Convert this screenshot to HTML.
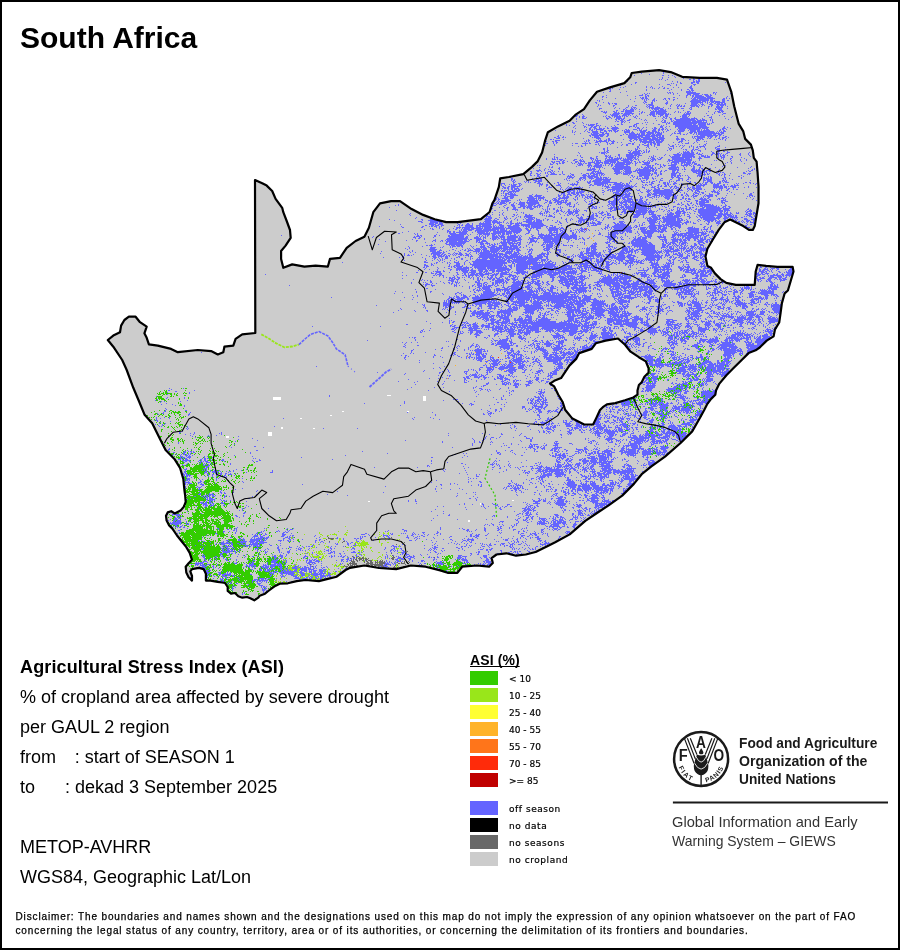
<!DOCTYPE html>
<html><head><meta charset="utf-8"><title>South Africa - Agricultural Stress Index</title>
<style>
html,body{margin:0;padding:0;background:#fff;}
body{width:900px;height:950px;position:relative;overflow:hidden;font-family:"Liberation Sans",Arial,sans-serif;color:#000;}
.frame{position:absolute;left:0;top:0;width:900px;height:950px;box-sizing:border-box;border:2px solid #000;}
.map{position:absolute;left:0;top:0;}
.t{position:absolute;white-space:nowrap;line-height:1;}
h1{position:absolute;left:20px;top:23px;margin:0;font-size:30px;font-weight:bold;line-height:1;white-space:nowrap;}
.info{position:absolute;left:20px;font-size:18px;line-height:1;white-space:nowrap;}
.leg-title{position:absolute;left:470px;top:653px;font-size:14px;font-weight:bold;text-decoration:underline;text-underline-offset:0.8px;text-decoration-thickness:1px;text-decoration-skip-ink:none;letter-spacing:0.1px;line-height:1;white-space:nowrap;}
.sw{position:absolute;left:470px;width:28px;height:14px;}
.lb{position:absolute;left:509px;-webkit-text-stroke:0.2px #000;font-family:"DejaVu Sans","Liberation Sans",sans-serif;font-size:9px;line-height:1;white-space:nowrap;}
.lw{letter-spacing:0.55px;}
.fao{position:absolute;left:739px;font-size:15px;font-weight:bold;line-height:1;white-space:nowrap;color:#1a1a1a;transform:scaleX(0.915);transform-origin:0 0;}
.giews{position:absolute;left:672.2px;font-size:15px;line-height:1;white-space:nowrap;color:#333;transform:scaleX(0.976);transform-origin:0 0;}
.disc{position:absolute;left:15.5px;font-size:10px;letter-spacing:0.87px;-webkit-text-stroke:0.25px #000;line-height:1;white-space:nowrap;color:#000;}
</style></head>
<body>
<svg class="map" width="900" height="950" viewBox="0 0 900 950">
<polygon points="255,180 262.2,183.3 266.7,185.6 272.2,191 275.6,198.9 282.2,207.8 283.3,212.2 286.7,221 290,230 290.7,237.8 285.6,245.6 281.1,251 281.1,258.9 283.3,267.8 292.2,264.4 304.4,266.7 315.6,265.6 327.8,266.7 330,258.9 340,257.8 346.7,247.8 355.6,241 364.4,236.7 368.9,227.8 373.3,212.2 380,203.3 391.1,201.1 400,201.1 411.6,209.1 423.1,214.9 434.7,219.2 446.2,222.1 457.8,222.1 469.3,220.7 480.9,219.2 489.6,212 492.4,203.3 494.4,200.1 498.8,187.1 500.2,178.4 508.9,177 523.3,174.1 532,166.9 537.8,161.1 542.1,152.4 545,140.9 547.9,132.2 558,126.4 569.6,120.7 575.3,114.9 584,109.1 589.8,100.4 597,91.8 610,87.4 624.4,83.1 630.2,77.3 631.7,73 641.8,71.6 659.1,70.1 670.7,72.1 682.2,76.8 699.6,77.9 716.9,77.9 727,79.6 731.3,91.8 734.2,106.2 738.6,123.6 743.3,131.4 745.2,138.9 750.9,144.6 752.8,150.3 753.8,157.9 756.6,161.7 757.6,173 758.5,186.3 758.5,203.3 756.6,214.7 754.7,226.1 752.8,229.9 749,229.9 743.3,226.1 735.8,222.3 730.1,219.5 724.4,222.3 718.7,229.9 713,239.3 707.4,248.8 705.5,256.4 707.4,265.9 711.1,267.8 714.9,273.4 720.6,279.1 726.3,282.9 735.8,284.8 754.7,284.8 755.7,271.5 757.6,264.9 766.1,265.9 777.4,266.8 792.6,266.8 793.5,271.5 790.7,281 787.9,290.5 784.7,293.3 781.9,303.1 780.6,312.8 779.2,322.5 775,329.4 773.6,336.4 766.7,340.6 759.7,347.5 755.6,350.3 748.6,353.1 741.7,360 733.3,368.3 726.4,375.3 719.4,383.6 716,390.6 715.3,394.7 711.1,398.9 707,404.4 704.2,410 700,417.8 692.2,431.4 680.6,443 665,456.7 651.4,466.4 641.7,474.2 633.9,483.9 622.2,495.6 608.6,505.3 597,513 585.3,520.8 569.7,534.4 555.2,542.2 547.8,545.9 535.6,552 525.8,554.5 516,555.7 506.3,553.3 496.5,554.5 491.6,558.1 492.8,563 489.1,566.7 476.9,565.5 462.2,566.7 457.4,572.8 447.6,572.8 440.2,570.4 425.6,566.7 410.9,565.5 396.2,569.1 379.1,568 364.4,565.5 350,567.8 345.6,570 336.7,576.7 327.8,578.9 318.9,581.1 305.6,580 296.7,581.1 287.8,583.3 279.7,583.7 275.7,585.7 271.7,588.3 268.3,591 265,593.7 259.7,595.7 258.3,597.7 254.3,600.3 250.3,598.3 247,597 242.3,597.7 238.3,596.3 235,593 231,593.7 227.7,591 227.7,587 225,583 222.1,582.5 217.5,581.8 210.6,580.6 205.9,580.6 205.9,573.7 203.6,569.1 199,567.9 192,569.1 190.3,571.4 192,576 192,580.6 188.6,577.2 186.3,572.5 185.7,566.8 188.6,563.3 192,559.8 189.7,552.9 186.3,547.1 181.6,541.3 177,535.5 172.4,528.6 168.9,525.1 166.6,520.5 166,515.8 167.7,512.4 171.2,511.2 174.7,513.5 180.5,510.6 183.9,506.6 185.7,501.9 185.1,495 184.4,490 183.3,478.9 180,467.8 174.4,458.9 165.6,450 160,438.9 152.2,423.3 144.4,414.4 138.9,401 133.3,387.8 126.7,370 122.2,360 113.3,346.7 107.8,340 113.3,335.6 120,332.2 121.1,325.6 124.4,320 128.9,316.7 135.6,316.7 140,322.2 146.7,326.7 144.4,333.3 146.7,337.8 148.9,344.4 157.8,345.6 171.1,348.9 177.8,352.2 197.8,350 211.1,351.1 217.8,354.4 223.3,352.2 224.4,346.7 233.3,345.6 235.6,338.9 242.2,334.4 255.3,333" fill="#cccccc"/>
<path d="M663 71.5h1M636 72.5h1m26 0h1m6 0h1M641 73.5h1m21 0h1M649 74.5h1M634 75.5h1m27 0h2m4 0h1m3 0h1M674 76.5h1M662 77.5h1m5 0h1m6 0h1m12 0h1m5 0h1m2 0h1m2 0h2M662 78.5h1m20 0h1m9 0h1m5 0h1M659 79.5h1m1 0h1m5 0h1m21 0h2m2 0h2m3 0h2M665 80.5h1m27 0h1m2 0h1m1 0h2M626 81.5h2m44 0h1m4 0h1m15 0h2m1 0h4M635 82.5h2m40 0h1m2 0h1m10 0h4m1 0h3m26 0h1M635 83.5h1m35 0h1m1 0h1m6 0h2m9 0h2m4 0h2m29 0h1M631 84.5h1m27 0h1m7 0h3m6 0h1m16 0h3m32 0h1M620 85.5h1m49 0h1m5 0h1m14 0h1m2 0h1m34 0h1M625 86.5h1m20 0h1m4 0h1m10 0h1m27 0h2M620 87.5h1m2 0h1m22 0h1m3 0h1m1 0h1m6 0h1m4 0h1m8 0h1m4 0h1m10 0h3M607 88.5h1m2 0h1m1 0h1m39 0h1m1 0h1m3 0h1m4 0h2m2 0h2m21 0h3M609 89.5h2m8 0h1m26 0h1m24 0h1m9 0h1m5 0h2m2 0h2M610 90.5h1m35 0h1m22 0h1m11 0h1m7 0h1m1 0h3M609 91.5h2m15 0h1m59 0h5m1 0h1M603 92.5h1m16 0h1m46 0h1m1 0h2m1 0h1m13 0h10m17 0h2m1 0h1M644 93.5h1m2 0h1m1 0h1m18 0h1m1 0h1m2 0h1m3 0h1m9 0h13m13 0h1m1 0h1m14 0h1M642 94.5h1m2 0h2m26 0h1m13 0h4m2 0h6m3 0h1m1 0h4m2 0h1m4 0h1M606 95.5h1m20 0h1m11 0h4m2 0h1m1 0h2m30 0h1m6 0h2m2 0h1m1 0h2m1 0h7m3 0h4m1 0h2M602 96.5h2m31 0h1m9 0h2m1 0h1m37 0h1m5 0h2m1 0h9m2 0h5m16 0h1M602 97.5h1m3 0h1m33 0h1m1 0h2m1 0h2m26 0h2m11 0h1m5 0h1m1 0h12m1 0h6m13 0h1M615 98.5h1m19 0h1m5 0h3m1 0h3m6 0h1m9 0h2m2 0h2m7 0h1m13 0h1m1 0h3m1 0h18m8 0h2m1 0h1m2 0h1M602 99.5h1m27 0h1m11 0h1m1 0h1m1 0h1m1 0h1m4 0h2m8 0h1m1 0h1m3 0h1m3 0h2m17 0h6m1 0h10m1 0h3m9 0h3M597 100.5h1m1 0h1m44 0h1m1 0h1m5 0h3m1 0h1m9 0h1m6 0h1m17 0h18m1 0h3m1 0h1m7 0h3m2 0h2M599 101.5h1m34 0h1m9 0h2m6 0h1m1 0h1m12 0h1m22 0h11m1 0h4m1 0h1m2 0h10m2 0h3M595 102.5h2m6 0h1m4 0h1m34 0h1m1 0h2m4 0h2m13 0h2m23 0h12m2 0h1m1 0h1m1 0h1m1 0h3m1 0h10M596 103.5h1m11 0h2m2 0h1m1 0h3m27 0h1m6 0h2m12 0h3m17 0h1m5 0h7m2 0h1m1 0h1m4 0h1m2 0h2m2 0h2m1 0h3m1 0h2m1 0h2M598 104.5h1m10 0h1m5 0h2m29 0h1m1 0h5m13 0h1m4 0h1m5 0h1m1 0h1m11 0h6m1 0h1m2 0h3m5 0h4m3 0h10M598 105.5h1m1 0h1m12 0h2m13 0h1m6 0h2m10 0h1m1 0h5m16 0h1m5 0h1m1 0h2m1 0h1m2 0h1m5 0h8m1 0h1m2 0h1m1 0h1m6 0h2m4 0h2m1 0h4m1 0h1M597 106.5h1m15 0h1m14 0h1m3 0h1m13 0h1m1 0h2m2 0h2m3 0h1m12 0h1m6 0h2m1 0h2m1 0h2m6 0h4m1 0h3m2 0h1m6 0h2m1 0h1m4 0h4m1 0h2m4 0h1M615 107.5h1m10 0h2m3 0h1m1 0h3m11 0h1m1 0h5m1 0h5m3 0h1m13 0h1m12 0h2m6 0h1m9 0h1m7 0h7M599 108.5h3m12 0h1m4 0h1m5 0h1m5 0h2m1 0h1m1 0h1m12 0h1m1 0h12m5 0h1m1 0h1m6 0h2m2 0h3m5 0h1m1 0h1m16 0h1m6 0h1m1 0h5m5 0h1M599 109.5h1m23 0h2m1 0h1m3 0h4m1 0h1m3 0h1m12 0h1m1 0h5m1 0h4m1 0h1m24 0h2m23 0h2m1 0h4M616 110.5h2m5 0h1m1 0h9m16 0h1m2 0h1m1 0h2m1 0h8m17 0h1m35 0h4M601 111.5h2m1 0h1m1 0h1m6 0h2m1 0h1m4 0h3m1 0h9m5 0h1m2 0h1m8 0h16m8 0h1m2 0h1m8 0h3m18 0h1m6 0h1m1 0h3m1 0h3M603 112.5h4m7 0h3m1 0h1m6 0h7m9 0h2m1 0h1m5 0h5m1 0h10m8 0h1m3 0h1m1 0h1m4 0h1m1 0h2m1 0h1m23 0h1m3 0h3m1 0h1M577 113.5h1m27 0h1m7 0h7m1 0h2m1 0h10m5 0h1m1 0h1m8 0h5m1 0h11m1 0h1m15 0h1m1 0h5m15 0h1m7 0h1m8 0h3M575 114.5h1m6 0h1m27 0h1m1 0h7m4 0h7m2 0h1m6 0h1m9 0h6m1 0h1m1 0h6m1 0h4m1 0h1m12 0h7m22 0h1m9 0h1M576 115.5h2m5 0h1m22 0h1m4 0h7m1 0h1m2 0h5m1 0h1m1 0h1m5 0h1m10 0h1m2 0h1m1 0h3m5 0h3m2 0h3m14 0h5m2 0h1m17 0h2m10 0h1M573 116.5h1m1 0h2m2 0h1m2 0h3m18 0h1m1 0h1m2 0h2m2 0h1m1 0h7m1 0h1m1 0h1m1 0h2m5 0h1m1 0h1m1 0h1m15 0h3m2 0h1m1 0h1m2 0h1m1 0h3m12 0h1m1 0h5m1 0h1m15 0h1m6 0h1m12 0h1m7 0h1M573 117.5h1m5 0h1m2 0h2m2 0h1m19 0h1m2 0h2m3 0h1m1 0h5m3 0h1m9 0h2m27 0h2m1 0h1m2 0h1m5 0h1m6 0h6m6 0h1m14 0h3m19 0h1M576 118.5h1m5 0h4m20 0h3m2 0h1m4 0h6m1 0h2m11 0h1m2 0h1m15 0h1m6 0h1m2 0h2m3 0h2m2 0h2m4 0h10m1 0h6m5 0h1m8 0h1m13 0h1M576 119.5h1m30 0h1m7 0h2m1 0h2m1 0h3m5 0h2m10 0h1m3 0h1m17 0h1m6 0h2m3 0h20m1 0h2m2 0h1m1 0h3m5 0h1m1 0h1m15 0h1M616 120.5h1m3 0h3m1 0h1m2 0h3m14 0h1m1 0h1m9 0h1m5 0h1m1 0h2m5 0h1m1 0h1m2 0h20m1 0h10m3 0h1m1 0h1M576 121.5h1m38 0h1m1 0h2m2 0h3m1 0h1m35 0h1m2 0h2m5 0h2m1 0h17m1 0h10m1 0h1m2 0h1m5 0h1M572 122.5h2m8 0h1m38 0h2m1 0h1m4 0h1m15 0h1m1 0h1m14 0h4m1 0h1m1 0h1m3 0h34m5 0h2M573 123.5h2m8 0h1m12 0h2m23 0h1m14 0h3m3 0h1m10 0h1m12 0h1m1 0h2m3 0h24m1 0h8m1 0h1m1 0h1m1 0h1M562 124.5h1m3 0h1m19 0h1m1 0h1m1 0h5m1 0h1m20 0h2m2 0h2m11 0h3m9 0h1m11 0h2m6 0h1m6 0h19m1 0h3m2 0h8m1 0h3M561 125.5h1m4 0h1m2 0h1m5 0h1m7 0h1m4 0h6m2 0h3m1 0h1m13 0h1m18 0h2m1 0h1m24 0h1m1 0h1m11 0h23m1 0h7M574 126.5h1m9 0h2m5 0h2m1 0h3m2 0h1m5 0h1m5 0h1m3 0h1m13 0h3m1 0h2m1 0h1m23 0h3m3 0h1m2 0h1m5 0h23m1 0h8m17 0h1M573 127.5h1m10 0h1m1 0h1m3 0h2m1 0h3m3 0h1m7 0h1m4 0h6m11 0h1m5 0h1m1 0h2m4 0h1m2 0h1m7 0h2m4 0h3m2 0h1m9 0h1m2 0h31m14 0h2m2 0h1M575 128.5h1m13 0h2m3 0h3m2 0h3m1 0h2m2 0h2m2 0h8m18 0h3m2 0h1m9 0h1m1 0h3m2 0h1m2 0h2m2 0h1m11 0h8m1 0h14m1 0h6m14 0h4m4 0h1M586 129.5h1m2 0h2m1 0h1m1 0h1m1 0h8m8 0h5m8 0h2m1 0h1m4 0h4m2 0h1m1 0h1m4 0h1m6 0h3m2 0h2m1 0h3m1 0h1m1 0h1m2 0h1m6 0h1m1 0h6m4 0h11m1 0h1m2 0h1m1 0h3m11 0h1m1 0h2m2 0h1M555 130.5h1m16 0h1m12 0h1m3 0h1m1 0h2m3 0h1m3 0h3m1 0h2m2 0h4m1 0h3m1 0h2m3 0h1m1 0h1m1 0h4m7 0h1m1 0h3m1 0h4m5 0h4m2 0h2m2 0h1m4 0h2m9 0h7m3 0h1m1 0h6m1 0h3m1 0h1m1 0h7m9 0h2m2 0h2M572 131.5h1m2 0h1m8 0h1m2 0h1m4 0h6m2 0h1m3 0h3m2 0h1m1 0h1m2 0h4m6 0h6m2 0h1m7 0h6m2 0h2m2 0h5m1 0h1m4 0h1m2 0h1m8 0h1m2 0h6m6 0h6m1 0h17m3 0h1m1 0h1m1 0h1m1 0h3M572 132.5h1m1 0h1m13 0h2m2 0h6m2 0h4m2 0h1m8 0h1m8 0h6m1 0h3m6 0h5m1 0h8m1 0h5m1 0h1m1 0h1m10 0h1m4 0h2m8 0h4m1 0h3m1 0h17m1 0h1m1 0h1m1 0h4m19 0h1M580 133.5h1m10 0h1m1 0h6m3 0h2m1 0h4m16 0h1m3 0h6m2 0h1m1 0h1m1 0h4m2 0h7m1 0h1m1 0h5m10 0h1m1 0h2m1 0h4m6 0h1m2 0h2m2 0h1m1 0h1m1 0h22m1 0h3m19 0h1M574 134.5h1m16 0h7m1 0h6m2 0h2m14 0h1m2 0h2m1 0h11m1 0h4m1 0h5m1 0h3m1 0h6m9 0h1m8 0h1m2 0h2m1 0h1m6 0h1m2 0h1m1 0h14m1 0h3m2 0h4M558 135.5h1m1 0h1m28 0h2m1 0h12m3 0h2m11 0h2m6 0h9m1 0h12m1 0h10m1 0h2m6 0h1m26 0h1m2 0h18m1 0h2m2 0h1M557 136.5h2m4 0h1m26 0h1m3 0h5m1 0h3m3 0h2m20 0h15m2 0h10m1 0h2m1 0h2m1 0h2m12 0h2m14 0h1m1 0h11m2 0h6m2 0h2m2 0h1m5 0h2M554 137.5h2m2 0h2m2 0h2m1 0h1m26 0h1m1 0h6m28 0h12m1 0h9m2 0h4m1 0h7m13 0h1m14 0h1m1 0h1m2 0h8m3 0h1m1 0h2m3 0h1m3 0h1m2 0h4m2 0h1M556 138.5h4m23 0h1m12 0h5m7 0h2m19 0h8m1 0h3m2 0h8m1 0h6m1 0h6m11 0h3m2 0h3m9 0h1m1 0h1m1 0h6m4 0h1m1 0h2m7 0h2m2 0h2m2 0h1M550 139.5h2m1 0h1m9 0h1m24 0h1m9 0h1m1 0h1m5 0h1m1 0h2m13 0h1m6 0h2m2 0h4m1 0h25m12 0h4m1 0h4m11 0h3m1 0h1m1 0h2m10 0h1m1 0h1m3 0h1m1 0h1m2 0h1M555 140.5h5m26 0h1m1 0h2m4 0h1m1 0h1m2 0h3m2 0h3m1 0h3m2 0h1m15 0h2m2 0h1m2 0h1m2 0h3m1 0h4m2 0h5m1 0h5m1 0h3m13 0h1m3 0h2m2 0h1m2 0h1m7 0h4m25 0h1M546 141.5h1m5 0h2m1 0h2m27 0h1m1 0h1m1 0h1m7 0h11m1 0h1m2 0h4m15 0h2m8 0h12m1 0h2m1 0h7m16 0h4m13 0h1m7 0h1m1 0h1M553 142.5h1m2 0h2m27 0h1m3 0h1m5 0h3m2 0h1m5 0h2m4 0h2m3 0h1m3 0h1m12 0h1m5 0h1m1 0h13m1 0h6m11 0h1m4 0h2m1 0h1m6 0h1m5 0h1m2 0h1m20 0h1M546 143.5h2m5 0h1m2 0h1m15 0h1m2 0h3m4 0h6m1 0h2m7 0h1m8 0h1m1 0h1m1 0h3m14 0h3m1 0h2m10 0h2m2 0h1m1 0h2m1 0h3m1 0h3m22 0h1m2 0h4m4 0h1m12 0h1M554 144.5h1m30 0h1m9 0h2m1 0h1m8 0h1m2 0h1m11 0h1m3 0h2m4 0h2m5 0h1m2 0h2m3 0h2m1 0h2m2 0h2m1 0h3m8 0h1m6 0h1m2 0h1m20 0h1m4 0h2M545 145.5h1m8 0h1m17 0h1m8 0h1m3 0h1m13 0h1m21 0h1m4 0h2m11 0h1m4 0h5m2 0h1m2 0h1m2 0h3m9 0h1m2 0h2m6 0h1m1 0h1m1 0h1m6 0h1m11 0h1m1 0h1m13 0h1M578 146.5h1m2 0h2m54 0h2m8 0h2m5 0h1m15 0h4m2 0h1m2 0h1m3 0h1m5 0h1m1 0h1m1 0h1m3 0h1m1 0h6m12 0h3M607 147.5h1m9 0h1m19 0h2m7 0h1m1 0h1m7 0h1m11 0h1m4 0h1m8 0h1m6 0h1m3 0h1m2 0h2m2 0h1m3 0h1m10 0h2m8 0h1M603 148.5h2m2 0h1m27 0h1m1 0h1m1 0h1m9 0h1m19 0h3m1 0h1m7 0h1m11 0h1m4 0h1m6 0h1m9 0h1m1 0h3M603 149.5h2m2 0h1m27 0h3m8 0h1m10 0h1m11 0h1m1 0h1m11 0h1m1 0h2m5 0h2m1 0h3m7 0h1m10 0h4m5 0h1m1 0h1M604 150.5h1m2 0h2m19 0h2m1 0h1m3 0h2m1 0h3m2 0h1m2 0h1m2 0h1m17 0h1m2 0h1m15 0h1m4 0h2m1 0h1m3 0h3m16 0h3m3 0h1M604 151.5h1m1 0h2m22 0h1m2 0h7m1 0h1m2 0h1m1 0h1m1 0h2m33 0h1m1 0h1m1 0h2m2 0h2m7 0h1m10 0h1m6 0h2m3 0h2m2 0h1M578 152.5h1m20 0h1m1 0h5m1 0h2m19 0h3m1 0h8m3 0h2m1 0h1m1 0h1m30 0h1m3 0h7m1 0h3m3 0h1m14 0h2m2 0h1m1 0h1m8 0h3m19 0h1M579 153.5h1m21 0h4m1 0h1m22 0h12m1 0h1m34 0h2m2 0h1m1 0h11m2 0h2m1 0h1m2 0h1m9 0h3m1 0h4m1 0h1m4 0h2m12 0h1m7 0h1M554 154.5h1m49 0h1m13 0h2m6 0h7m1 0h6m25 0h1m7 0h8m1 0h13m3 0h4m9 0h2m2 0h1m1 0h2m1 0h1m2 0h1m1 0h1m13 0h2m7 0h1M577 155.5h1m2 0h1m24 0h2m1 0h1m1 0h1m7 0h2m6 0h11m1 0h4m11 0h1m10 0h1m4 0h1m4 0h7m1 0h12m7 0h3m1 0h1m1 0h1m3 0h1m6 0h1m1 0h1m1 0h3m2 0h1m12 0h1m8 0h1M554 156.5h1m25 0h1m15 0h2m7 0h3m1 0h2m4 0h1m3 0h1m6 0h8m1 0h1m1 0h2m10 0h1m1 0h1m1 0h1m1 0h1m14 0h1m1 0h8m2 0h13m4 0h1m1 0h5m1 0h3m8 0h1m1 0h2m1 0h2m6 0h2m17 0h1M554 157.5h1m1 0h2m23 0h2m7 0h2m4 0h1m9 0h1m1 0h5m4 0h1m1 0h1m1 0h1m5 0h9m2 0h1m12 0h3m5 0h1m1 0h2m8 0h21m1 0h2m4 0h2m3 0h6m7 0h2m2 0h4m7 0h1m8 0h1M546 158.5h1m5 0h1m1 0h1m2 0h1m7 0h1m24 0h4m2 0h2m7 0h2m2 0h1m1 0h2m1 0h8m1 0h1m1 0h1m1 0h6m1 0h2m1 0h1m10 0h1m1 0h1m1 0h3m2 0h1m2 0h2m10 0h12m1 0h5m1 0h1m6 0h4m19 0h1m1 0h1m6 0h2m12 0h1M546 159.5h1m5 0h4m1 0h1m1 0h4m11 0h3m3 0h1m1 0h1m8 0h1m1 0h1m1 0h1m1 0h1m7 0h1m1 0h12m1 0h1m2 0h9m1 0h1m1 0h2m1 0h1m12 0h5m2 0h3m7 0h2m2 0h20m7 0h1m23 0h1m6 0h1m9 0h1m5 0h1M560 160.5h2m1 0h2m8 0h2m4 0h3m1 0h1m8 0h1m2 0h6m4 0h13m3 0h8m1 0h3m5 0h1m5 0h1m3 0h1m1 0h1m1 0h2m1 0h1m12 0h5m1 0h18m7 0h1m14 0h1m1 0h1m14 0h1m8 0h1m5 0h1M551 161.5h2m1 0h1m1 0h4m2 0h2m3 0h1m7 0h3m2 0h5m7 0h1m1 0h1m1 0h3m1 0h1m3 0h12m1 0h2m4 0h7m1 0h1m2 0h2m3 0h1m2 0h2m3 0h1m1 0h1m1 0h2m14 0h1m1 0h1m2 0h14m1 0h4m2 0h1m1 0h1m34 0h1m10 0h1M552 162.5h3m4 0h1m2 0h3m6 0h1m3 0h2m1 0h1m1 0h1m3 0h1m3 0h7m1 0h7m1 0h5m1 0h6m1 0h15m3 0h1m1 0h1m1 0h2m2 0h7m21 0h8m2 0h10m1 0h3m32 0h1m3 0h1M550 163.5h1m2 0h1m2 0h2m1 0h2m1 0h2m8 0h1m1 0h1m3 0h4m1 0h1m1 0h2m1 0h3m3 0h6m2 0h1m1 0h7m1 0h1m1 0h1m1 0h9m1 0h5m1 0h1m2 0h2m7 0h6m5 0h2m11 0h1m2 0h1m2 0h3m1 0h1m2 0h2m1 0h1m1 0h5m1 0h1m1 0h3m28 0h1m5 0h1m12 0h1M550 164.5h3m4 0h1m19 0h1m1 0h4m5 0h3m4 0h4m1 0h2m3 0h1m3 0h1m1 0h2m2 0h15m5 0h1m6 0h7m6 0h1m1 0h2m1 0h1m2 0h1m7 0h6m4 0h1m2 0h6m1 0h1m2 0h3m1 0h2m11 0h1M537 165.5h1m1 0h2m37 0h3m1 0h1m4 0h5m2 0h8m1 0h1m1 0h1m2 0h1m2 0h2m2 0h9m2 0h2m7 0h1m10 0h5m1 0h2m6 0h1m2 0h3m2 0h8m5 0h7m1 0h2m2 0h1m3 0h4m1 0h1m20 0h1m1 0h1M549 166.5h1m2 0h1m23 0h1m11 0h2m1 0h1m1 0h9m9 0h1m2 0h16m11 0h1m3 0h1m1 0h4m1 0h1m7 0h2m2 0h1m6 0h5m1 0h1m5 0h1m2 0h1m4 0h1m1 0h2m5 0h1m21 0h1m28 0h1M539 167.5h1m9 0h1m1 0h2m6 0h1m28 0h1m1 0h1m3 0h1m1 0h5m1 0h1m10 0h1m1 0h16m10 0h2m1 0h9m2 0h1m4 0h1m1 0h1m6 0h10m5 0h1m8 0h2m4 0h2m14 0h1m21 0h1m12 0h1M533 168.5h1m11 0h1m12 0h2m30 0h1m1 0h3m4 0h1m4 0h1m7 0h19m6 0h1m1 0h1m3 0h6m1 0h4m1 0h1m2 0h2m8 0h9m1 0h1m5 0h1m7 0h3m4 0h1m1 0h2m2 0h1m3 0h2m37 0h1m5 0h1M539 169.5h1m4 0h1m3 0h1m1 0h1m8 0h1m27 0h9m3 0h1m13 0h10m1 0h7m5 0h1m1 0h13m1 0h3m1 0h1m12 0h10m3 0h1m1 0h2m5 0h4m1 0h1m1 0h2m2 0h3m3 0h1m10 0h1m32 0h1m1 0h1M536 170.5h5m3 0h1m6 0h2m34 0h5m1 0h2m3 0h1m1 0h1m13 0h6m3 0h1m1 0h6m4 0h19m1 0h2m4 0h1m3 0h2m5 0h4m1 0h2m12 0h10m1 0h3m1 0h5m7 0h1m2 0h1m26 0h1m2 0h2m3 0h1M530 171.5h2m5 0h2m2 0h1m6 0h3m1 0h1m1 0h1m3 0h1m3 0h1m29 0h7m1 0h1m13 0h6m1 0h1m2 0h8m1 0h3m1 0h1m1 0h12m1 0h2m1 0h1m4 0h2m2 0h1m7 0h3m2 0h1m6 0h1m7 0h15m2 0h2m6 0h2m27 0h1m2 0h2M531 172.5h1m13 0h1m1 0h1m2 0h2m1 0h1m8 0h1m28 0h3m1 0h1m1 0h5m13 0h6m2 0h1m1 0h7m5 0h13m4 0h3m3 0h1m11 0h3m1 0h3m14 0h4m1 0h7m1 0h1m11 0h1m1 0h1m1 0h2m19 0h2M530 173.5h2m4 0h2m2 0h1m4 0h1m1 0h1m3 0h4m7 0h1m7 0h1m10 0h1m4 0h3m1 0h5m1 0h8m10 0h6m1 0h1m1 0h8m7 0h13m1 0h1m1 0h3m3 0h2m9 0h6m2 0h2m15 0h7m1 0h1m2 0h1m1 0h1m6 0h2m1 0h1m4 0h1m5 0h1m12 0h3m2 0h3M530 174.5h1m6 0h3m8 0h1m1 0h7m2 0h2m2 0h2m6 0h3m9 0h3m2 0h1m1 0h1m2 0h5m1 0h1m1 0h2m1 0h1m11 0h2m5 0h5m1 0h1m9 0h11m1 0h2m3 0h1m1 0h1m1 0h2m9 0h5m3 0h1m18 0h3m1 0h4m1 0h2m9 0h2m2 0h1m1 0h2m21 0h1m1 0h1M530 175.5h2m2 0h1m2 0h2m1 0h1m5 0h2m20 0h1m1 0h1m1 0h2m8 0h5m1 0h2m1 0h4m1 0h2m1 0h1m1 0h1m1 0h1m24 0h1m2 0h2m6 0h11m1 0h1m5 0h2m12 0h5m1 0h4m1 0h1m2 0h1m1 0h1m9 0h6m1 0h1m14 0h1m1 0h1m2 0h1m4 0h1m11 0h1M537 176.5h3m6 0h2m19 0h5m2 0h1m8 0h3m1 0h11m2 0h1m31 0h1m1 0h1m2 0h1m1 0h3m2 0h5m6 0h1m1 0h1m13 0h2m1 0h2m1 0h2m1 0h1m7 0h1m8 0h1m1 0h3m6 0h1m1 0h1m13 0h1m13 0h2m3 0h1M510 177.5h1m25 0h1m2 0h1m27 0h1m1 0h5m6 0h6m2 0h5m1 0h5m1 0h2m1 0h4m1 0h1m21 0h1m2 0h1m3 0h1m4 0h1m1 0h5m3 0h1m18 0h3m2 0h4m8 0h2m11 0h1m1 0h2m1 0h1m1 0h1m1 0h2m12 0h2m15 0h1M511 178.5h2m19 0h1m6 0h3m24 0h1m1 0h2m2 0h1m6 0h3m1 0h3m3 0h5m2 0h6m1 0h1m1 0h3m2 0h1m25 0h2m1 0h2m1 0h7m3 0h2m1 0h1m5 0h2m9 0h1m5 0h5m5 0h1m1 0h1m10 0h1m1 0h6m1 0h2m10 0h2m1 0h1m3 0h1m11 0h1M511 179.5h2m1 0h1m21 0h3m1 0h2m22 0h1m1 0h1m12 0h2m1 0h1m2 0h1m5 0h1m3 0h16m21 0h1m5 0h1m1 0h1m5 0h2m5 0h1m6 0h1m9 0h2m6 0h2m2 0h1m4 0h2m14 0h2m1 0h6m11 0h1m1 0h1m6 0h1M511 180.5h1m1 0h2m13 0h1m4 0h4m1 0h4m25 0h1m1 0h1m8 0h1m1 0h1m3 0h1m5 0h1m2 0h9m1 0h7m20 0h1m10 0h1m1 0h2m1 0h1m9 0h1m3 0h3m6 0h1m6 0h4m2 0h1m3 0h1m16 0h3m1 0h5m10 0h3m1 0h1m23 0h1M512 181.5h2m1 0h1m8 0h1m1 0h1m1 0h1m6 0h7m34 0h2m9 0h1m1 0h2m1 0h9m1 0h8m20 0h2m9 0h2m6 0h1m2 0h3m4 0h1m9 0h1m1 0h1m1 0h1m2 0h1m10 0h2m1 0h1m12 0h1m3 0h5m7 0h2m1 0h1m1 0h3M513 182.5h2m10 0h1m2 0h1m1 0h1m3 0h2m2 0h2m7 0h1m9 0h2m18 0h2m8 0h4m3 0h23m3 0h2m7 0h1m12 0h3m1 0h2m1 0h1m1 0h2m6 0h1m3 0h3m1 0h1m1 0h1m4 0h2m13 0h2m3 0h2m7 0h1m1 0h3m2 0h3m6 0h2m2 0h1m1 0h4m16 0h2m2 0h2M501 183.5h4m8 0h1m4 0h3m16 0h4m1 0h1m11 0h1m3 0h1m1 0h1m7 0h1m3 0h1m1 0h1m2 0h1m10 0h2m4 0h14m6 0h7m1 0h2m2 0h2m1 0h1m6 0h1m14 0h3m9 0h3m1 0h2m4 0h4m4 0h1m13 0h1m3 0h2m1 0h1m2 0h2m4 0h2m1 0h1m2 0h4m15 0h1m1 0h1m4 0h1m6 0h1m2 0h1m2 0h1M501 184.5h1m2 0h1m4 0h1m1 0h1m1 0h4m2 0h1m1 0h1m17 0h4m3 0h2m10 0h2m10 0h8m12 0h2m2 0h10m1 0h1m1 0h1m1 0h2m2 0h10m1 0h1m1 0h3m6 0h1m6 0h1m2 0h2m2 0h3m6 0h2m4 0h2m1 0h2m1 0h1m2 0h2m4 0h1m1 0h3m3 0h1m7 0h1m2 0h1m1 0h2m1 0h4m6 0h6m4 0h2m2 0h1m6 0h1m2 0h1m17 0h1M501 185.5h1m3 0h1m5 0h5m3 0h2m18 0h1m1 0h1m4 0h2m8 0h5m11 0h2m2 0h1m12 0h2m1 0h2m3 0h4m1 0h2m1 0h1m2 0h1m1 0h1m4 0h15m1 0h1m2 0h1m8 0h1m1 0h1m1 0h1m3 0h1m5 0h2m2 0h1m3 0h2m1 0h1m6 0h1m6 0h1m4 0h1m6 0h1m1 0h9m8 0h6m1 0h2m1 0h2m6 0h2m1 0h5m19 0h1M502 186.5h2m4 0h2m1 0h9m19 0h1m6 0h1m2 0h1m10 0h1m7 0h1m10 0h1m22 0h1m1 0h5m3 0h12m1 0h9m1 0h2m5 0h1m9 0h1m1 0h2m2 0h1m1 0h2m2 0h3m2 0h1m1 0h2m1 0h3m10 0h1m4 0h2m2 0h5m2 0h1m9 0h10m1 0h3m1 0h1m1 0h6m12 0h1M503 187.5h3m1 0h2m2 0h4m2 0h1m30 0h4m9 0h1m5 0h1m1 0h3m2 0h7m1 0h1m6 0h1m16 0h4m1 0h12m1 0h9m9 0h3m6 0h4m2 0h2m11 0h2m2 0h1m1 0h3m2 0h1m2 0h1m3 0h1m1 0h1m1 0h3m1 0h5m12 0h10m1 0h3m5 0h4m2 0h1m5 0h1m3 0h1m7 0h1M502 188.5h1m1 0h2m1 0h2m2 0h2m1 0h5m3 0h1m23 0h2m12 0h1m5 0h1m1 0h4m1 0h3m1 0h3m1 0h1m20 0h1m2 0h1m1 0h1m4 0h20m12 0h1m9 0h2m2 0h2m2 0h2m6 0h1m2 0h1m1 0h2m1 0h2m7 0h3m2 0h10m12 0h1m1 0h1m2 0h4m3 0h1m1 0h2m3 0h1M508 189.5h1m2 0h2m1 0h3m1 0h2m1 0h1m25 0h1m12 0h1m1 0h1m2 0h1m1 0h4m1 0h1m1 0h1m1 0h1m1 0h2m1 0h2m25 0h13m1 0h10m4 0h1m2 0h1m6 0h1m1 0h1m2 0h1m2 0h6m4 0h6m1 0h2m4 0h2m2 0h1m5 0h1m1 0h3m1 0h2m1 0h6m2 0h1m8 0h1m5 0h1m1 0h1m5 0h2m4 0h1m2 0h2M501 190.5h2m1 0h3m1 0h1m3 0h3m1 0h4m43 0h1m2 0h9m2 0h1m1 0h1m1 0h2m19 0h2m3 0h2m1 0h1m1 0h3m1 0h16m5 0h3m7 0h4m2 0h20m3 0h2m2 0h3m5 0h1m2 0h2m2 0h4m14 0h2m3 0h1m2 0h1m4 0h2M501 191.5h1m1 0h2m2 0h1m1 0h10m28 0h1m16 0h2m1 0h4m2 0h2m2 0h1m1 0h6m19 0h1m5 0h1m1 0h1m3 0h4m1 0h8m11 0h1m5 0h4m3 0h20m5 0h2m7 0h1m4 0h1m2 0h1m1 0h3m5 0h1m5 0h5m1 0h1m1 0h1m9 0h1M503 192.5h1m4 0h4m1 0h1m1 0h1m43 0h1m2 0h3m2 0h3m1 0h4m1 0h8m4 0h1m2 0h1m10 0h2m9 0h6m1 0h1m2 0h3m1 0h1m1 0h1m11 0h2m4 0h2m1 0h1m3 0h20m2 0h2m2 0h1m3 0h1m9 0h3m2 0h1m1 0h3m8 0h1m1 0h5m12 0h1m21 0h1M501 193.5h1m1 0h1m1 0h4m1 0h3m1 0h1m46 0h4m3 0h2m1 0h4m1 0h3m1 0h2m31 0h1m1 0h7m1 0h1m1 0h2m1 0h3m7 0h1m9 0h2m1 0h1m1 0h19m1 0h1m1 0h1m8 0h1m1 0h1m6 0h1m1 0h4m3 0h2m5 0h1m7 0h3m7 0h1m15 0h1m6 0h2M505 194.5h2m1 0h8m16 0h1m3 0h1m21 0h1m2 0h1m1 0h2m2 0h4m2 0h3m1 0h2m2 0h3m2 0h1m1 0h1m1 0h1m1 0h1m10 0h1m11 0h15m17 0h4m1 0h5m2 0h14m2 0h1m5 0h2m3 0h2m5 0h2m3 0h1m1 0h1m4 0h1m3 0h4m4 0h2m15 0h1m14 0h3M501 195.5h1m1 0h1m1 0h2m3 0h8m11 0h3m3 0h7m16 0h3m2 0h3m1 0h1m2 0h2m4 0h2m1 0h1m1 0h4m2 0h1m2 0h2m21 0h11m1 0h5m9 0h1m7 0h4m3 0h6m1 0h2m1 0h9m1 0h2m1 0h1m3 0h2m2 0h1m1 0h2m3 0h2m1 0h3m6 0h1m1 0h7m2 0h2m9 0h1m22 0h4M504 196.5h2m1 0h7m15 0h4m1 0h7m2 0h1m14 0h2m3 0h2m1 0h3m6 0h2m2 0h1m2 0h1m2 0h1m1 0h6m20 0h10m1 0h9m7 0h2m3 0h1m1 0h2m3 0h3m1 0h1m2 0h1m1 0h1m1 0h1m1 0h6m3 0h3m6 0h1m2 0h1m1 0h1m2 0h1m1 0h4m6 0h1m1 0h1m1 0h6m3 0h1m30 0h1m1 0h1m2 0h1m1 0h1M497 197.5h1m6 0h4m2 0h4m13 0h7m2 0h1m1 0h7m11 0h1m2 0h2m1 0h7m6 0h1m1 0h1m4 0h1m2 0h3m1 0h2m1 0h2m18 0h3m2 0h2m1 0h1m1 0h7m2 0h1m2 0h1m5 0h1m1 0h1m2 0h1m3 0h3m2 0h1m1 0h1m1 0h1m5 0h6m4 0h3m5 0h2m9 0h1m7 0h1m1 0h1m4 0h2m12 0h1m2 0h1m24 0h1M496 198.5h1m1 0h1m3 0h6m2 0h3m15 0h9m1 0h6m9 0h3m2 0h10m5 0h1m3 0h1m6 0h1m2 0h2m1 0h2m2 0h1m4 0h1m14 0h4m1 0h2m1 0h3m2 0h5m8 0h3m9 0h1m12 0h5m3 0h4m5 0h2m1 0h2m1 0h2m4 0h1m5 0h3m1 0h2m1 0h2m9 0h2m1 0h4m21 0h1m6 0h1M494 199.5h3m1 0h2m5 0h4m10 0h1m1 0h1m6 0h7m1 0h1m1 0h1m1 0h1m2 0h1m1 0h1m6 0h1m1 0h3m1 0h2m4 0h1m1 0h1m7 0h2m1 0h1m7 0h1m6 0h1m1 0h1m7 0h1m11 0h6m3 0h3m1 0h6m2 0h3m1 0h3m4 0h2m8 0h1m10 0h2m6 0h1m4 0h2m3 0h1m2 0h3m8 0h8m2 0h2m6 0h1m1 0h1m3 0h1m1 0h1m26 0h1M495 200.5h1m2 0h1m2 0h10m6 0h1m1 0h1m7 0h11m1 0h2m4 0h3m2 0h1m2 0h6m2 0h3m1 0h3m7 0h1m8 0h1m6 0h2m10 0h1m5 0h1m3 0h6m3 0h1m1 0h7m1 0h1m3 0h2m1 0h4m3 0h1m23 0h1m5 0h1m9 0h1m8 0h3m3 0h8m1 0h1m10 0h5m30 0h1M493 201.5h2m2 0h1m1 0h1m1 0h8m11 0h1m6 0h1m1 0h9m9 0h1m1 0h2m4 0h7m1 0h1m1 0h2m18 0h1m3 0h1m1 0h1m2 0h1m13 0h10m1 0h1m1 0h1m1 0h11m4 0h5m1 0h2m12 0h1m5 0h1m9 0h1m9 0h1m2 0h3m6 0h2m1 0h6m1 0h3m12 0h2m2 0h3M493 202.5h1m2 0h1m1 0h1m1 0h5m1 0h1m2 0h2m3 0h1m4 0h6m1 0h13m6 0h2m2 0h3m2 0h2m1 0h10m2 0h2m6 0h1m8 0h1m4 0h2m2 0h1m2 0h2m8 0h2m1 0h7m1 0h8m1 0h8m1 0h7m1 0h2m2 0h2m10 0h1m5 0h1m5 0h2m6 0h1m9 0h1m4 0h1m2 0h10m12 0h4M493 203.5h3m1 0h2m1 0h6m3 0h1m3 0h1m2 0h1m2 0h6m2 0h12m5 0h1m4 0h3m5 0h2m1 0h2m3 0h1m1 0h4m5 0h1m12 0h4m2 0h1m1 0h1m11 0h9m2 0h3m2 0h2m3 0h1m1 0h15m2 0h1m15 0h1m12 0h1m2 0h1m5 0h1m2 0h2m4 0h2m1 0h6m17 0h1m1 0h1M398 204.5h1m94 0h1m2 0h1m2 0h3m4 0h1m4 0h3m4 0h7m3 0h8m2 0h2m8 0h1m7 0h1m1 0h3m5 0h5m3 0h1m3 0h1m9 0h3m3 0h1m13 0h2m1 0h7m1 0h1m1 0h1m1 0h5m2 0h9m1 0h10m1 0h1m3 0h1m3 0h2m16 0h3m2 0h2m3 0h2m4 0h1m3 0h1m1 0h12m1 0h1m12 0h1M395 205.5h1m2 0h1m94 0h3m8 0h2m5 0h4m5 0h5m1 0h1m1 0h5m1 0h1m2 0h5m6 0h1m1 0h1m16 0h1m1 0h1m4 0h1m15 0h3m14 0h1m2 0h1m1 0h3m1 0h1m2 0h3m2 0h3m1 0h1m1 0h16m2 0h1m1 0h1m1 0h2m3 0h2m2 0h1m6 0h1m12 0h1m3 0h1m2 0h2m2 0h1m2 0h1m4 0h14m2 0h1m4 0h1m3 0h2M492 206.5h1m10 0h1m8 0h3m5 0h6m1 0h5m1 0h5m1 0h2m1 0h1m4 0h2m11 0h1m8 0h3m1 0h2m13 0h1m2 0h3m1 0h2m5 0h1m5 0h1m2 0h1m1 0h2m2 0h2m2 0h3m1 0h6m1 0h15m1 0h2m1 0h1m1 0h3m6 0h1m1 0h1m3 0h1m4 0h3m9 0h2m9 0h1m1 0h1m1 0h3m1 0h13m1 0h1m4 0h3m2 0h2M389 207.5h1m109 0h1m4 0h1m2 0h2m4 0h3m2 0h3m2 0h2m1 0h6m2 0h2m1 0h1m1 0h1m7 0h1m10 0h1m1 0h1m1 0h1m10 0h1m18 0h3m1 0h1m2 0h1m10 0h7m1 0h1m1 0h4m1 0h22m1 0h1m1 0h1m1 0h1m2 0h1m9 0h2m6 0h1m3 0h2m1 0h1m5 0h1m2 0h2m1 0h2m8 0h3m1 0h14m2 0h2m1 0h1m3 0h2M491 208.5h2m13 0h2m5 0h3m7 0h2m2 0h1m1 0h5m8 0h1m4 0h1m1 0h1m3 0h2m5 0h1m15 0h1m10 0h1m3 0h2m1 0h3m11 0h5m1 0h3m1 0h2m1 0h1m1 0h2m1 0h8m1 0h16m8 0h1m9 0h1m7 0h1m1 0h1m1 0h3m1 0h2m2 0h2m5 0h1m3 0h4m2 0h16m1 0h7m18 0h1M491 209.5h1m15 0h1m4 0h6m12 0h3m10 0h1m1 0h1m1 0h1m1 0h1m3 0h2m2 0h1m3 0h1m6 0h2m4 0h1m1 0h1m1 0h1m31 0h2m2 0h7m1 0h5m1 0h7m1 0h1m1 0h9m1 0h1m1 0h1m8 0h1m1 0h2m3 0h1m4 0h1m1 0h1m3 0h1m1 0h1m1 0h1m1 0h1m2 0h4m1 0h1m3 0h2m1 0h23m2 0h6m18 0h2m1 0h1M396 210.5h1m93 0h1m3 0h2m6 0h1m4 0h1m7 0h1m1 0h1m27 0h1m1 0h1m8 0h3m1 0h2m6 0h2m3 0h1m1 0h3m1 0h1m4 0h3m23 0h1m1 0h4m7 0h3m3 0h6m1 0h12m1 0h3m5 0h1m6 0h1m3 0h2m1 0h2m4 0h3m2 0h2m2 0h1m6 0h1m4 0h25m1 0h6m16 0h1m2 0h3M489 211.5h1m51 0h1m3 0h4m7 0h3m2 0h2m1 0h1m2 0h5m1 0h6m7 0h1m12 0h1m2 0h1m3 0h1m3 0h2m10 0h4m3 0h18m1 0h7m1 0h1m6 0h1m3 0h1m1 0h1m6 0h9m9 0h2m2 0h20m1 0h4m1 0h2m1 0h1m17 0h1m1 0h5m5 0h1M489 212.5h1m2 0h1m6 0h1m3 0h1m12 0h1m4 0h1m1 0h1m16 0h1m3 0h1m1 0h2m1 0h1m4 0h1m1 0h1m6 0h1m2 0h1m1 0h6m1 0h3m14 0h1m5 0h1m2 0h3m3 0h1m13 0h2m1 0h3m1 0h1m1 0h2m1 0h1m1 0h12m1 0h6m14 0h1m1 0h2m3 0h6m2 0h3m1 0h1m1 0h1m8 0h20m2 0h2m2 0h1m1 0h2m2 0h1m5 0h1m1 0h1m7 0h2m2 0h1m2 0h2m1 0h1M410 213.5h1m77 0h1m13 0h1m20 0h1m15 0h4m1 0h1m1 0h1m6 0h1m5 0h1m5 0h1m2 0h5m2 0h3m15 0h1m1 0h2m2 0h4m4 0h3m14 0h2m1 0h1m5 0h1m2 0h5m1 0h4m3 0h1m1 0h3m13 0h1m1 0h5m1 0h6m1 0h3m5 0h1m3 0h1m4 0h17m2 0h5m1 0h4m2 0h2m4 0h3m7 0h1m1 0h4m1 0h4M409 214.5h1m77 0h1m1 0h1m2 0h1m6 0h1m2 0h1m10 0h2m2 0h1m7 0h2m2 0h1m10 0h1m1 0h1m6 0h1m4 0h1m5 0h1m6 0h1m1 0h2m1 0h1m1 0h1m3 0h1m3 0h2m8 0h2m2 0h1m4 0h1m2 0h2m1 0h2m1 0h1m9 0h2m11 0h12m4 0h7m9 0h1m1 0h7m2 0h4m4 0h1m2 0h2m8 0h1m2 0h16m2 0h13m1 0h1m12 0h3m1 0h3m1 0h1m1 0h1M410 215.5h1m75 0h2m2 0h1m8 0h1m3 0h1m10 0h1m1 0h1m8 0h8m9 0h1m1 0h1m1 0h1m2 0h3m12 0h1m2 0h2m4 0h1m2 0h3m4 0h1m5 0h1m1 0h3m1 0h3m4 0h2m3 0h4m23 0h6m3 0h1m8 0h4m1 0h4m6 0h6m1 0h6m1 0h1m2 0h1m4 0h1m8 0h24m1 0h3m1 0h5m1 0h1m1 0h2m10 0h4m3 0h1m1 0h1M486 216.5h5m15 0h1m5 0h2m4 0h1m1 0h1m3 0h8m14 0h1m1 0h5m1 0h1m21 0h1m4 0h1m5 0h7m2 0h2m7 0h1m6 0h2m19 0h6m4 0h1m7 0h6m1 0h2m3 0h1m1 0h16m6 0h3m6 0h1m2 0h2m1 0h12m3 0h5m2 0h3m1 0h6m1 0h2m7 0h1m1 0h1m2 0h3m2 0h1m1 0h1M416 217.5h1m13 0h1m55 0h1m1 0h4m7 0h1m4 0h1m1 0h1m9 0h1m3 0h1m3 0h1m1 0h9m18 0h2m6 0h1m15 0h2m1 0h3m6 0h5m5 0h1m1 0h1m2 0h1m2 0h4m1 0h2m19 0h5m5 0h1m2 0h1m2 0h2m1 0h6m1 0h1m2 0h3m1 0h13m10 0h2m6 0h1m2 0h15m1 0h5m3 0h5m1 0h8m3 0h2m8 0h2M415 218.5h1m15 0h2m52 0h7m3 0h2m7 0h2m1 0h1m2 0h1m4 0h1m9 0h1m2 0h5m1 0h1m1 0h1m8 0h1m15 0h1m4 0h1m4 0h1m6 0h5m3 0h10m7 0h1m4 0h1m4 0h1m1 0h1m3 0h2m24 0h1m1 0h5m1 0h5m1 0h2m1 0h14m1 0h5m7 0h1m11 0h1m1 0h17m3 0h5m4 0h1m1 0h1m1 0h1m7 0h3m6 0h2M389 219.5h1m31 0h2m7 0h5m49 0h7m3 0h1m2 0h2m6 0h2m7 0h1m2 0h1m5 0h1m2 0h8m2 0h4m3 0h1m3 0h2m16 0h2m3 0h1m1 0h1m6 0h15m2 0h1m6 0h1m9 0h2m8 0h1m11 0h1m11 0h1m1 0h11m3 0h13m1 0h3m1 0h2m3 0h1m11 0h2m3 0h13m2 0h1m5 0h2m2 0h1m3 0h2m1 0h1m1 0h1m6 0h4m3 0h5M394 220.5h1m27 0h1m5 0h9m1 0h1m46 0h7m1 0h4m7 0h1m6 0h1m5 0h1m8 0h6m2 0h1m1 0h6m1 0h1m3 0h1m4 0h1m4 0h1m8 0h1m3 0h1m7 0h7m1 0h1m1 0h1m1 0h1m2 0h1m1 0h2m5 0h1m31 0h2m11 0h10m3 0h1m2 0h13m1 0h6m1 0h1m2 0h1m9 0h1m2 0h1m4 0h9m1 0h2m2 0h1m4 0h2m9 0h2m5 0h1m3 0h4m3 0h2M418 221.5h4m8 0h12m42 0h7m1 0h6m1 0h1m3 0h1m6 0h2m11 0h9m1 0h2m1 0h6m15 0h1m1 0h1m6 0h1m9 0h1m1 0h4m1 0h2m1 0h1m5 0h1m4 0h3m19 0h5m6 0h1m3 0h1m13 0h8m1 0h1m1 0h1m1 0h1m1 0h18m5 0h3m1 0h1m7 0h1m5 0h1m2 0h3m1 0h2m2 0h1m1 0h4m3 0h2m12 0h2m1 0h1m1 0h1m2 0h3m1 0h1m2 0h1M421 222.5h2m7 0h8m1 0h3m11 0h1m2 0h1m1 0h1m2 0h1m18 0h1m2 0h1m1 0h6m1 0h10m1 0h1m3 0h1m2 0h2m5 0h1m1 0h1m1 0h1m4 0h16m13 0h2m2 0h2m6 0h1m10 0h1m1 0h2m1 0h1m1 0h4m1 0h1m1 0h3m3 0h4m11 0h2m4 0h4m1 0h1m6 0h1m1 0h1m4 0h1m4 0h2m4 0h8m2 0h1m2 0h3m1 0h16m2 0h5m1 0h1m2 0h1m14 0h2m6 0h4m18 0h2m2 0h1m1 0h1m2 0h1m2 0h4M429 223.5h5m1 0h3m1 0h4m14 0h1m2 0h1m6 0h2m3 0h1m6 0h12m2 0h2m2 0h3m6 0h1m1 0h1m1 0h4m1 0h7m6 0h15m17 0h2m11 0h1m1 0h1m3 0h2m5 0h1m1 0h1m1 0h6m1 0h4m13 0h2m1 0h2m1 0h4m18 0h1m6 0h6m3 0h2m6 0h14m2 0h2m1 0h2m6 0h3m10 0h1m1 0h1m7 0h5m1 0h2m15 0h1m6 0h1m6 0h1M400 224.5h1m28 0h7m2 0h5m15 0h2m2 0h1m3 0h4m2 0h1m6 0h13m1 0h1m5 0h3m8 0h2m3 0h4m2 0h23m14 0h1m11 0h1m6 0h1m9 0h2m4 0h1m1 0h6m4 0h1m2 0h1m6 0h11m1 0h1m11 0h1m2 0h1m1 0h1m5 0h5m4 0h1m2 0h2m1 0h16m1 0h1m3 0h1m13 0h2m5 0h2m9 0h1m3 0h1m24 0h1m2 0h2M425 225.5h2m4 0h3m1 0h4m2 0h3m13 0h1m1 0h1m1 0h2m2 0h8m3 0h5m1 0h9m2 0h1m1 0h1m3 0h5m3 0h4m2 0h7m1 0h9m1 0h15m4 0h3m8 0h1m5 0h1m8 0h3m9 0h1m2 0h6m10 0h2m5 0h13m1 0h1m1 0h1m4 0h2m2 0h1m1 0h2m6 0h13m1 0h6m1 0h11m30 0h1m5 0h1m27 0h2M379 226.5h1m21 0h1m20 0h2m5 0h1m1 0h2m1 0h3m2 0h1m1 0h1m12 0h1m4 0h1m5 0h8m3 0h2m1 0h13m1 0h2m1 0h1m1 0h1m1 0h4m4 0h11m4 0h1m1 0h5m1 0h12m3 0h2m4 0h1m1 0h2m11 0h1m19 0h1m1 0h1m15 0h1m1 0h2m3 0h15m1 0h3m3 0h1m1 0h2m1 0h1m8 0h8m2 0h7m1 0h1m1 0h5m2 0h6m11 0h1m11 0h2m4 0h2m9 0h1m21 0h4M402 227.5h2m17 0h2m13 0h1m2 0h1m16 0h5m1 0h12m2 0h5m1 0h1m1 0h8m1 0h11m1 0h1m2 0h12m6 0h1m1 0h2m1 0h10m5 0h1m2 0h7m3 0h1m1 0h2m4 0h1m13 0h1m23 0h3m1 0h1m1 0h1m1 0h19m1 0h1m1 0h2m3 0h6m1 0h1m1 0h8m1 0h3m2 0h4m3 0h2m1 0h2m3 0h3m7 0h5m1 0h1m8 0h2m3 0h1m1 0h1m34 0h5M430 228.5h1m1 0h1m6 0h1m3 0h1m9 0h1m2 0h2m1 0h1m2 0h1m1 0h6m1 0h12m1 0h7m1 0h13m1 0h15m4 0h3m2 0h2m1 0h1m2 0h5m6 0h1m1 0h10m1 0h4m6 0h1m9 0h3m1 0h3m14 0h1m2 0h2m1 0h1m3 0h1m2 0h18m6 0h1m1 0h5m1 0h1m2 0h8m1 0h3m1 0h5m4 0h2m2 0h1m3 0h1m7 0h12m5 0h1m2 0h1m2 0h1m8 0h1M424 229.5h1m7 0h2m8 0h1m6 0h1m5 0h2m4 0h1m1 0h11m2 0h6m1 0h16m1 0h5m1 0h1m3 0h12m4 0h5m5 0h2m10 0h10m1 0h2m2 0h2m1 0h1m8 0h1m1 0h1m1 0h1m1 0h6m1 0h1m13 0h1m2 0h1m4 0h1m2 0h18m3 0h1m3 0h1m1 0h7m3 0h6m1 0h2m1 0h6m5 0h2m2 0h1m12 0h11m2 0h1m1 0h5m2 0h1m7 0h1M420 230.5h1m26 0h2m10 0h1m1 0h1m1 0h4m1 0h4m3 0h21m1 0h2m1 0h7m2 0h1m1 0h11m5 0h4m6 0h2m9 0h10m2 0h3m1 0h2m4 0h2m1 0h1m4 0h1m1 0h3m1 0h1m1 0h1m2 0h1m5 0h1m2 0h1m9 0h1m3 0h1m1 0h18m9 0h5m1 0h10m1 0h2m1 0h5m10 0h1m1 0h1m6 0h1m2 0h11m2 0h1m4 0h1m4 0h2M408 231.5h1m38 0h4m2 0h2m4 0h2m1 0h6m7 0h1m1 0h12m1 0h1m2 0h28m7 0h2m8 0h1m10 0h3m2 0h1m1 0h2m2 0h1m1 0h4m4 0h2m4 0h1m2 0h1m1 0h3m1 0h1m25 0h14m1 0h6m5 0h1m3 0h23m1 0h2m6 0h1m1 0h1m4 0h1m7 0h11m3 0h1m1 0h1m1 0h2m1 0h5M402 232.5h1m34 0h1m9 0h1m1 0h2m2 0h2m1 0h11m5 0h1m4 0h8m1 0h2m1 0h1m3 0h12m1 0h6m1 0h7m8 0h2m8 0h1m10 0h3m1 0h5m3 0h5m6 0h2m2 0h1m2 0h1m4 0h1m14 0h1m8 0h1m1 0h8m1 0h2m1 0h2m3 0h1m1 0h3m5 0h1m4 0h12m4 0h1m1 0h3m11 0h1m1 0h2m8 0h18m1 0h1m3 0h1m1 0h3m1 0h1M398 233.5h2m14 0h1m2 0h1m31 0h7m3 0h8m11 0h12m1 0h10m1 0h3m1 0h6m2 0h1m1 0h2m8 0h3m9 0h1m2 0h1m7 0h4m3 0h2m1 0h8m5 0h2m1 0h1m23 0h2m7 0h1m1 0h9m1 0h3m2 0h1m9 0h1m2 0h1m4 0h10m21 0h3m1 0h1m1 0h13m1 0h5m2 0h6m6 0h1m2 0h1M415 234.5h1m1 0h1m18 0h1m13 0h16m1 0h1m2 0h1m6 0h1m1 0h3m1 0h7m2 0h4m2 0h1m1 0h1m1 0h3m1 0h3m1 0h1m3 0h2m9 0h1m5 0h1m6 0h6m2 0h1m1 0h2m1 0h17m4 0h4m22 0h3m7 0h8m1 0h1m7 0h1m13 0h1m4 0h1m2 0h5m8 0h1m2 0h1m8 0h11m1 0h3m1 0h9m1 0h1m2 0h5m2 0h1m5 0h2M281 235.5h1m135 0h2m1 0h2m12 0h2m3 0h1m8 0h2m1 0h13m4 0h1m10 0h1m2 0h1m2 0h1m1 0h2m3 0h3m1 0h1m1 0h2m1 0h3m4 0h1m1 0h6m2 0h1m1 0h1m11 0h2m5 0h16m1 0h13m1 0h7m17 0h1m7 0h1m5 0h1m1 0h6m9 0h1m12 0h1m5 0h2m1 0h5m8 0h1m2 0h1m8 0h4m1 0h17m1 0h7m1 0h1m2 0h3m6 0h1M373 236.5h1m40 0h1m1 0h4m1 0h1m12 0h2m12 0h16m2 0h2m8 0h2m1 0h1m1 0h1m1 0h1m1 0h1m1 0h1m4 0h6m1 0h6m2 0h11m1 0h1m1 0h1m9 0h2m5 0h5m1 0h8m2 0h23m2 0h1m13 0h1m11 0h12m4 0h1m5 0h1m7 0h1m4 0h2m3 0h7m5 0h5m1 0h3m6 0h3m3 0h1m1 0h1m1 0h4m1 0h12m1 0h1m3 0h3m5 0h1M372 237.5h1m40 0h3m3 0h2m12 0h1m15 0h15m1 0h3m6 0h5m1 0h1m2 0h3m6 0h7m1 0h5m2 0h11m1 0h2m8 0h1m2 0h4m2 0h1m1 0h13m1 0h23m5 0h1m6 0h1m17 0h9m1 0h1m2 0h1m1 0h1m10 0h1m1 0h1m2 0h3m1 0h5m1 0h3m7 0h8m5 0h3m1 0h1m2 0h1m3 0h2m1 0h14m1 0h1m1 0h1m1 0h2m3 0h1m3 0h2M415 238.5h1m2 0h2m4 0h1m22 0h21m6 0h7m2 0h1m1 0h1m4 0h1m1 0h5m1 0h2m1 0h1m1 0h2m2 0h9m2 0h3m8 0h11m1 0h19m2 0h1m1 0h8m1 0h4m2 0h2m1 0h2m3 0h2m2 0h1m16 0h7m2 0h1m3 0h1m7 0h1m4 0h2m1 0h4m1 0h5m3 0h1m8 0h1m4 0h2m7 0h3m1 0h1m2 0h1m1 0h1m2 0h6m2 0h5m2 0h3m1 0h2m4 0h4M379 239.5h1m32 0h1m11 0h1m10 0h1m10 0h21m1 0h1m1 0h2m4 0h6m1 0h1m8 0h4m1 0h1m3 0h15m2 0h4m6 0h1m1 0h4m3 0h1m5 0h17m6 0h4m5 0h2m1 0h1m4 0h2m22 0h1m1 0h6m6 0h3m9 0h13m14 0h7m4 0h11m1 0h3m1 0h3m4 0h2m1 0h2m1 0h6m1 0h3m1 0h3M406 240.5h1m9 0h2m15 0h3m5 0h2m2 0h1m1 0h16m1 0h3m2 0h1m6 0h4m2 0h4m7 0h1m9 0h3m1 0h14m9 0h5m1 0h1m6 0h8m1 0h8m8 0h1m2 0h1m12 0h1m24 0h2m2 0h2m1 0h1m15 0h15m15 0h1m1 0h3m5 0h6m1 0h3m1 0h4m1 0h2m4 0h2m2 0h6m2 0h2m1 0h1m2 0h1M385 241.5h1m30 0h1m15 0h1m2 0h1m4 0h1m1 0h1m3 0h11m1 0h11m7 0h2m1 0h1m1 0h6m14 0h1m1 0h3m1 0h3m2 0h5m3 0h1m9 0h7m7 0h16m1 0h1m6 0h1m38 0h1m1 0h1m2 0h3m2 0h1m13 0h3m1 0h13m14 0h2m1 0h2m5 0h6m2 0h3m1 0h2m11 0h6m2 0h3m1 0h4M425 242.5h1m20 0h2m1 0h17m10 0h1m1 0h5m3 0h2m12 0h13m1 0h1m2 0h4m6 0h1m1 0h3m3 0h1m2 0h1m4 0h10m1 0h6m7 0h1m5 0h1m6 0h1m1 0h1m1 0h1m10 0h1m9 0h5m4 0h1m9 0h1m4 0h1m1 0h16m1 0h3m12 0h1m1 0h2m1 0h1m1 0h5m2 0h1m1 0h2m1 0h5m11 0h6m2 0h2m3 0h1M445 243.5h2m2 0h16m15 0h4m1 0h5m4 0h1m2 0h1m1 0h1m1 0h6m1 0h10m1 0h2m8 0h1m13 0h1m1 0h1m1 0h1m1 0h5m1 0h5m1 0h1m22 0h1m8 0h4m9 0h2m2 0h1m5 0h2m5 0h1m4 0h2m1 0h17m1 0h3m10 0h2m2 0h2m1 0h2m1 0h4m3 0h1m1 0h5m1 0h1m6 0h2m2 0h2m3 0h2m5 0h1M378 244.5h1m52 0h1m2 0h1m11 0h16m1 0h1m16 0h4m3 0h1m1 0h1m1 0h2m1 0h2m1 0h1m4 0h5m2 0h2m1 0h2m2 0h1m1 0h3m7 0h1m3 0h1m9 0h3m1 0h7m2 0h5m3 0h1m20 0h1m7 0h1m1 0h3m11 0h2m22 0h21m9 0h4m2 0h3m2 0h1m1 0h2m2 0h1m1 0h3m1 0h1m8 0h3m2 0h4M426 245.5h2m1 0h4m16 0h1m1 0h4m1 0h7m7 0h1m5 0h1m4 0h1m1 0h2m4 0h2m1 0h3m4 0h8m3 0h7m1 0h2m6 0h1m5 0h1m8 0h2m3 0h7m1 0h1m2 0h3m3 0h4m1 0h1m1 0h3m4 0h1m13 0h5m12 0h2m22 0h23m7 0h4m1 0h2m3 0h1m1 0h1m1 0h3m1 0h2m2 0h2m1 0h1m3 0h1m2 0h3m3 0h4M408 246.5h1m13 0h1m8 0h1m11 0h1m6 0h1m1 0h4m1 0h3m1 0h2m8 0h1m1 0h1m6 0h5m2 0h2m2 0h6m2 0h3m1 0h6m1 0h8m2 0h1m5 0h1m16 0h2m1 0h7m2 0h1m2 0h1m13 0h1m17 0h7m11 0h5m9 0h1m1 0h2m1 0h3m1 0h1m2 0h21m7 0h3m1 0h2m1 0h3m1 0h1m1 0h1m1 0h1m1 0h1m1 0h2m1 0h1m1 0h1m3 0h5m2 0h2m1 0h1m2 0h1M409 247.5h1m20 0h6m4 0h1m1 0h1m7 0h1m1 0h1m9 0h1m9 0h1m7 0h6m2 0h7m1 0h6m1 0h9m1 0h5m1 0h2m2 0h1m5 0h1m13 0h1m2 0h6m2 0h1m3 0h1m11 0h1m6 0h1m9 0h1m1 0h1m1 0h5m10 0h2m1 0h1m2 0h1m1 0h1m1 0h1m6 0h4m1 0h2m4 0h1m2 0h1m1 0h2m1 0h13m6 0h5m1 0h1m1 0h3m1 0h1m2 0h1m2 0h1m1 0h1m1 0h3m2 0h1m2 0h3m1 0h1m1 0h1m1 0h3m1 0h1m1 0h1m1 0h2M405 248.5h1m3 0h1m20 0h5m21 0h1m10 0h1m1 0h1m3 0h1m2 0h4m1 0h1m1 0h4m3 0h18m1 0h10m12 0h1m12 0h6m2 0h1m2 0h1m26 0h1m1 0h1m1 0h4m1 0h5m12 0h1m1 0h1m3 0h2m6 0h6m1 0h2m1 0h1m6 0h2m1 0h13m6 0h1m4 0h1m2 0h5m3 0h1m1 0h7m1 0h2m1 0h3m1 0h1m1 0h1m1 0h10M407 249.5h1m21 0h8m3 0h1m11 0h2m8 0h1m2 0h1m2 0h1m1 0h1m3 0h7m1 0h5m3 0h10m1 0h1m1 0h12m1 0h4m7 0h1m1 0h4m10 0h2m1 0h4m4 0h1m2 0h4m18 0h1m6 0h4m1 0h1m1 0h4m11 0h4m1 0h1m8 0h6m1 0h1m1 0h3m2 0h19m8 0h1m1 0h1m1 0h2m1 0h4m1 0h4m2 0h1m1 0h2m1 0h1m2 0h2m1 0h1m2 0h1m3 0h9M412 250.5h1m17 0h6m3 0h3m7 0h1m5 0h1m4 0h1m3 0h2m2 0h5m2 0h5m1 0h1m1 0h6m1 0h9m1 0h1m1 0h4m1 0h1m1 0h1m1 0h2m3 0h5m8 0h2m1 0h1m11 0h5m8 0h4m4 0h1m20 0h4m1 0h5m7 0h1m1 0h1m3 0h2m10 0h7m1 0h4m1 0h4m3 0h15m1 0h1m3 0h1m2 0h7m2 0h7m1 0h1m1 0h1m2 0h7m7 0h7M381 251.5h1m27 0h1m2 0h1m17 0h6m1 0h3m3 0h1m2 0h1m11 0h1m8 0h2m4 0h7m1 0h1m1 0h15m1 0h1m1 0h4m1 0h7m1 0h1m2 0h2m9 0h2m1 0h1m15 0h1m1 0h1m9 0h2m20 0h1m1 0h1m2 0h3m2 0h5m7 0h1m4 0h3m1 0h1m7 0h4m1 0h8m1 0h2m2 0h1m3 0h15m1 0h4m1 0h1m1 0h13m3 0h1m3 0h5m1 0h1m1 0h1m2 0h2m1 0h3m1 0h1m2 0h1M410 252.5h1m4 0h1m16 0h10m1 0h2m9 0h1m4 0h2m9 0h1m5 0h1m1 0h1m1 0h10m1 0h6m1 0h1m6 0h7m2 0h5m9 0h1m2 0h1m10 0h1m4 0h2m1 0h1m4 0h3m1 0h2m19 0h3m3 0h12m1 0h2m3 0h1m4 0h3m7 0h6m1 0h4m1 0h2m2 0h1m1 0h1m3 0h21m2 0h1m1 0h3m2 0h1m1 0h1m4 0h2m1 0h1m2 0h1m2 0h1m3 0h1m1 0h9M380 253.5h1m23 0h1m26 0h10m1 0h2m4 0h2m3 0h1m1 0h3m1 0h3m3 0h2m2 0h1m6 0h1m2 0h13m1 0h2m1 0h7m2 0h7m1 0h4m1 0h2m5 0h1m3 0h3m9 0h5m1 0h2m6 0h4m4 0h1m16 0h3m1 0h13m1 0h3m8 0h3m3 0h1m1 0h10m1 0h1m2 0h1m3 0h1m6 0h13m1 0h2m1 0h1m2 0h1m3 0h3m4 0h1m1 0h2m1 0h3m1 0h1m2 0h1m2 0h2m1 0h1m1 0h2m1 0h2m1 0h4m2 0h2M404 254.5h1m3 0h1m4 0h1m7 0h1m9 0h1m1 0h7m1 0h2m1 0h2m4 0h1m1 0h1m1 0h1m1 0h1m1 0h5m3 0h3m1 0h1m7 0h1m1 0h18m1 0h8m2 0h1m1 0h8m1 0h1m7 0h3m8 0h6m1 0h3m8 0h3m4 0h1m1 0h1m6 0h1m4 0h1m1 0h4m2 0h1m1 0h1m1 0h11m1 0h1m2 0h9m2 0h1m1 0h6m4 0h4m9 0h13m1 0h1m1 0h2m6 0h2m1 0h2m3 0h5m1 0h4m4 0h1m4 0h3m5 0h6M404 255.5h1m2 0h3m1 0h1m14 0h1m6 0h3m1 0h5m1 0h2m1 0h1m1 0h2m3 0h1m1 0h1m4 0h2m1 0h1m1 0h4m2 0h1m7 0h19m1 0h2m1 0h1m1 0h4m2 0h8m1 0h1m1 0h2m2 0h1m1 0h1m1 0h3m5 0h5m1 0h2m2 0h1m8 0h3m4 0h1m1 0h1m6 0h1m2 0h1m1 0h1m1 0h5m3 0h7m1 0h7m1 0h1m2 0h5m1 0h4m2 0h7m2 0h8m9 0h16m1 0h2m2 0h5m2 0h1m4 0h6m4 0h3m2 0h3m1 0h1m1 0h1m1 0h2m1 0h3M403 256.5h1m25 0h1m2 0h4m2 0h6m1 0h3m1 0h1m8 0h2m8 0h1m1 0h3m6 0h23m1 0h19m1 0h5m1 0h4m4 0h6m1 0h4m9 0h1m9 0h3m1 0h1m1 0h1m1 0h1m2 0h3m1 0h12m2 0h4m1 0h1m1 0h2m1 0h10m1 0h8m1 0h5m2 0h3m10 0h16m3 0h1m1 0h1m2 0h2m1 0h1m5 0h4m3 0h2m1 0h1m4 0h4m2 0h1m1 0h3M383 257.5h1m15 0h1m2 0h1m19 0h1m10 0h4m1 0h1m2 0h1m3 0h3m8 0h2m1 0h1m5 0h1m4 0h1m7 0h16m1 0h9m1 0h28m2 0h8m3 0h2m19 0h3m3 0h1m5 0h10m1 0h1m2 0h1m3 0h2m1 0h2m3 0h1m1 0h19m1 0h7m3 0h1m8 0h16m2 0h1m4 0h3m1 0h1m1 0h2m1 0h2m1 0h1m1 0h5m5 0h4m1 0h1m1 0h3M403 258.5h1m21 0h1m6 0h1m1 0h2m3 0h1m2 0h1m2 0h3m3 0h1m2 0h1m6 0h2m7 0h1m1 0h1m4 0h1m1 0h1m2 0h6m1 0h9m1 0h2m1 0h3m1 0h7m1 0h1m1 0h26m4 0h2m19 0h2m2 0h2m8 0h14m1 0h1m3 0h3m1 0h5m2 0h2m1 0h11m3 0h6m11 0h10m2 0h3m1 0h1m8 0h1m3 0h2m4 0h1m1 0h6m4 0h3m2 0h1m2 0h2m1 0h1M403 259.5h1m21 0h1m8 0h1m2 0h1m2 0h1m1 0h1m1 0h1m9 0h1m6 0h2m7 0h1m5 0h11m3 0h13m1 0h3m1 0h2m2 0h15m1 0h11m2 0h5m1 0h2m18 0h1m3 0h2m6 0h1m2 0h7m1 0h2m4 0h3m1 0h5m1 0h1m1 0h3m5 0h9m4 0h6m1 0h1m6 0h1m1 0h11m1 0h3m7 0h1m1 0h1m2 0h3m6 0h1m3 0h1m8 0h3m5 0h4M404 260.5h1m21 0h1m5 0h1m5 0h1m1 0h1m1 0h1m7 0h1m5 0h1m9 0h2m7 0h31m1 0h5m1 0h13m1 0h11m1 0h1m1 0h5m1 0h1m2 0h1m18 0h2m1 0h2m8 0h6m2 0h2m4 0h3m1 0h4m1 0h1m5 0h1m1 0h1m1 0h1m2 0h5m2 0h9m2 0h1m1 0h2m1 0h2m1 0h1m1 0h1m1 0h7m1 0h3m9 0h3m2 0h1m4 0h2m3 0h1m1 0h2m9 0h3m4 0h1m1 0h2M424 261.5h2m13 0h1m4 0h1m9 0h1m3 0h1m6 0h1m6 0h33m2 0h3m1 0h26m4 0h2m1 0h1m1 0h1m1 0h4m10 0h1m6 0h4m9 0h8m1 0h1m2 0h1m1 0h7m2 0h4m1 0h1m4 0h1m3 0h1m1 0h2m3 0h3m1 0h9m1 0h2m1 0h1m6 0h2m2 0h1m2 0h1m11 0h2m2 0h1m7 0h2m3 0h1m15 0h3M342 262.5h1m81 0h4m8 0h2m4 0h1m4 0h1m1 0h1m4 0h5m5 0h1m4 0h1m3 0h34m1 0h3m1 0h2m1 0h26m1 0h1m2 0h1m1 0h3m2 0h2m1 0h1m7 0h1m1 0h1m2 0h1m2 0h1m10 0h1m2 0h4m2 0h1m5 0h4m1 0h2m2 0h4m2 0h2m2 0h1m2 0h1m3 0h1m1 0h1m1 0h6m1 0h1m1 0h6m7 0h4m1 0h1m1 0h2m8 0h1m1 0h1m1 0h1m1 0h2m6 0h1m1 0h1m3 0h3m11 0h2m1 0h2m1 0h1M431 263.5h1m2 0h1m1 0h1m10 0h1m2 0h1m5 0h4m4 0h1m5 0h1m2 0h34m5 0h3m2 0h21m1 0h1m2 0h1m2 0h8m2 0h1m7 0h1m2 0h2m12 0h14m1 0h1m1 0h2m2 0h3m2 0h3m2 0h2m1 0h2m2 0h2m3 0h5m1 0h4m4 0h1m2 0h4m7 0h7m8 0h6m1 0h1m26 0h4m2 0h1M424 264.5h2m5 0h2m16 0h1m6 0h4m4 0h1m5 0h33m1 0h1m6 0h1m2 0h1m1 0h40m8 0h1m1 0h1m8 0h3m1 0h9m2 0h3m2 0h2m1 0h1m1 0h1m1 0h2m2 0h6m4 0h1m8 0h2m3 0h1m2 0h1m2 0h1m14 0h8m4 0h1m1 0h1m1 0h3m2 0h2m9 0h1m2 0h3m10 0h1m1 0h2m1 0h1M424 265.5h4m3 0h1m1 0h1m15 0h1m4 0h6m2 0h1m9 0h31m1 0h2m2 0h4m2 0h1m1 0h12m1 0h1m3 0h22m4 0h1m2 0h8m1 0h1m2 0h1m1 0h1m1 0h1m1 0h12m2 0h3m1 0h1m1 0h1m5 0h4m15 0h1m3 0h2m1 0h1m17 0h4m1 0h4m5 0h6m1 0h1m11 0h1m4 0h1m12 0h1m1 0h2m55 0h1M424 266.5h1m1 0h3m19 0h2m1 0h1m1 0h2m1 0h7m3 0h1m5 0h1m1 0h28m1 0h1m1 0h2m2 0h3m2 0h1m1 0h12m1 0h14m1 0h12m1 0h1m3 0h1m1 0h9m6 0h10m1 0h1m1 0h6m2 0h2m2 0h1m1 0h4m19 0h1m1 0h1m21 0h5m1 0h2m1 0h9m1 0h1m6 0h2m2 0h1m1 0h2m1 0h3m10 0h6m1 0h3m50 0h1m6 0h2m2 0h2m6 0h1M423 267.5h2m1 0h1m10 0h1m6 0h1m6 0h1m2 0h2m1 0h5m1 0h6m1 0h2m2 0h12m1 0h20m3 0h2m4 0h12m1 0h1m1 0h11m1 0h10m1 0h4m1 0h1m1 0h6m1 0h4m5 0h1m1 0h3m2 0h17m1 0h1m2 0h5m18 0h1m1 0h1m9 0h1m6 0h1m2 0h1m1 0h9m1 0h8m8 0h4m1 0h1m1 0h5m11 0h1m2 0h2m1 0h5m48 0h2m3 0h2m3 0h1m6 0h1m1 0h1m2 0h1M418 268.5h1m6 0h1m12 0h1m9 0h2m6 0h13m3 0h1m2 0h1m1 0h9m1 0h22m2 0h1m4 0h39m1 0h20m1 0h3m1 0h2m1 0h3m1 0h1m1 0h1m1 0h10m1 0h2m1 0h3m27 0h1m6 0h1m4 0h1m1 0h1m1 0h1m1 0h4m2 0h1m2 0h2m1 0h3m1 0h1m8 0h5m3 0h2m1 0h1m2 0h2m8 0h6m1 0h2m47 0h1m4 0h2m1 0h1m3 0h4m1 0h3m11 0h2M424 269.5h1m4 0h1m7 0h1m12 0h2m4 0h11m1 0h1m2 0h2m5 0h9m1 0h1m1 0h5m2 0h14m5 0h10m3 0h1m2 0h41m2 0h1m3 0h1m1 0h2m2 0h2m1 0h1m1 0h1m2 0h4m1 0h4m5 0h3m19 0h2m12 0h1m3 0h2m5 0h18m8 0h3m1 0h5m1 0h5m1 0h1m2 0h2m2 0h2m4 0h4m46 0h2m2 0h5m2 0h1m1 0h1m4 0h2m6 0h1m3 0h5M418 270.5h1m18 0h1m5 0h1m6 0h1m5 0h2m1 0h1m1 0h8m1 0h6m2 0h5m2 0h3m1 0h6m1 0h10m1 0h3m6 0h8m11 0h11m1 0h7m1 0h6m1 0h5m3 0h1m1 0h3m1 0h1m3 0h6m2 0h1m2 0h8m1 0h3m1 0h1m4 0h1m28 0h10m6 0h5m1 0h1m1 0h3m2 0h2m2 0h1m8 0h2m1 0h2m1 0h10m2 0h1m1 0h6m1 0h6m46 0h2m1 0h3m2 0h2m2 0h1m4 0h1m11 0h4m1 0h1M433 271.5h1m1 0h6m2 0h2m17 0h6m3 0h5m3 0h4m1 0h4m4 0h3m1 0h7m2 0h2m1 0h1m3 0h1m4 0h9m1 0h1m5 0h21m1 0h1m2 0h7m2 0h10m4 0h6m9 0h6m5 0h3m34 0h1m1 0h1m7 0h5m1 0h2m2 0h1m1 0h3m1 0h2m11 0h1m1 0h4m2 0h2m1 0h2m2 0h8m1 0h6m46 0h5m1 0h2m2 0h1m1 0h1m6 0h2m6 0h1m1 0h5M402 272.5h1m13 0h2m7 0h2m4 0h1m4 0h5m8 0h1m6 0h2m5 0h5m1 0h7m3 0h3m1 0h2m1 0h1m1 0h1m3 0h2m4 0h1m2 0h8m2 0h1m2 0h14m6 0h43m4 0h2m5 0h2m9 0h1m1 0h1m12 0h1m7 0h1m1 0h1m11 0h1m1 0h8m7 0h4m1 0h4m1 0h7m15 0h7m1 0h3m1 0h3m1 0h3m1 0h4m1 0h2m43 0h2m1 0h1m2 0h4m1 0h1m5 0h1m6 0h2m3 0h1m1 0h8M431 273.5h3m1 0h2m2 0h3m15 0h1m4 0h1m1 0h2m2 0h1m2 0h4m1 0h7m2 0h7m2 0h1m1 0h3m1 0h7m2 0h1m6 0h4m1 0h4m2 0h1m4 0h3m1 0h7m1 0h3m1 0h4m1 0h7m1 0h4m1 0h10m3 0h3m16 0h4m11 0h2m2 0h1m1 0h1m1 0h4m9 0h1m1 0h3m2 0h2m1 0h2m6 0h4m1 0h1m4 0h8m21 0h7m2 0h4m1 0h2m2 0h3m43 0h4m2 0h2m2 0h4m8 0h1m4 0h1m4 0h5M265 274.5h1m169 0h1m1 0h5m15 0h2m5 0h2m2 0h1m1 0h8m1 0h10m3 0h6m2 0h12m5 0h1m4 0h2m1 0h1m6 0h12m3 0h11m1 0h1m1 0h1m1 0h2m2 0h2m2 0h1m1 0h1m1 0h1m1 0h2m2 0h1m7 0h1m10 0h1m1 0h1m5 0h1m2 0h1m1 0h1m1 0h1m1 0h1m2 0h3m1 0h2m6 0h1m4 0h1m2 0h9m4 0h2m2 0h2m1 0h9m14 0h2m7 0h2m2 0h2m2 0h6m2 0h3m4 0h1m39 0h6m1 0h3m2 0h1m5 0h2m1 0h2m3 0h3m2 0h7M402 275.5h1m3 0h1m26 0h2m1 0h1m2 0h2m1 0h2m9 0h1m2 0h1m5 0h2m1 0h2m1 0h6m1 0h4m1 0h4m4 0h1m1 0h4m1 0h2m3 0h3m6 0h7m9 0h2m3 0h1m1 0h10m7 0h7m3 0h2m3 0h2m1 0h6m7 0h3m1 0h1m4 0h1m1 0h1m12 0h2m2 0h2m1 0h1m1 0h1m2 0h2m1 0h2m1 0h6m5 0h2m6 0h6m2 0h1m1 0h1m2 0h2m2 0h3m1 0h8m12 0h1m1 0h2m9 0h4m1 0h8m2 0h1m5 0h1m38 0h1m1 0h3m8 0h1m1 0h11m1 0h2m1 0h6M439 276.5h1m3 0h1m10 0h1m2 0h1m8 0h1m1 0h2m2 0h1m3 0h1m2 0h1m1 0h2m4 0h1m3 0h2m2 0h1m4 0h4m4 0h3m1 0h2m1 0h2m1 0h1m6 0h1m5 0h9m1 0h1m8 0h4m4 0h6m1 0h10m2 0h9m3 0h1m11 0h3m1 0h1m1 0h4m4 0h1m1 0h6m1 0h8m9 0h6m1 0h1m2 0h1m2 0h12m1 0h3m12 0h1m1 0h2m10 0h3m1 0h8m5 0h1m41 0h3m6 0h1m3 0h1m1 0h4m3 0h5m1 0h1m2 0h1m2 0h1M432 277.5h1m10 0h1m2 0h1m2 0h2m1 0h3m2 0h3m2 0h1m1 0h1m3 0h2m1 0h1m1 0h1m3 0h2m3 0h1m1 0h1m2 0h2m1 0h3m2 0h2m2 0h3m3 0h1m1 0h1m1 0h1m3 0h3m1 0h1m5 0h2m1 0h4m1 0h6m2 0h1m1 0h1m8 0h5m2 0h1m1 0h7m1 0h2m1 0h7m2 0h6m2 0h1m15 0h9m2 0h5m1 0h11m13 0h1m2 0h3m8 0h7m1 0h2m1 0h1m10 0h4m11 0h3m2 0h2m53 0h2m2 0h2m1 0h2m5 0h8m1 0h4m3 0h2M402 278.5h1m46 0h4m1 0h2m2 0h2m10 0h1m2 0h1m3 0h2m1 0h1m7 0h4m1 0h2m1 0h4m2 0h1m2 0h3m3 0h4m2 0h1m5 0h1m5 0h1m2 0h1m3 0h3m13 0h2m6 0h7m1 0h7m1 0h1m1 0h5m1 0h3m1 0h1m11 0h1m1 0h10m1 0h18m6 0h3m1 0h1m5 0h1m2 0h1m4 0h1m2 0h1m2 0h7m24 0h6m1 0h3m2 0h2m6 0h1m43 0h2m2 0h5m3 0h4m3 0h2m2 0h2m1 0h4M413 279.5h1m8 0h1m26 0h1m1 0h4m1 0h3m5 0h1m8 0h1m3 0h2m1 0h1m1 0h1m4 0h1m1 0h2m1 0h3m2 0h7m2 0h4m2 0h6m13 0h6m15 0h2m6 0h19m1 0h5m14 0h1m1 0h17m1 0h8m2 0h1m8 0h3m6 0h3m1 0h1m1 0h2m6 0h2m3 0h1m1 0h1m14 0h1m1 0h3m1 0h1m7 0h2m1 0h4m2 0h1m8 0h2m3 0h1m36 0h4m6 0h4m3 0h1m2 0h1m1 0h3m1 0h4M421 280.5h1m2 0h1m2 0h1m2 0h1m17 0h6m3 0h1m7 0h1m11 0h3m2 0h1m9 0h2m1 0h9m1 0h1m1 0h2m4 0h3m2 0h1m2 0h4m2 0h1m4 0h2m3 0h3m12 0h2m4 0h10m1 0h4m1 0h3m2 0h1m1 0h3m15 0h22m2 0h4m1 0h4m5 0h5m5 0h7m7 0h4m1 0h4m3 0h1m8 0h8m2 0h2m1 0h5m1 0h4m1 0h1m4 0h1m1 0h1m1 0h1m41 0h2m2 0h1m4 0h1m1 0h3m9 0h5M430 281.5h2m8 0h1m10 0h3m1 0h1m1 0h1m17 0h2m1 0h2m10 0h1m4 0h9m1 0h2m6 0h2m1 0h5m1 0h2m1 0h1m2 0h1m2 0h5m1 0h3m2 0h1m4 0h2m2 0h2m6 0h4m1 0h9m1 0h4m1 0h4m14 0h18m1 0h2m1 0h3m1 0h8m2 0h1m2 0h8m1 0h3m1 0h5m2 0h1m5 0h8m1 0h2m7 0h1m3 0h5m1 0h1m2 0h1m1 0h3m2 0h6m1 0h6m1 0h3m2 0h1m1 0h1m36 0h1m1 0h1m5 0h2m1 0h3m8 0h1M411 282.5h1m11 0h1m1 0h1m4 0h2m11 0h1m4 0h2m2 0h1m2 0h3m1 0h1m8 0h1m6 0h5m4 0h3m5 0h2m1 0h7m1 0h2m1 0h2m4 0h12m3 0h4m1 0h2m1 0h4m3 0h2m2 0h2m11 0h1m1 0h8m1 0h1m1 0h11m2 0h1m8 0h6m1 0h18m1 0h9m4 0h6m2 0h14m7 0h1m1 0h8m6 0h3m1 0h1m2 0h3m1 0h2m1 0h4m1 0h2m2 0h4m1 0h4m5 0h2m1 0h1m1 0h1m1 0h2m46 0h3m1 0h1M411 283.5h1m14 0h2m4 0h1m3 0h1m7 0h1m4 0h1m1 0h2m3 0h1m1 0h1m18 0h5m1 0h2m2 0h1m4 0h2m1 0h3m1 0h1m2 0h2m2 0h1m6 0h10m1 0h5m1 0h3m1 0h7m2 0h1m3 0h2m11 0h3m2 0h9m1 0h3m1 0h1m1 0h3m1 0h1m11 0h2m1 0h1m3 0h16m1 0h9m1 0h8m1 0h16m8 0h12m3 0h3m1 0h7m1 0h5m1 0h2m3 0h7m5 0h1m2 0h1m1 0h1m2 0h1m3 0h1m44 0h3M423 284.5h1m1 0h5m1 0h1m19 0h1m2 0h1m1 0h1m17 0h1m2 0h3m1 0h1m1 0h1m1 0h2m5 0h2m1 0h1m1 0h1m5 0h1m8 0h11m5 0h3m4 0h5m2 0h1m3 0h1m1 0h2m12 0h2m1 0h13m3 0h2m1 0h2m3 0h2m4 0h5m4 0h1m1 0h5m1 0h8m3 0h18m1 0h3m2 0h1m1 0h1m1 0h1m1 0h2m8 0h13m1 0h1m1 0h3m1 0h2m1 0h6m3 0h5m3 0h7m3 0h2m4 0h1m13 0h1m12 0h3m1 0h1m19 0h3m1 0h1m2 0h1M289 285.5h1m135 0h2m4 0h4m19 0h3m2 0h1m12 0h2m3 0h5m1 0h2m1 0h1m1 0h5m1 0h1m2 0h2m2 0h1m1 0h1m7 0h10m1 0h1m4 0h4m6 0h4m6 0h1m3 0h2m10 0h7m2 0h1m1 0h12m2 0h2m3 0h2m1 0h2m1 0h3m2 0h1m2 0h4m2 0h10m1 0h2m1 0h4m1 0h6m3 0h1m1 0h2m1 0h2m2 0h7m4 0h1m1 0h12m3 0h2m2 0h1m1 0h12m2 0h1m4 0h1m1 0h1m3 0h2m1 0h1m1 0h2m4 0h1m8 0h1m1 0h1m8 0h1m3 0h1m2 0h2m21 0h3m1 0h2m1 0h1M425 286.5h1m6 0h1m21 0h1m1 0h1m5 0h1m6 0h1m2 0h1m2 0h1m2 0h4m1 0h8m4 0h2m6 0h1m4 0h11m1 0h2m3 0h5m1 0h1m6 0h2m1 0h1m9 0h3m1 0h1m10 0h4m3 0h4m2 0h2m1 0h2m5 0h2m6 0h4m8 0h11m1 0h4m1 0h32m1 0h1m2 0h1m1 0h7m2 0h8m1 0h8m3 0h3m10 0h1m6 0h1m1 0h2m2 0h2m6 0h1m2 0h1m13 0h1m1 0h3m2 0h1m16 0h1m1 0h8M469 287.5h1m7 0h3m2 0h8m1 0h1m10 0h3m2 0h2m2 0h13m1 0h6m1 0h1m5 0h3m2 0h1m1 0h1m4 0h4m3 0h1m3 0h1m5 0h2m2 0h7m1 0h9m1 0h2m3 0h2m4 0h1m9 0h2m1 0h1m1 0h5m1 0h10m1 0h5m1 0h13m1 0h5m1 0h2m7 0h4m3 0h1m1 0h7m1 0h5m2 0h2m13 0h1m1 0h1m7 0h2m1 0h2m2 0h1m1 0h3m5 0h1m6 0h1m1 0h1m1 0h6m1 0h1m16 0h4m1 0h6M426 288.5h2m41 0h1m5 0h1m3 0h2m1 0h8m6 0h4m4 0h4m1 0h14m4 0h3m1 0h1m3 0h1m1 0h6m7 0h6m11 0h2m2 0h16m2 0h2m2 0h1m1 0h1m1 0h1m3 0h1m7 0h2m1 0h2m1 0h6m2 0h4m1 0h1m2 0h12m1 0h4m1 0h6m2 0h2m5 0h3m4 0h1m2 0h11m1 0h3m2 0h3m12 0h1m1 0h3m3 0h3m1 0h1m2 0h1m1 0h3m4 0h1m10 0h2m1 0h6m1 0h1m3 0h1m12 0h9M415 289.5h1m19 0h1m37 0h2m2 0h1m1 0h1m1 0h1m1 0h8m3 0h1m1 0h14m1 0h12m4 0h5m4 0h1m1 0h2m1 0h2m1 0h1m2 0h2m1 0h3m4 0h1m14 0h2m2 0h10m7 0h1m3 0h3m1 0h1m8 0h9m1 0h2m2 0h2m3 0h1m1 0h1m1 0h5m1 0h9m1 0h3m1 0h5m6 0h1m1 0h2m4 0h1m1 0h5m1 0h2m1 0h4m1 0h4m1 0h3m10 0h2m6 0h4m2 0h1m5 0h1m4 0h1m2 0h2m5 0h3m2 0h1m1 0h1m1 0h2m1 0h1m6 0h1m1 0h1m1 0h1m2 0h1m1 0h1m1 0h6M473 290.5h1m2 0h5m1 0h1m2 0h6m3 0h1m1 0h5m1 0h1m1 0h5m1 0h16m3 0h4m1 0h1m1 0h2m1 0h1m1 0h3m1 0h1m2 0h5m4 0h1m3 0h1m6 0h1m1 0h1m2 0h14m1 0h1m1 0h1m8 0h1m2 0h1m7 0h3m3 0h3m2 0h2m1 0h5m1 0h2m1 0h2m1 0h1m2 0h8m1 0h5m1 0h2m9 0h1m11 0h1m2 0h2m1 0h8m1 0h2m19 0h3m1 0h1m2 0h2m3 0h1m7 0h2m1 0h1m2 0h2m1 0h2m6 0h1m9 0h7m1 0h3m1 0h2M395 291.5h1m20 0h1m13 0h2m38 0h1m3 0h1m3 0h1m4 0h9m2 0h1m2 0h1m2 0h1m3 0h2m1 0h3m1 0h13m1 0h2m1 0h10m1 0h1m3 0h3m3 0h4m8 0h2m4 0h2m1 0h2m3 0h2m1 0h9m2 0h2m11 0h1m8 0h10m2 0h3m2 0h6m1 0h7m3 0h8m2 0h1m9 0h1m11 0h1m3 0h3m1 0h8m3 0h1m1 0h1m10 0h1m4 0h2m1 0h3m2 0h1m1 0h1m1 0h1m1 0h4m2 0h4m3 0h2m8 0h4m4 0h1m1 0h13m9 0h1m1 0h1M402 292.5h1m13 0h1m13 0h1m26 0h2m2 0h1m12 0h2m7 0h12m2 0h1m6 0h1m1 0h4m1 0h23m2 0h2m4 0h1m1 0h6m1 0h5m1 0h1m3 0h3m1 0h12m1 0h4m1 0h1m1 0h1m25 0h8m1 0h2m3 0h1m2 0h8m1 0h2m1 0h1m3 0h8m13 0h1m1 0h1m9 0h13m1 0h1m1 0h1m4 0h1m8 0h2m1 0h1m1 0h4m1 0h5m2 0h1m1 0h1m6 0h5m2 0h2m8 0h5m1 0h1m1 0h1m1 0h14m8 0h1M394 293.5h1m47 0h1m12 0h2m2 0h2m20 0h1m1 0h11m2 0h1m2 0h1m2 0h3m1 0h26m1 0h2m1 0h1m1 0h1m2 0h1m1 0h8m1 0h7m1 0h1m1 0h8m4 0h1m1 0h2m1 0h1m3 0h1m8 0h1m4 0h1m1 0h1m11 0h3m1 0h1m1 0h5m1 0h3m1 0h3m1 0h4m2 0h1m2 0h1m1 0h1m1 0h3m1 0h4m1 0h1m22 0h2m1 0h2m1 0h1m1 0h3m1 0h5m1 0h1m1 0h3m8 0h3m2 0h1m1 0h4m3 0h2m5 0h1m4 0h2m5 0h1m1 0h1m5 0h5m5 0h16M443 294.5h1m11 0h1m5 0h1m1 0h1m9 0h2m4 0h1m1 0h15m1 0h3m2 0h3m2 0h1m1 0h29m5 0h8m1 0h3m1 0h1m1 0h11m1 0h6m2 0h1m5 0h1m12 0h1m2 0h1m11 0h2m1 0h9m5 0h5m1 0h6m2 0h5m1 0h3m12 0h3m9 0h1m1 0h4m2 0h9m1 0h2m2 0h1m7 0h1m3 0h1m1 0h1m2 0h1m2 0h1m3 0h5m2 0h1m3 0h2m5 0h1m8 0h5m1 0h1m5 0h7m3 0h6m6 0h1M412 295.5h1m4 0h1m38 0h1m4 0h1m1 0h3m4 0h1m4 0h1m1 0h1m2 0h17m3 0h2m1 0h1m1 0h2m1 0h30m2 0h28m3 0h2m1 0h2m1 0h1m4 0h5m3 0h2m14 0h1m5 0h2m1 0h6m1 0h1m1 0h7m3 0h2m1 0h1m2 0h1m2 0h7m4 0h1m9 0h2m1 0h1m10 0h2m1 0h1m9 0h1m1 0h2m15 0h4m1 0h1m2 0h1m3 0h1m1 0h2m8 0h1m3 0h1m10 0h5m10 0h5m2 0h1m1 0h2m1 0h2M417 296.5h1m31 0h1m4 0h1m1 0h3m4 0h4m2 0h1m5 0h4m1 0h14m10 0h3m1 0h6m1 0h16m1 0h47m3 0h1m1 0h7m7 0h1m1 0h2m5 0h1m4 0h6m1 0h1m1 0h2m1 0h7m4 0h1m1 0h3m1 0h1m2 0h2m1 0h3m1 0h3m7 0h1m1 0h3m1 0h1m11 0h1m1 0h3m1 0h2m4 0h4m12 0h1m1 0h1m3 0h1m8 0h1m4 0h1m5 0h3m1 0h3m2 0h1m6 0h5m1 0h3m1 0h2m4 0h3m7 0h1m1 0h2M331 297.5h1m72 0h1m8 0h1m35 0h3m1 0h1m2 0h4m1 0h7m4 0h20m6 0h1m7 0h71m1 0h3m1 0h1m1 0h7m8 0h1m13 0h2m3 0h19m3 0h1m1 0h1m4 0h7m1 0h2m4 0h1m17 0h1m1 0h3m1 0h1m4 0h1m2 0h1m1 0h1m16 0h2m1 0h2m4 0h3m3 0h1m7 0h2m1 0h3m6 0h1m1 0h3m1 0h1m4 0h4m1 0h1m1 0h3m8 0h1M448 298.5h2m1 0h4m2 0h8m2 0h2m3 0h18m2 0h1m4 0h1m3 0h1m5 0h7m1 0h1m1 0h13m1 0h1m1 0h34m1 0h5m1 0h3m1 0h3m2 0h8m3 0h2m18 0h3m1 0h4m2 0h2m1 0h7m14 0h4m5 0h1m1 0h1m1 0h2m6 0h1m11 0h1m1 0h2m9 0h1m1 0h1m14 0h5m4 0h3m3 0h2m4 0h2m1 0h4m13 0h1m1 0h10m1 0h3m6 0h1m1 0h1M412 299.5h1m34 0h2m1 0h4m1 0h8m4 0h2m4 0h21m2 0h1m9 0h1m1 0h6m3 0h13m1 0h1m1 0h2m2 0h27m1 0h10m1 0h1m2 0h2m1 0h15m17 0h1m2 0h2m1 0h4m5 0h1m1 0h1m12 0h1m3 0h3m2 0h1m1 0h5m1 0h1m21 0h1m9 0h1m1 0h2m14 0h1m3 0h3m1 0h7m1 0h2m6 0h1m1 0h2m3 0h1m8 0h8m2 0h2m1 0h1m1 0h1M400 300.5h1m43 0h1m1 0h1m1 0h3m1 0h1m1 0h2m1 0h5m1 0h1m8 0h18m1 0h6m8 0h3m2 0h3m3 0h1m1 0h7m1 0h3m1 0h2m2 0h2m1 0h3m2 0h4m1 0h24m1 0h6m1 0h11m3 0h6m1 0h1m1 0h1m1 0h1m10 0h1m2 0h9m1 0h2m19 0h2m4 0h5m29 0h1m2 0h2m2 0h1m5 0h1m4 0h1m3 0h2m1 0h3m4 0h1m1 0h1m1 0h4m4 0h1m1 0h5m2 0h1m1 0h1m5 0h4m2 0h1m1 0h1m1 0h1m14 0h1m4 0h1M444 301.5h1m1 0h1m1 0h2m1 0h2m1 0h6m3 0h1m1 0h1m7 0h19m1 0h2m1 0h1m1 0h1m8 0h2m2 0h14m1 0h1m3 0h2m1 0h6m1 0h2m1 0h1m2 0h4m1 0h18m1 0h2m1 0h12m1 0h5m2 0h12m11 0h1m1 0h12m12 0h1m6 0h2m4 0h4m13 0h1m4 0h2m9 0h1m1 0h1m1 0h5m1 0h1m7 0h1m6 0h1m9 0h1m1 0h3m1 0h1m1 0h2m3 0h5m10 0h4m3 0h1m1 0h1m21 0h1M417 302.5h1m25 0h4m1 0h2m1 0h9m2 0h2m1 0h1m7 0h14m1 0h12m1 0h1m4 0h3m4 0h15m3 0h1m1 0h9m2 0h2m2 0h1m2 0h15m1 0h8m1 0h5m1 0h4m1 0h1m3 0h13m11 0h1m1 0h1m1 0h8m1 0h2m14 0h1m2 0h3m7 0h2m4 0h1m9 0h2m2 0h5m5 0h1m3 0h8m2 0h1m3 0h3m3 0h1m1 0h1m5 0h1m1 0h1m2 0h1m1 0h1m2 0h1m1 0h1m3 0h8m1 0h1m5 0h5m2 0h2m1 0h1m5 0h2m7 0h2M443 303.5h8m1 0h1m1 0h1m1 0h1m1 0h1m5 0h1m8 0h13m1 0h4m1 0h9m6 0h3m2 0h2m1 0h1m1 0h8m7 0h11m5 0h1m3 0h1m1 0h1m1 0h12m1 0h4m1 0h12m6 0h14m6 0h3m3 0h5m4 0h1m18 0h1m1 0h2m28 0h5m1 0h2m1 0h1m2 0h1m1 0h8m1 0h1m4 0h1m5 0h1m5 0h1m1 0h2m1 0h1m1 0h1m6 0h1m1 0h2m1 0h10m1 0h2m1 0h1m1 0h4m8 0h1m1 0h1m4 0h1m2 0h2M422 304.5h1m1 0h1m18 0h7m15 0h2m5 0h1m2 0h7m3 0h1m2 0h5m1 0h6m1 0h1m2 0h2m2 0h1m2 0h6m2 0h6m1 0h3m2 0h1m1 0h8m5 0h1m1 0h1m1 0h1m4 0h9m2 0h8m1 0h8m1 0h2m5 0h15m1 0h1m3 0h4m5 0h3m1 0h2m1 0h2m29 0h2m2 0h1m1 0h2m12 0h1m1 0h3m1 0h1m2 0h5m2 0h7m1 0h1m7 0h1m1 0h1m1 0h1m1 0h2m4 0h3m10 0h11m4 0h3m6 0h1m4 0h3m1 0h2m1 0h1m1 0h6m1 0h1M376 305.5h1m46 0h2m18 0h8m14 0h1m2 0h1m1 0h1m1 0h2m2 0h1m2 0h3m6 0h10m3 0h1m4 0h3m1 0h1m4 0h27m2 0h1m1 0h3m1 0h2m2 0h16m1 0h3m3 0h7m6 0h12m1 0h1m1 0h3m1 0h1m1 0h3m1 0h1m6 0h2m2 0h2m10 0h1m19 0h2m1 0h1m1 0h1m9 0h1m5 0h4m1 0h1m3 0h4m2 0h7m4 0h2m2 0h1m2 0h2m1 0h2m5 0h1m1 0h1m11 0h1m1 0h3m1 0h5m4 0h2m13 0h1m4 0h11M424 306.5h1m18 0h1m1 0h2m1 0h4m1 0h1m10 0h4m7 0h1m3 0h3m5 0h5m2 0h5m3 0h1m5 0h3m2 0h2m1 0h1m2 0h3m1 0h18m1 0h1m3 0h1m1 0h1m2 0h14m1 0h6m1 0h2m2 0h7m8 0h4m1 0h7m2 0h2m1 0h1m1 0h2m1 0h3m2 0h2m1 0h7m7 0h3m5 0h1m5 0h4m2 0h6m6 0h2m9 0h1m1 0h2m8 0h1m1 0h8m4 0h1m4 0h2m5 0h4m2 0h1m6 0h1m5 0h2m2 0h1m1 0h6m8 0h1m10 0h1m3 0h11M423 307.5h1m1 0h1m19 0h3m1 0h1m1 0h3m8 0h3m3 0h1m1 0h1m7 0h1m2 0h1m7 0h3m2 0h2m2 0h1m2 0h1m7 0h2m1 0h6m1 0h1m4 0h19m11 0h7m2 0h13m1 0h4m6 0h1m4 0h10m2 0h1m4 0h1m1 0h7m1 0h1m1 0h1m1 0h3m1 0h1m8 0h1m5 0h3m1 0h2m9 0h3m1 0h1m4 0h2m1 0h1m18 0h4m4 0h9m3 0h1m2 0h1m3 0h1m2 0h3m2 0h2m2 0h3m12 0h3m1 0h2m23 0h1m1 0h9M400 308.5h1m24 0h1m17 0h1m1 0h1m3 0h3m15 0h4m6 0h3m1 0h1m6 0h8m12 0h4m1 0h5m1 0h1m5 0h19m3 0h5m1 0h2m1 0h3m1 0h1m5 0h6m2 0h2m1 0h3m2 0h4m4 0h13m2 0h1m1 0h11m1 0h4m1 0h3m15 0h4m3 0h1m1 0h1m5 0h4m1 0h1m2 0h2m2 0h1m16 0h1m2 0h13m5 0h4m6 0h2m1 0h4m2 0h1m1 0h3m11 0h4m6 0h2m4 0h1m3 0h1m2 0h1m6 0h9M401 309.5h1m40 0h1m1 0h1m2 0h1m1 0h2m27 0h1m11 0h1m3 0h1m3 0h2m1 0h1m3 0h1m1 0h11m6 0h13m1 0h1m1 0h1m2 0h1m7 0h2m5 0h2m5 0h1m1 0h13m3 0h1m1 0h1m5 0h14m1 0h1m2 0h10m1 0h3m1 0h1m15 0h7m3 0h1m5 0h3m1 0h4m23 0h1m1 0h1m1 0h1m1 0h1m3 0h5m3 0h2m3 0h1m7 0h2m3 0h1m4 0h2m1 0h1m13 0h1m6 0h1m3 0h3m2 0h1m1 0h2m7 0h9M398 310.5h1m15 0h1m11 0h2m20 0h2m20 0h1m3 0h2m4 0h4m3 0h2m11 0h17m8 0h10m2 0h2m2 0h1m9 0h3m2 0h2m8 0h1m1 0h13m1 0h2m1 0h1m1 0h2m2 0h3m1 0h14m1 0h4m1 0h3m1 0h1m1 0h1m2 0h1m14 0h1m2 0h1m3 0h1m2 0h1m8 0h5m4 0h1m1 0h3m14 0h4m2 0h2m1 0h9m7 0h2m13 0h1m19 0h1m4 0h1m2 0h1m1 0h1m5 0h1m3 0h1m6 0h8M415 311.5h1m11 0h1m21 0h1m5 0h1m14 0h2m1 0h3m1 0h6m4 0h1m2 0h3m4 0h16m12 0h9m3 0h1m8 0h1m1 0h2m5 0h1m1 0h2m8 0h7m1 0h6m1 0h5m4 0h1m1 0h12m3 0h7m1 0h2m1 0h2m1 0h4m1 0h1m12 0h1m3 0h1m5 0h1m4 0h1m1 0h4m1 0h2m4 0h1m3 0h1m12 0h1m1 0h4m2 0h7m2 0h1m7 0h2m1 0h2m7 0h1m6 0h1m1 0h1m3 0h1m1 0h2m8 0h9m4 0h5m3 0h2m4 0h7M393 312.5h1m52 0h1m8 0h1m7 0h1m8 0h12m1 0h5m3 0h1m3 0h14m1 0h1m10 0h11m5 0h2m4 0h1m1 0h2m6 0h1m6 0h1m1 0h1m1 0h8m1 0h2m1 0h5m3 0h3m2 0h2m2 0h9m4 0h12m2 0h1m1 0h2m1 0h2m20 0h1m5 0h5m7 0h1m18 0h1m1 0h2m1 0h8m2 0h2m2 0h1m1 0h1m5 0h2m1 0h1m1 0h2m8 0h1m8 0h1m1 0h2m5 0h8m6 0h5m4 0h1m1 0h2m1 0h7M471 313.5h19m7 0h3m1 0h1m1 0h8m14 0h2m1 0h1m1 0h4m6 0h1m1 0h1m1 0h2m4 0h1m5 0h1m1 0h1m8 0h4m1 0h2m2 0h1m1 0h2m1 0h7m1 0h1m1 0h1m1 0h10m5 0h9m1 0h1m3 0h10m14 0h1m1 0h1m2 0h1m4 0h2m2 0h1m5 0h1m21 0h2m1 0h9m6 0h3m2 0h1m1 0h3m1 0h1m1 0h1m2 0h1m1 0h2m1 0h1m3 0h1m1 0h1m2 0h1m9 0h8m1 0h1m4 0h4m9 0h1m2 0h1m1 0h3M455 314.5h1m16 0h3m1 0h13m1 0h1m6 0h2m2 0h2m1 0h2m1 0h4m11 0h2m3 0h1m2 0h1m1 0h1m6 0h2m3 0h2m1 0h2m2 0h2m12 0h6m1 0h3m2 0h1m2 0h7m2 0h2m4 0h9m6 0h9m1 0h3m1 0h3m1 0h3m15 0h3m6 0h1m10 0h1m20 0h2m1 0h8m1 0h1m9 0h1m6 0h3m1 0h1m2 0h1m2 0h3m2 0h2m3 0h1m4 0h1m4 0h1m1 0h8m1 0h1m1 0h5m3 0h1m9 0h1m1 0h1M470 315.5h1m1 0h3m2 0h1m1 0h2m1 0h8m1 0h4m1 0h4m1 0h5m1 0h3m1 0h1m13 0h4m1 0h1m7 0h1m1 0h1m1 0h3m1 0h1m4 0h1m5 0h1m9 0h4m1 0h9m1 0h4m1 0h1m1 0h3m1 0h1m1 0h10m4 0h2m1 0h7m1 0h10m6 0h1m10 0h1m4 0h1m4 0h2m29 0h2m1 0h1m1 0h6m1 0h2m7 0h2m7 0h1m2 0h6m1 0h2m1 0h1m8 0h1m1 0h1m1 0h1m1 0h9m1 0h3m5 0h1m4 0h1m6 0h1m3 0h1M470 316.5h2m4 0h4m1 0h7m1 0h5m2 0h1m1 0h5m1 0h5m2 0h1m7 0h2m5 0h6m6 0h2m3 0h2m22 0h9m1 0h1m3 0h3m1 0h2m1 0h6m3 0h4m2 0h1m6 0h2m1 0h15m3 0h1m2 0h5m6 0h1m1 0h1m5 0h1m33 0h3m1 0h10m7 0h1m1 0h3m1 0h4m1 0h1m2 0h12m1 0h1m1 0h1m1 0h1m1 0h3m1 0h1m3 0h4m2 0h6m7 0h1m1 0h2M477 317.5h1m2 0h8m1 0h3m1 0h1m3 0h1m1 0h10m10 0h1m1 0h1m3 0h7m6 0h3m1 0h3m1 0h1m4 0h1m1 0h1m14 0h6m4 0h16m2 0h1m1 0h1m1 0h2m2 0h2m4 0h1m1 0h4m1 0h6m2 0h3m4 0h7m1 0h1m5 0h2m37 0h2m2 0h4m2 0h2m1 0h1m8 0h1m1 0h1m1 0h1m5 0h1m2 0h3m1 0h1m1 0h1m1 0h6m3 0h9m2 0h6m2 0h4m1 0h1m6 0h3m1 0h3m1 0h1M449 318.5h1m28 0h3m2 0h6m2 0h3m6 0h9m5 0h2m2 0h5m2 0h1m2 0h4m4 0h2m3 0h7m20 0h6m1 0h5m2 0h1m1 0h1m1 0h8m1 0h2m3 0h1m6 0h6m1 0h3m1 0h2m1 0h2m1 0h1m1 0h2m2 0h2m2 0h9m4 0h1m1 0h1m35 0h2m1 0h5m1 0h1m1 0h3m1 0h1m4 0h1m6 0h1m7 0h5m6 0h2m1 0h1m2 0h9m1 0h5m6 0h2m2 0h1m4 0h9m1 0h1m1 0h1M482 319.5h2m1 0h4m1 0h6m3 0h2m2 0h7m4 0h2m1 0h6m1 0h8m4 0h1m1 0h13m5 0h1m11 0h6m1 0h2m4 0h2m2 0h5m2 0h1m5 0h2m7 0h15m2 0h6m2 0h11m4 0h3m7 0h1m8 0h7m12 0h3m3 0h5m1 0h2m6 0h2m11 0h4m1 0h1m6 0h1m3 0h9m1 0h8m1 0h1m1 0h1m2 0h3m1 0h1m5 0h10m1 0h1M449 320.5h1m1 0h1m32 0h1m1 0h3m1 0h5m2 0h4m2 0h1m1 0h5m4 0h18m1 0h1m1 0h2m1 0h12m14 0h1m2 0h7m1 0h4m2 0h1m1 0h1m1 0h3m17 0h1m1 0h22m3 0h6m2 0h3m3 0h2m5 0h1m13 0h3m2 0h5m9 0h1m1 0h1m5 0h2m5 0h1m6 0h1m1 0h1m3 0h1m6 0h1m1 0h2m1 0h1m2 0h1m3 0h11m3 0h1m1 0h2m1 0h1m1 0h1m3 0h2m2 0h1m6 0h9m1 0h1M426 321.5h1m22 0h1m3 0h2m11 0h1m18 0h2m4 0h3m1 0h4m3 0h8m5 0h1m3 0h8m1 0h5m1 0h1m1 0h20m5 0h1m2 0h8m1 0h5m1 0h1m1 0h6m2 0h1m3 0h4m10 0h7m2 0h13m3 0h5m4 0h2m1 0h1m1 0h2m18 0h8m13 0h2m4 0h1m2 0h1m4 0h4m1 0h1m1 0h4m1 0h2m9 0h1m3 0h1m6 0h8m3 0h1m1 0h2m3 0h2m4 0h2m2 0h1m4 0h10m1 0h1M442 322.5h1m6 0h1m2 0h2m8 0h4m1 0h1m7 0h1m15 0h17m1 0h1m2 0h1m1 0h4m1 0h37m3 0h8m1 0h2m1 0h1m2 0h7m4 0h5m2 0h1m1 0h3m10 0h5m1 0h2m1 0h6m1 0h1m1 0h12m1 0h1m1 0h8m18 0h3m1 0h5m13 0h1m6 0h2m5 0h1m2 0h5m3 0h2m4 0h1m1 0h1m3 0h1m6 0h5m1 0h6m3 0h7m1 0h1m2 0h3m8 0h6M430 323.5h1m18 0h1m11 0h1m2 0h1m1 0h3m4 0h3m1 0h1m8 0h1m1 0h6m2 0h3m2 0h6m1 0h6m2 0h1m3 0h53m1 0h1m2 0h1m1 0h3m2 0h5m3 0h5m2 0h1m7 0h3m3 0h9m1 0h15m3 0h2m1 0h1m1 0h3m17 0h5m1 0h1m4 0h2m1 0h2m4 0h4m1 0h1m1 0h1m11 0h6m3 0h1m1 0h3m1 0h4m1 0h1m7 0h2m2 0h1m2 0h3m2 0h1m1 0h1m2 0h4m4 0h1m2 0h1m4 0h1m2 0h2M406 324.5h2m44 0h1m7 0h1m1 0h2m1 0h1m3 0h2m1 0h5m5 0h2m4 0h2m1 0h3m3 0h3m1 0h2m2 0h1m1 0h1m3 0h6m1 0h3m1 0h3m1 0h2m3 0h46m1 0h2m1 0h2m1 0h3m1 0h1m1 0h7m11 0h4m2 0h24m5 0h6m16 0h1m1 0h11m1 0h2m6 0h2m1 0h1m3 0h4m1 0h1m4 0h7m4 0h6m3 0h1m3 0h1m2 0h1m5 0h1m1 0h3m5 0h1m2 0h1m1 0h3m2 0h1m5 0h1m4 0h1m6 0h1m1 0h2M450 325.5h2m2 0h2m5 0h2m1 0h2m1 0h4m2 0h5m3 0h9m3 0h2m1 0h1m1 0h1m1 0h4m1 0h2m1 0h2m2 0h1m1 0h3m1 0h10m1 0h2m1 0h49m1 0h12m1 0h1m14 0h2m8 0h3m3 0h11m7 0h7m16 0h5m2 0h5m2 0h1m4 0h4m7 0h2m6 0h5m1 0h1m3 0h6m2 0h1m1 0h1m1 0h2m1 0h2m8 0h2m13 0h1m3 0h1m3 0h1m3 0h1m5 0h1M312 326.5h1m67 0h1m69 0h1m1 0h3m8 0h1m1 0h1m2 0h1m1 0h1m1 0h7m2 0h3m1 0h5m2 0h2m1 0h6m1 0h1m1 0h3m3 0h5m1 0h2m1 0h2m1 0h43m1 0h14m1 0h8m2 0h1m1 0h2m4 0h1m4 0h2m2 0h1m5 0h4m2 0h4m4 0h9m10 0h5m1 0h1m4 0h2m8 0h1m2 0h2m1 0h2m2 0h3m4 0h6m1 0h1m4 0h1m1 0h1m5 0h1m1 0h2m1 0h1m1 0h1m4 0h4m3 0h2m13 0h4m11 0h2m7 0h1m1 0h1M454 327.5h5m3 0h5m2 0h3m1 0h5m4 0h1m2 0h9m1 0h8m1 0h4m2 0h2m1 0h3m1 0h9m1 0h12m3 0h36m3 0h2m1 0h11m1 0h3m2 0h2m1 0h1m1 0h2m1 0h2m3 0h1m3 0h1m11 0h1m1 0h7m3 0h1m3 0h1m1 0h5m4 0h3m6 0h5m1 0h1m1 0h4m1 0h1m5 0h1m1 0h2m1 0h2m6 0h4m3 0h2m1 0h2m8 0h3m6 0h3m3 0h1m1 0h1m7 0h1m8 0h2m11 0h1m3 0h1m4 0h1M430 328.5h1m21 0h3m1 0h1m5 0h1m5 0h12m1 0h1m6 0h1m3 0h11m1 0h2m1 0h2m1 0h3m1 0h1m2 0h1m3 0h2m1 0h15m2 0h37m3 0h2m1 0h1m1 0h3m1 0h2m1 0h1m6 0h1m2 0h3m1 0h1m1 0h2m2 0h2m1 0h1m1 0h1m3 0h1m3 0h1m7 0h2m2 0h2m1 0h1m2 0h1m3 0h9m7 0h1m1 0h1m1 0h1m1 0h2m1 0h4m1 0h2m9 0h3m6 0h9m1 0h1m4 0h2m1 0h1m1 0h1m1 0h1m1 0h2m9 0h1m8 0h1m5 0h2m1 0h1m1 0h2m12 0h1m4 0h1m1 0h3M423 329.5h1m27 0h3m1 0h1m13 0h4m1 0h3m7 0h1m1 0h1m1 0h1m3 0h5m1 0h6m1 0h10m3 0h4m1 0h2m1 0h3m1 0h9m1 0h1m1 0h1m1 0h9m2 0h1m1 0h5m1 0h6m1 0h8m4 0h6m1 0h2m11 0h4m3 0h2m11 0h2m10 0h2m4 0h3m5 0h8m3 0h1m3 0h1m2 0h3m2 0h2m1 0h1m2 0h1m9 0h2m2 0h1m6 0h11m4 0h3m1 0h1m2 0h3m29 0h1m3 0h1m9 0h5m2 0h2M421 330.5h2m6 0h1m24 0h1m13 0h13m11 0h2m1 0h4m1 0h2m2 0h3m1 0h6m1 0h2m1 0h6m2 0h13m7 0h8m2 0h4m2 0h15m3 0h2m1 0h6m1 0h1m11 0h5m2 0h4m8 0h1m1 0h1m10 0h1m3 0h1m1 0h7m1 0h9m1 0h3m1 0h1m3 0h2m4 0h1m2 0h1m2 0h1m2 0h2m1 0h4m1 0h1m2 0h1m5 0h8m7 0h1m1 0h2m5 0h1m3 0h1m3 0h1m2 0h1m6 0h1m2 0h1m19 0h1m1 0h1m1 0h2m1 0h3M420 331.5h1m1 0h1m1 0h1m27 0h2m6 0h1m1 0h1m7 0h3m3 0h6m12 0h1m2 0h8m1 0h9m3 0h3m1 0h1m1 0h1m1 0h5m1 0h1m2 0h6m4 0h3m1 0h2m1 0h2m1 0h1m2 0h30m4 0h2m9 0h3m2 0h1m1 0h3m11 0h1m1 0h1m9 0h1m3 0h4m3 0h10m3 0h1m1 0h4m1 0h2m3 0h1m4 0h1m1 0h2m1 0h1m1 0h3m1 0h1m2 0h3m4 0h1m1 0h5m11 0h1m2 0h1m1 0h1m2 0h1m5 0h1m6 0h1m2 0h1m2 0h1m21 0h8m1 0h1M420 332.5h2m32 0h2m4 0h1m2 0h1m4 0h1m1 0h3m3 0h7m14 0h1m2 0h2m6 0h6m4 0h13m4 0h4m11 0h1m3 0h1m2 0h1m5 0h2m4 0h8m4 0h2m2 0h2m2 0h1m1 0h1m9 0h9m1 0h1m3 0h1m8 0h2m3 0h1m8 0h1m9 0h10m3 0h1m1 0h6m5 0h4m1 0h1m1 0h7m4 0h5m1 0h1m2 0h1m1 0h2m10 0h1m10 0h1m7 0h2m1 0h4m1 0h1m2 0h1m8 0h1m5 0h1m2 0h1m4 0h4m2 0h1M460 333.5h3m7 0h2m3 0h3m1 0h2m14 0h4m8 0h1m1 0h7m1 0h2m1 0h2m2 0h6m25 0h4m6 0h1m3 0h7m2 0h4m9 0h2m3 0h1m4 0h11m2 0h2m9 0h1m1 0h4m5 0h1m13 0h3m1 0h1m6 0h1m1 0h1m1 0h3m3 0h1m2 0h1m1 0h2m1 0h2m1 0h3m1 0h2m1 0h1m1 0h4m1 0h3m1 0h1m1 0h1m32 0h10m2 0h1m3 0h1m3 0h1m3 0h1m6 0h1m2 0h4M459 334.5h1m10 0h1m3 0h5m15 0h4m3 0h1m7 0h7m1 0h3m4 0h4m1 0h1m21 0h1m4 0h4m3 0h1m5 0h5m4 0h1m4 0h1m7 0h2m1 0h2m5 0h8m1 0h4m2 0h1m12 0h2m1 0h1m1 0h3m13 0h1m1 0h1m1 0h1m8 0h3m1 0h2m2 0h1m1 0h2m1 0h2m1 0h1m1 0h1m2 0h2m2 0h4m1 0h4m2 0h4m2 0h1m12 0h1m1 0h1m4 0h1m1 0h1m4 0h11m1 0h7m2 0h1m3 0h1m6 0h4m2 0h2m1 0h1M476 335.5h4m8 0h2m4 0h2m12 0h1m1 0h4m5 0h2m2 0h1m2 0h1m11 0h1m13 0h11m5 0h1m1 0h3m2 0h1m3 0h1m2 0h2m6 0h8m4 0h12m2 0h1m13 0h1m3 0h3m16 0h1m8 0h2m2 0h1m1 0h7m1 0h3m1 0h1m3 0h2m1 0h4m1 0h2m2 0h1m1 0h1m4 0h1m15 0h1m1 0h1m9 0h5m1 0h6m1 0h6m1 0h2m7 0h1m1 0h6m2 0h2M423 336.5h1m51 0h2m12 0h1m4 0h1m3 0h1m7 0h2m2 0h4m4 0h4m2 0h1m18 0h1m9 0h8m1 0h2m10 0h1m2 0h1m2 0h2m8 0h7m3 0h1m1 0h11m1 0h1m9 0h1m1 0h6m3 0h2m28 0h1m3 0h4m1 0h5m2 0h1m1 0h3m3 0h5m1 0h3m1 0h1m1 0h1m1 0h1m1 0h2m7 0h1m1 0h1m10 0h1m1 0h1m1 0h5m1 0h2m1 0h1m1 0h2m2 0h2m1 0h2m1 0h1m1 0h1m2 0h1m1 0h2m1 0h8M409 337.5h1m2 0h1m1 0h2m60 0h1m7 0h2m1 0h1m19 0h1m2 0h1m7 0h4m1 0h1m6 0h1m6 0h1m5 0h1m9 0h6m1 0h5m9 0h1m1 0h5m5 0h1m2 0h7m1 0h1m1 0h14m1 0h1m9 0h5m4 0h1m1 0h4m29 0h5m1 0h3m2 0h1m1 0h4m1 0h4m2 0h1m2 0h1m10 0h1m8 0h3m8 0h1m1 0h10m1 0h1m1 0h1m1 0h2m1 0h5m3 0h1m1 0h1m1 0h3m2 0h9M414 338.5h1m71 0h1m5 0h1m6 0h1m6 0h3m1 0h1m8 0h7m9 0h1m18 0h1m1 0h1m1 0h3m1 0h1m1 0h1m9 0h8m5 0h1m1 0h6m4 0h1m2 0h13m11 0h2m2 0h1m2 0h7m10 0h1m17 0h5m1 0h3m1 0h1m1 0h3m1 0h5m4 0h1m2 0h1m3 0h2m8 0h1m1 0h2m1 0h3m8 0h13m1 0h9m1 0h1m3 0h2m1 0h4m1 0h8M415 339.5h1m40 0h2m35 0h1m6 0h1m1 0h6m3 0h1m9 0h2m2 0h1m8 0h1m20 0h1m2 0h1m5 0h3m8 0h1m1 0h1m1 0h1m9 0h4m2 0h1m3 0h1m3 0h9m10 0h2m2 0h2m1 0h1m2 0h8m3 0h2m23 0h1m1 0h3m1 0h1m2 0h2m1 0h5m2 0h2m11 0h8m1 0h9m7 0h3m1 0h1m1 0h2m1 0h8m4 0h3m1 0h1m5 0h13M367 340.5h1m47 0h1m44 0h1m30 0h1m2 0h4m1 0h9m1 0h1m1 0h1m12 0h1m7 0h2m1 0h2m4 0h2m4 0h1m2 0h1m1 0h1m6 0h1m1 0h3m1 0h2m6 0h1m4 0h2m3 0h1m1 0h2m3 0h2m1 0h2m7 0h3m17 0h1m1 0h2m4 0h1m2 0h1m1 0h5m27 0h4m2 0h2m1 0h1m3 0h6m13 0h7m2 0h11m5 0h4m1 0h5m1 0h5m6 0h2m3 0h1m4 0h11M446 341.5h1m1 0h1m11 0h1m31 0h1m2 0h1m2 0h9m2 0h3m8 0h1m4 0h1m2 0h1m5 0h4m1 0h1m2 0h1m3 0h3m7 0h8m22 0h1m6 0h6m23 0h1m2 0h1m8 0h4m1 0h1m29 0h1m1 0h2m1 0h3m4 0h2m1 0h3m12 0h2m1 0h3m1 0h13m2 0h1m3 0h3m1 0h2m1 0h1m3 0h2m1 0h1m4 0h2m1 0h2m2 0h1m3 0h11M402 342.5h1m3 0h1m4 0h1m5 0h1m73 0h1m5 0h10m3 0h3m15 0h1m4 0h1m6 0h1m1 0h2m2 0h4m3 0h1m2 0h1m1 0h6m9 0h1m15 0h1m4 0h4m26 0h5m6 0h3m1 0h1m5 0h2m20 0h8m1 0h1m4 0h1m3 0h1m11 0h1m1 0h2m2 0h1m3 0h6m1 0h3m4 0h9m1 0h2m12 0h7m3 0h10M405 343.5h1m67 0h1m18 0h2m1 0h1m1 0h12m1 0h2m1 0h3m16 0h2m2 0h4m4 0h9m5 0h5m12 0h1m12 0h1m3 0h3m30 0h1m2 0h1m1 0h1m2 0h1m2 0h4m3 0h2m5 0h1m17 0h2m2 0h6m5 0h3m11 0h3m9 0h2m2 0h1m1 0h1m3 0h1m2 0h9m1 0h3m11 0h1m1 0h3m1 0h2m3 0h7M404 344.5h1m47 0h1m19 0h1m3 0h2m13 0h3m2 0h13m2 0h1m1 0h1m16 0h2m1 0h2m2 0h1m1 0h1m2 0h1m1 0h8m1 0h2m3 0h2m1 0h2m10 0h2m11 0h1m4 0h1m1 0h1m32 0h2m1 0h2m1 0h1m2 0h6m2 0h1m25 0h1m1 0h3m1 0h2m17 0h4m2 0h2m8 0h3m4 0h2m1 0h15m11 0h8m3 0h6M405 345.5h1m11 0h2m39 0h1m12 0h3m2 0h1m1 0h1m16 0h2m4 0h12m3 0h2m7 0h1m2 0h3m1 0h1m1 0h1m1 0h3m7 0h5m4 0h5m2 0h1m1 0h2m8 0h1m9 0h3m3 0h3m34 0h1m3 0h1m1 0h1m4 0h2m3 0h1m6 0h2m18 0h2m1 0h1m3 0h1m10 0h1m3 0h7m3 0h1m6 0h1m1 0h1m1 0h2m4 0h15m1 0h1m10 0h15M403 346.5h2m43 0h1m8 0h1m1 0h1m10 0h2m3 0h3m1 0h1m19 0h11m6 0h2m6 0h1m6 0h1m2 0h1m2 0h3m2 0h1m3 0h4m1 0h1m1 0h1m2 0h4m1 0h3m16 0h1m1 0h3m1 0h2m1 0h4m34 0h3m1 0h1m2 0h1m1 0h1m5 0h2m4 0h2m20 0h1m3 0h1m8 0h1m8 0h7m1 0h3m6 0h3m6 0h2m1 0h16m10 0h14M405 347.5h1m36 0h1m13 0h1m11 0h1m1 0h1m4 0h1m3 0h1m20 0h10m16 0h2m6 0h1m1 0h4m1 0h1m1 0h1m7 0h1m2 0h8m8 0h1m1 0h3m5 0h1m1 0h10m37 0h1m2 0h1m2 0h1m2 0h1m9 0h1m16 0h1m5 0h4m20 0h4m12 0h1m5 0h2m1 0h7m2 0h9m8 0h3m1 0h10M441 348.5h2m10 0h1m3 0h1m10 0h1m8 0h2m2 0h1m18 0h1m2 0h7m1 0h2m8 0h1m2 0h1m4 0h1m2 0h1m2 0h2m1 0h6m8 0h11m1 0h2m3 0h1m1 0h1m1 0h1m3 0h1m4 0h9m39 0h1m17 0h1m3 0h2m9 0h5m1 0h1m1 0h3m11 0h1m1 0h1m8 0h4m11 0h3m2 0h1m2 0h11m1 0h6m2 0h2m6 0h12M413 349.5h1m21 0h1m18 0h1m9 0h1m3 0h1m6 0h10m16 0h1m2 0h1m2 0h2m2 0h2m23 0h10m7 0h8m1 0h1m2 0h2m1 0h3m1 0h1m1 0h1m2 0h1m1 0h10m47 0h1m17 0h2m6 0h2m1 0h2m6 0h1m10 0h1m2 0h3m8 0h2m10 0h1m1 0h3m3 0h1m1 0h2m1 0h13m1 0h2m1 0h2m6 0h8M411 350.5h2m28 0h1m15 0h1m6 0h1m5 0h1m1 0h1m1 0h8m2 0h1m2 0h1m12 0h1m5 0h1m3 0h4m4 0h1m4 0h1m11 0h1m1 0h1m2 0h7m6 0h6m2 0h1m2 0h1m9 0h2m1 0h2m1 0h1m1 0h2m54 0h2m8 0h1m12 0h2m7 0h1m28 0h1m8 0h1m3 0h2m7 0h1m1 0h19m5 0h9M411 351.5h1m63 0h7m1 0h3m1 0h1m16 0h2m1 0h1m3 0h3m3 0h3m4 0h2m1 0h1m3 0h1m2 0h1m1 0h1m5 0h4m1 0h1m6 0h1m1 0h1m2 0h3m1 0h1m4 0h2m1 0h1m2 0h4m1 0h1m1 0h2m53 0h1m3 0h1m20 0h1m2 0h1m3 0h6m23 0h1m1 0h1m8 0h2m1 0h1m12 0h12m1 0h6m4 0h7M201 352.5h1m209 0h1m13 0h1m26 0h1m1 0h2m15 0h1m4 0h6m25 0h5m1 0h1m2 0h1m1 0h2m11 0h1m2 0h1m8 0h5m4 0h5m3 0h5m1 0h5m1 0h2m1 0h6m91 0h2m1 0h1m22 0h1m8 0h2m15 0h13m3 0h1m1 0h1m4 0h4M403 353.5h1m6 0h1m2 0h1m39 0h2m11 0h2m1 0h1m1 0h1m1 0h1m2 0h6m1 0h1m1 0h2m20 0h4m2 0h3m1 0h2m12 0h1m10 0h1m1 0h5m4 0h1m1 0h4m1 0h2m1 0h11m1 0h2m84 0h2m8 0h1m1 0h1m1 0h1m6 0h2m23 0h2m15 0h11m4 0h4m3 0h3M434 354.5h1m16 0h2m1 0h2m13 0h2m1 0h2m1 0h5m1 0h3m2 0h1m21 0h2m1 0h2m1 0h8m3 0h1m17 0h5m2 0h7m5 0h5m1 0h5m1 0h4m69 0h1m1 0h1m10 0h1m1 0h1m7 0h5m10 0h1m14 0h2m5 0h1m15 0h8m1 0h2m5 0h2m1 0h1m3 0h1M401 355.5h1m3 0h2m27 0h2m14 0h1m2 0h1m3 0h1m9 0h1m2 0h1m5 0h4m2 0h4m5 0h1m13 0h1m1 0h2m1 0h5m1 0h1m1 0h1m1 0h3m21 0h4m1 0h3m2 0h4m1 0h1m1 0h5m1 0h1m2 0h1m2 0h4m59 0h1m8 0h2m1 0h3m9 0h2m9 0h3m1 0h1m4 0h1m4 0h1m4 0h3m7 0h2m21 0h9m1 0h1m6 0h1M405 356.5h1m2 0h1m24 0h1m6 0h1m17 0h2m6 0h1m2 0h2m5 0h1m1 0h3m1 0h4m4 0h1m1 0h1m12 0h1m2 0h1m3 0h3m1 0h1m3 0h2m1 0h1m2 0h1m7 0h1m4 0h1m3 0h4m2 0h5m1 0h4m1 0h1m2 0h2m3 0h2m1 0h6m64 0h14m4 0h1m2 0h2m7 0h1m2 0h1m2 0h1m1 0h1m1 0h1m6 0h1m3 0h1m3 0h1m3 0h3m3 0h2m16 0h2m1 0h4m2 0h1M404 357.5h2m27 0h1m8 0h1m18 0h1m4 0h1m1 0h2m1 0h2m1 0h1m1 0h6m1 0h3m4 0h4m11 0h1m1 0h3m3 0h2m1 0h1m1 0h4m3 0h1m2 0h1m3 0h1m1 0h1m9 0h21m1 0h11m67 0h9m6 0h2m1 0h1m7 0h1m1 0h5m1 0h2m4 0h2m1 0h1m2 0h3m3 0h7m2 0h2m1 0h1m16 0h1m1 0h5M404 358.5h1m61 0h1m2 0h1m4 0h1m1 0h8m6 0h1m1 0h2m11 0h2m1 0h2m2 0h2m2 0h6m1 0h1m2 0h4m3 0h1m2 0h2m6 0h1m1 0h6m1 0h11m2 0h1m2 0h1m2 0h4m69 0h8m4 0h4m8 0h1m2 0h3m1 0h1m2 0h1m1 0h3m3 0h2m3 0h1m2 0h3m3 0h5m1 0h2m15 0h6m1 0h1M405 359.5h1m67 0h1m2 0h1m1 0h5m2 0h1m4 0h2m1 0h2m1 0h3m1 0h1m1 0h1m8 0h1m1 0h10m9 0h2m1 0h2m1 0h1m7 0h16m3 0h10m71 0h9m1 0h5m12 0h4m1 0h3m2 0h6m1 0h1m1 0h1m8 0h5m2 0h1m14 0h6M419 360.5h1m57 0h5m5 0h3m1 0h8m10 0h2m1 0h10m2 0h1m2 0h1m7 0h2m1 0h2m8 0h13m3 0h5m1 0h4m70 0h10m1 0h7m10 0h1m1 0h1m2 0h2m2 0h3m1 0h1m1 0h3m1 0h1m9 0h1m1 0h6m8 0h2m3 0h1m1 0h5m2 0h1m8 0h2M480 361.5h2m3 0h3m2 0h1m1 0h6m1 0h2m4 0h2m2 0h3m1 0h13m1 0h2m4 0h5m2 0h1m6 0h11m1 0h2m3 0h1m2 0h2m2 0h2m73 0h7m1 0h8m6 0h1m1 0h1m4 0h2m2 0h4m1 0h1m1 0h4m13 0h8m6 0h2m3 0h9m9 0h1M419 362.5h1m23 0h1m42 0h1m6 0h4m1 0h2m9 0h4m2 0h6m1 0h2m2 0h1m5 0h2m3 0h3m13 0h5m1 0h3m4 0h2m1 0h3m74 0h2m1 0h4m2 0h2m1 0h4m6 0h3m1 0h10m1 0h6m11 0h1m1 0h10m5 0h3m1 0h4m1 0h4m8 0h2M433 363.5h1m55 0h1m1 0h8m6 0h1m3 0h5m2 0h1m1 0h5m7 0h1m3 0h1m4 0h1m1 0h1m11 0h3m1 0h6m4 0h1m79 0h6m2 0h8m2 0h1m1 0h1m1 0h12m1 0h2m1 0h1m1 0h1m11 0h8m2 0h4m1 0h2m1 0h8m1 0h3m1 0h1M485 364.5h1m4 0h1m1 0h6m1 0h1m1 0h1m1 0h2m1 0h1m1 0h5m1 0h2m2 0h3m1 0h3m8 0h1m5 0h2m14 0h8m3 0h1m2 0h1m79 0h31m1 0h2m2 0h1m3 0h2m1 0h2m1 0h2m1 0h1m1 0h5m2 0h9m1 0h1m1 0h9m1 0h1M483 365.5h2m1 0h1m3 0h1m2 0h5m4 0h1m1 0h2m1 0h7m5 0h6m2 0h1m1 0h2m7 0h1m1 0h2m16 0h4m88 0h14m1 0h4m1 0h1m2 0h1m1 0h5m1 0h3m1 0h2m1 0h1m1 0h4m1 0h1m2 0h5m1 0h2m2 0h6m1 0h14M316 366.5h1m127 0h1m41 0h1m3 0h5m5 0h5m1 0h8m4 0h6m1 0h1m3 0h1m2 0h1m7 0h3m11 0h1m2 0h6m87 0h1m1 0h1m1 0h1m1 0h4m1 0h3m3 0h6m1 0h1m3 0h2m2 0h5m1 0h9m1 0h5m1 0h2m1 0h7m1 0h9m1 0h4M439 367.5h1m40 0h3m3 0h8m1 0h2m2 0h17m2 0h6m2 0h1m29 0h1m1 0h5m94 0h1m1 0h3m9 0h1m2 0h2m2 0h1m1 0h8m1 0h7m2 0h6m1 0h11m1 0h9M433 368.5h1m6 0h1m38 0h1m7 0h5m1 0h1m4 0h10m1 0h6m3 0h5m1 0h1m14 0h1m14 0h1m1 0h7m1 0h1m95 0h1m12 0h1m2 0h9m3 0h9m4 0h3m2 0h10m1 0h13M447 369.5h1m20 0h1m2 0h1m1 0h1m5 0h2m6 0h7m5 0h5m4 0h9m5 0h2m1 0h2m4 0h1m9 0h1m13 0h3m1 0h1m99 0h1m16 0h1m1 0h8m1 0h4m1 0h5m1 0h2m1 0h2m2 0h11m1 0h8m1 0h3M424 370.5h1m23 0h1m19 0h1m4 0h1m1 0h1m3 0h1m6 0h5m1 0h1m8 0h1m2 0h1m1 0h10m8 0h2m4 0h1m7 0h5m11 0h5m5 0h1m87 0h1m3 0h1m15 0h1m3 0h10m3 0h1m1 0h2m1 0h2m1 0h1m1 0h1m5 0h16m1 0h2m2 0h3M423 371.5h1m18 0h1m5 0h1m15 0h4m8 0h1m10 0h1m1 0h1m1 0h1m12 0h3m1 0h5m1 0h2m8 0h1m11 0h5m1 0h1m9 0h5m93 0h1m5 0h1m1 0h2m8 0h1m7 0h12m2 0h1m2 0h3m8 0h1m2 0h14m1 0h1m1 0h5M377 372.5h1m61 0h2m8 0h1m14 0h1m1 0h1m9 0h2m8 0h2m1 0h2m18 0h5m8 0h3m7 0h1m4 0h3m3 0h1m6 0h2m1 0h4m117 0h1m4 0h2m2 0h3m2 0h1m1 0h3m12 0h7m1 0h4m2 0h9m1 0h1M405 373.5h1m33 0h1m25 0h2m8 0h1m1 0h1m9 0h1m22 0h3m22 0h3m2 0h1m7 0h1m1 0h7m93 0h6m2 0h1m18 0h4m1 0h3m2 0h2m3 0h2m2 0h3m1 0h1m6 0h5m1 0h1m2 0h3m1 0h1m1 0h6M404 374.5h1m61 0h1m3 0h1m1 0h5m2 0h1m1 0h1m4 0h2m9 0h4m7 0h2m2 0h1m16 0h1m8 0h1m9 0h1m1 0h1m1 0h5m93 0h5m27 0h3m1 0h12m2 0h1m5 0h7m4 0h1m1 0h9M438 375.5h1m8 0h1m1 0h2m18 0h1m1 0h6m1 0h1m2 0h3m1 0h1m13 0h3m1 0h1m2 0h1m1 0h2m1 0h1m13 0h1m9 0h1m2 0h1m9 0h5m94 0h3m1 0h3m3 0h1m25 0h1m1 0h6m3 0h3m2 0h1m7 0h4m1 0h1m8 0h6M449 376.5h1m16 0h3m1 0h1m3 0h4m1 0h3m1 0h2m7 0h1m4 0h1m1 0h5m6 0h1m1 0h1m1 0h1m1 0h1m10 0h1m7 0h1m11 0h2m1 0h2m96 0h1m1 0h1m1 0h6m25 0h3m1 0h3m1 0h2m1 0h3m1 0h2m6 0h8m7 0h2m1 0h2M442 377.5h1m20 0h2m1 0h3m5 0h6m3 0h4m1 0h1m8 0h2m1 0h4m1 0h1m7 0h1m16 0h1m3 0h1m1 0h3m11 0h3m92 0h4m3 0h6m3 0h1m24 0h1m1 0h1m3 0h1m2 0h3m8 0h4M429 378.5h1m8 0h1m7 0h1m1 0h1m15 0h2m1 0h3m8 0h1m5 0h2m8 0h1m2 0h6m1 0h4m18 0h1m9 0h3m4 0h1m1 0h1m2 0h1m1 0h1m94 0h12m19 0h2m9 0h4m1 0h1m1 0h1m1 0h3m4 0h1m1 0h1m1 0h6M408 379.5h1m55 0h2m5 0h1m9 0h1m2 0h1m9 0h2m4 0h3m2 0h5m5 0h1m19 0h4m8 0h3m6 0h1m89 0h6m1 0h5m9 0h2m17 0h3m1 0h2m1 0h6m3 0h1m1 0h1m1 0h7M454 380.5h1m9 0h1m1 0h1m9 0h1m25 0h1m1 0h2m3 0h1m3 0h2m1 0h3m1 0h1m8 0h2m1 0h1m3 0h2m3 0h3m101 0h2m1 0h4m1 0h3m11 0h2m7 0h1m13 0h3m1 0h4m2 0h1m1 0h1m1 0h1m1 0h7M398 381.5h1m18 0h1m19 0h1m6 0h1m19 0h1m3 0h1m7 0h1m24 0h3m3 0h1m5 0h2m1 0h1m9 0h6m6 0h1m2 0h1m4 0h3m93 0h1m1 0h2m2 0h5m1 0h3m25 0h2m1 0h1m2 0h4m7 0h1m5 0h6m3 0h1M414 382.5h1m49 0h3m21 0h1m13 0h1m1 0h3m1 0h2m3 0h1m1 0h1m12 0h3m1 0h1m6 0h1m6 0h2m1 0h1m92 0h3m1 0h5m1 0h1m1 0h2m16 0h1m10 0h1m1 0h3m2 0h2m6 0h2m2 0h1m1 0h1m1 0h1m6 0h1M443 383.5h1m42 0h3m13 0h3m1 0h3m1 0h1m3 0h5m9 0h4m13 0h1m95 0h2m3 0h10m15 0h2m2 0h2m2 0h1m2 0h5m1 0h2m1 0h1m6 0h2m1 0h3m1 0h2m8 0h1m3 0h1M415 384.5h1m26 0h1m43 0h2m8 0h1m5 0h5m1 0h1m1 0h1m3 0h5m1 0h1m4 0h4m21 0h1m92 0h2m2 0h2m1 0h1m1 0h3m18 0h1m3 0h14m7 0h6m1 0h1m1 0h1m8 0h1m1 0h2M483 385.5h3m19 0h1m7 0h4m1 0h1m7 0h4m20 0h3m93 0h10m20 0h4m1 0h5m1 0h2m5 0h1m2 0h1m1 0h5m2 0h1m11 0h1M476 386.5h1m4 0h1m1 0h1m31 0h3m8 0h1m119 0h9m19 0h14m5 0h2m5 0h2m15 0h1M411 387.5h1m22 0h1m8 0h1m29 0h1m1 0h1m32 0h1m6 0h3m127 0h10m13 0h1m4 0h10m1 0h5m4 0h1m3 0h2m4 0h1m13 0h1M169 388.5h1m13 0h1m289 0h1m5 0h3m18 0h1m7 0h1m42 0h2m89 0h2m2 0h7m15 0h19m4 0h2m1 0h1m2 0h1m4 0h1m13 0h2M171 389.5h1m235 0h1m73 0h2m2 0h1m1 0h1m1 0h1m9 0h1m39 0h1m1 0h1m2 0h1m98 0h1m2 0h6m14 0h14m1 0h2m2 0h2m6 0h1m2 0h2m4 0h1m6 0h1m2 0h1m2 0h2M168 390.5h2m24 0h1m233 0h1m45 0h1m5 0h1m6 0h1m2 0h1m18 0h1m2 0h2m27 0h1m12 0h1m87 0h1m2 0h7m15 0h15m1 0h3m1 0h1m9 0h1m5 0h1m1 0h1m1 0h4m2 0h4M166 391.5h1m8 0h2m272 0h1m26 0h1m11 0h1m17 0h1m4 0h1m1 0h1m24 0h4m2 0h1m96 0h3m1 0h1m1 0h2m1 0h1m15 0h1m1 0h14m3 0h4m7 0h1m4 0h16M165 392.5h1m1 0h1m21 0h1m285 0h1m33 0h1m26 0h1m3 0h5m121 0h1m3 0h2m1 0h6m1 0h1m3 0h3m14 0h15M167 393.5h2m20 0h1m319 0h1m28 0h4m1 0h1m127 0h4m1 0h1m3 0h1m3 0h3m6 0h1m5 0h1m1 0h14M167 394.5h1m310 0h1m32 0h1m27 0h2m1 0h1m103 0h1m18 0h1m7 0h1m1 0h1m1 0h4m1 0h1m18 0h14M329 395.5h1m173 0h1m5 0h1m30 0h1m1 0h2m14 0h1m94 0h1m11 0h1m6 0h2m1 0h1m2 0h4m1 0h1m17 0h14M156 396.5h2m171 0h1m146 0h1m26 0h1m30 0h2m2 0h1m1 0h2m1 0h1m13 0h1m97 0h1m1 0h2m15 0h1m5 0h6m15 0h13M167 397.5h1m16 0h1m308 0h1m7 0h1m33 0h5m1 0h2m2 0h1m13 0h1m76 0h1m18 0h4m17 0h8m1 0h1m1 0h1m6 0h3m5 0h11M166 398.5h1m17 0h1m316 0h1m26 0h1m2 0h1m1 0h1m4 0h2m2 0h2m1 0h1m12 0h1m72 0h5m10 0h2m2 0h2m1 0h5m1 0h1m1 0h1m12 0h1m5 0h5m1 0h2m1 0h1m7 0h2m4 0h5m1 0h3M157 399.5h1m295 0h1m1 0h3m38 0h1m4 0h2m2 0h1m21 0h1m2 0h1m1 0h2m3 0h5m1 0h1m1 0h2m12 0h1m69 0h2m1 0h4m14 0h3m1 0h5m1 0h3m6 0h2m6 0h1m4 0h3m12 0h4m2 0h6m1 0h1M155 400.5h2m30 0h1m255 0h1m83 0h1m2 0h3m2 0h4m1 0h1m2 0h4m79 0h6m1 0h5m10 0h10m1 0h4m13 0h1m1 0h1m4 0h3m2 0h1m2 0h1m1 0h6m1 0h1m1 0h7m1 0h1M159 401.5h1m1 0h1m2 0h1m15 0h1m223 0h1m53 0h1m15 0h1m56 0h2m2 0h1m1 0h3m1 0h3m1 0h1m15 0h1m61 0h13m10 0h1m2 0h4m2 0h2m2 0h3m1 0h1m12 0h1m7 0h1m2 0h1m1 0h3m1 0h1m1 0h1m3 0h1m1 0h8M160 402.5h1m243 0h1m92 0h2m7 0h1m21 0h1m1 0h2m1 0h1m1 0h2m2 0h1m2 0h6m12 0h1m58 0h11m1 0h4m1 0h1m9 0h3m1 0h4m1 0h8m4 0h1m3 0h1m6 0h1m4 0h5m2 0h1m1 0h1m3 0h1m1 0h11M166 403.5h1m197 0h1m39 0h1m57 0h1m7 0h2m56 0h1m1 0h3m1 0h2m1 0h2m1 0h1m1 0h2m1 0h1m14 0h2m54 0h1m4 0h10m1 0h1m1 0h1m6 0h1m3 0h1m1 0h1m1 0h9m1 0h5m2 0h3m1 0h3m5 0h1m4 0h6m3 0h3m1 0h7m2 0h4M161 404.5h1m10 0h1m296 0h1m1 0h3m20 0h1m6 0h1m2 0h1m27 0h1m1 0h1m1 0h1m3 0h4m1 0h3m13 0h1m46 0h1m2 0h1m1 0h1m2 0h1m4 0h9m4 0h1m4 0h2m1 0h1m2 0h1m3 0h8m1 0h10m9 0h1m2 0h2m2 0h7m1 0h1m4 0h6m3 0h2M175 405.5h1m8 0h1m215 0h1m70 0h1m17 0h1m43 0h4m4 0h2m3 0h2m12 0h3m43 0h1m5 0h1m9 0h7m3 0h1m1 0h3m1 0h1m11 0h2m1 0h3m1 0h1m1 0h10m4 0h1m1 0h1m5 0h1m1 0h11m5 0h2m5 0h1M184 406.5h1m319 0h1m17 0h3m7 0h1m1 0h9m2 0h2m13 0h2m42 0h1m1 0h1m3 0h1m2 0h1m1 0h4m3 0h1m1 0h1m3 0h3m2 0h1m1 0h1m1 0h1m5 0h2m6 0h6m3 0h8m5 0h4m1 0h17m5 0h1M522 407.5h3m7 0h2m1 0h1m2 0h5m1 0h2m11 0h1m3 0h1m41 0h1m2 0h2m1 0h1m2 0h1m2 0h3m6 0h1m3 0h1m5 0h3m13 0h3m6 0h7m1 0h1m4 0h1m1 0h6m2 0h10m8 0h1M165 408.5h1m324 0h1m9 0h2m20 0h1m2 0h1m3 0h1m2 0h1m2 0h4m2 0h1m1 0h2m13 0h1m2 0h2m46 0h1m2 0h1m7 0h1m1 0h1m5 0h1m1 0h1m9 0h1m4 0h2m1 0h6m1 0h2m3 0h8m4 0h8m1 0h11m8 0h1m1 0h1M166 409.5h1m314 0h1m13 0h2m4 0h1m23 0h1m2 0h1m1 0h2m4 0h5m3 0h1m11 0h2m2 0h3m43 0h1m3 0h1m1 0h3m3 0h2m1 0h1m2 0h1m1 0h2m2 0h1m1 0h1m4 0h3m5 0h1m4 0h4m6 0h7m4 0h1m1 0h1m1 0h5m1 0h9m1 0h2m1 0h1m4 0h1M165 410.5h1m19 0h2m300 0h1m7 0h2m4 0h1m27 0h1m5 0h1m2 0h3m7 0h3m2 0h1m1 0h2m3 0h3m2 0h1m44 0h1m7 0h3m1 0h2m1 0h1m4 0h1m14 0h2m4 0h2m1 0h1m6 0h7m2 0h1m1 0h4m3 0h12m2 0h1m3 0h1m1 0h3m2 0h1M164 411.5h2m322 0h2m5 0h1m3 0h1m26 0h2m5 0h1m4 0h4m5 0h3m1 0h2m1 0h4m1 0h1m46 0h1m2 0h3m1 0h1m3 0h1m5 0h1m2 0h2m7 0h2m7 0h4m1 0h1m5 0h3m1 0h4m2 0h3m1 0h3m1 0h1m2 0h1m1 0h2m1 0h1m1 0h1m1 0h4m1 0h1m6 0h5m1 0h1M163 412.5h1m26 0h1m216 0h1m24 0h1m54 0h1m2 0h2m42 0h1m1 0h1m2 0h3m6 0h1m1 0h1m6 0h3m40 0h1m9 0h1m3 0h1m2 0h2m5 0h1m6 0h1m3 0h1m1 0h1m5 0h5m5 0h1m1 0h1m1 0h3m1 0h2m3 0h4m2 0h1m2 0h1m4 0h1m2 0h2m1 0h3m1 0h1m1 0h1m3 0h8M157 413.5h1m4 0h2m25 0h1m293 0h1m4 0h4m1 0h1m45 0h1m7 0h1m51 0h1m4 0h1m12 0h1m5 0h1m1 0h4m1 0h1m4 0h1m1 0h1m3 0h1m1 0h4m3 0h1m5 0h8m1 0h6m5 0h1m3 0h1m5 0h2m1 0h1m5 0h1m1 0h6M158 414.5h1m29 0h2m245 0h1m47 0h2m3 0h1m1 0h1m46 0h2m60 0h2m3 0h1m2 0h1m1 0h1m1 0h1m8 0h1m3 0h3m1 0h1m2 0h1m1 0h1m1 0h1m6 0h5m1 0h1m5 0h1m3 0h11m5 0h1m20 0h8M159 415.5h1m28 0h1m246 0h1m53 0h1m47 0h3m58 0h3m1 0h1m2 0h2m5 0h2m13 0h4m1 0h4m2 0h2m2 0h5m1 0h1m11 0h7m7 0h1m13 0h1m6 0h7M490 416.5h1m48 0h1m12 0h1m45 0h2m5 0h1m1 0h1m1 0h1m2 0h5m5 0h1m2 0h1m2 0h1m5 0h2m3 0h1m4 0h2m14 0h4m1 0h2m2 0h1m1 0h1m3 0h2m10 0h1m2 0h2m1 0h3m1 0h1m1 0h3M156 417.5h1m7 0h1m3 0h2m244 0h1m15 0h1m108 0h1m8 0h1m48 0h2m1 0h2m2 0h1m1 0h1m2 0h1m1 0h1m2 0h2m1 0h2m1 0h1m1 0h1m1 0h1m5 0h1m3 0h1m1 0h1m3 0h1m2 0h4m8 0h1m3 0h1m1 0h5m1 0h1m1 0h1m1 0h1m5 0h1m11 0h3m3 0h2m3 0h1M156 418.5h1m3 0h1m8 0h1m113 0h1m128 0h1m20 0h1m106 0h1m6 0h2m1 0h2m19 0h1m25 0h4m3 0h1m2 0h3m7 0h2m1 0h4m2 0h4m7 0h2m1 0h1m3 0h2m2 0h2m2 0h1m9 0h5m15 0h1m7 0h1m1 0h2m2 0h1m2 0h1M156 419.5h1m256 0h1m25 0h1m95 0h1m2 0h2m7 0h3m1 0h1m19 0h1m24 0h5m12 0h1m3 0h1m1 0h1m1 0h3m3 0h1m1 0h1m9 0h2m5 0h2m3 0h3m5 0h5m17 0h1m3 0h2m3 0h8M154 420.5h4m328 0h1m58 0h3m1 0h2m12 0h1m1 0h2m5 0h1m2 0h1m20 0h3m8 0h2m4 0h3m1 0h1m1 0h3m6 0h1m2 0h2m16 0h5m6 0h1m1 0h1m2 0h1m2 0h2m11 0h1m1 0h1m5 0h7m2 0h1M157 421.5h1m12 0h1m364 0h2m5 0h1m3 0h1m2 0h1m1 0h1m11 0h1m2 0h1m3 0h2m3 0h3m18 0h4m4 0h5m5 0h2m4 0h3m4 0h1m6 0h1m5 0h1m8 0h4m8 0h1m8 0h1m13 0h1m5 0h4m4 0h1M152 422.5h1m7 0h1m373 0h1m1 0h1m3 0h6m1 0h1m1 0h1m2 0h1m10 0h4m2 0h1m6 0h2m1 0h1m15 0h5m5 0h2m2 0h1m1 0h3m2 0h2m1 0h1m1 0h2m4 0h1m7 0h1m11 0h2m1 0h3m5 0h1m3 0h3m5 0h1m1 0h1m10 0h2m2 0h7m3 0h1M159 423.5h1m5 0h1m367 0h2m3 0h1m2 0h4m1 0h1m1 0h2m1 0h3m4 0h1m6 0h6m5 0h3m1 0h2m12 0h5m1 0h1m1 0h1m7 0h1m3 0h1m7 0h4m2 0h1m1 0h1m1 0h4m9 0h1m5 0h1m9 0h3m4 0h1m1 0h1m1 0h1m9 0h8m2 0h1m1 0h1M153 424.5h1m1 0h1m6 0h1m1 0h1m335 0h1m11 0h1m21 0h1m4 0h1m4 0h1m1 0h4m1 0h1m13 0h5m2 0h1m3 0h4m1 0h3m10 0h7m3 0h1m8 0h1m6 0h7m6 0h2m2 0h1m13 0h5m2 0h2m2 0h3m6 0h1m1 0h1m7 0h11m1 0h1m2 0h1M158 425.5h1m3 0h2m18 0h1m312 0h1m14 0h1m3 0h1m14 0h1m8 0h1m4 0h1m2 0h1m1 0h1m3 0h1m1 0h2m1 0h1m1 0h1m6 0h6m3 0h7m1 0h2m2 0h1m3 0h1m4 0h5m2 0h3m2 0h1m7 0h2m1 0h2m1 0h8m2 0h1m4 0h1m4 0h1m8 0h2m1 0h2m2 0h6m5 0h6m2 0h4m4 0h2m1 0h4m3 0h1M159 426.5h1m1 0h1m25 0h1m86 0h1m239 0h2m11 0h2m12 0h1m5 0h1m2 0h2m1 0h3m10 0h5m5 0h6m1 0h1m1 0h3m1 0h1m4 0h8m2 0h2m2 0h1m6 0h1m1 0h1m3 0h1m1 0h4m2 0h1m11 0h1m1 0h1m6 0h2m2 0h2m1 0h1m1 0h4m1 0h1m3 0h8m2 0h4m1 0h4m3 0h1m1 0h1m2 0h1M187 427.5h1m322 0h1m3 0h1m26 0h2m3 0h3m1 0h1m1 0h4m15 0h2m1 0h4m1 0h3m1 0h4m2 0h1m3 0h2m2 0h8m1 0h1m1 0h4m3 0h5m1 0h1m2 0h5m2 0h2m2 0h3m3 0h1m7 0h4m1 0h2m1 0h1m1 0h1m1 0h1m6 0h10m1 0h1m2 0h1m1 0h1m1 0h1m5 0h1M186 428.5h1m1 0h1m134 0h1m33 0h1m153 0h1m4 0h1m25 0h1m2 0h6m2 0h1m13 0h2m3 0h1m1 0h5m2 0h1m8 0h1m1 0h3m1 0h8m2 0h1m8 0h1m2 0h4m4 0h2m1 0h1m2 0h1m3 0h1m13 0h6m1 0h1m1 0h1m1 0h3m2 0h4m1 0h7m1 0h2m9 0h1m2 0h1M187 429.5h1m342 0h1m16 0h5m2 0h1m14 0h1m1 0h2m2 0h1m3 0h2m1 0h1m3 0h1m3 0h2m1 0h3m1 0h1m1 0h4m1 0h4m1 0h1m4 0h1m1 0h1m1 0h5m1 0h1m1 0h4m3 0h1m2 0h2m11 0h7m7 0h3m1 0h16m3 0h1m1 0h1m2 0h3M180 430.5h1m334 0h1m22 0h1m4 0h1m2 0h1m5 0h2m6 0h1m8 0h3m1 0h1m5 0h2m2 0h2m4 0h2m2 0h1m2 0h3m1 0h1m1 0h1m1 0h7m1 0h2m1 0h2m1 0h5m3 0h3m4 0h1m16 0h3m8 0h1m1 0h2m3 0h2m2 0h1m1 0h7m1 0h1m9 0h2M177 431.5h1m1 0h1m2 0h1m356 0h1m3 0h2m2 0h3m3 0h1m13 0h3m11 0h1m9 0h1m2 0h5m2 0h1m2 0h14m1 0h7m3 0h1m2 0h1m5 0h1m6 0h9m1 0h2m4 0h4m2 0h3m1 0h1m1 0h10m2 0h1m6 0h1M179 432.5h2m13 0h1m26 0h1m317 0h1m3 0h2m3 0h1m1 0h1m17 0h4m9 0h2m1 0h1m5 0h1m2 0h1m1 0h6m2 0h2m1 0h9m2 0h1m4 0h1m2 0h1m1 0h1m5 0h1m12 0h2m1 0h9m4 0h3m1 0h20m5 0h1M179 433.5h1m10 0h1m3 0h1m24 0h1m1 0h1m226 0h1m33 0h1m18 0h1m19 0h1m24 0h1m2 0h1m17 0h1m1 0h3m20 0h1m1 0h9m2 0h1m1 0h8m8 0h5m3 0h3m11 0h8m2 0h4m2 0h1m1 0h24m2 0h2M185 434.5h1m7 0h1m27 0h1m267 0h1m11 0h2m17 0h1m39 0h2m6 0h1m1 0h1m24 0h1m1 0h3m8 0h6m1 0h2m5 0h4m4 0h1m9 0h1m2 0h1m1 0h10m1 0h7m2 0h3m1 0h2m1 0h3m1 0h10m1 0h2M190 435.5h1m17 0h1m7 0h1m231 0h1m70 0h1m41 0h1m33 0h1m1 0h3m5 0h1m3 0h5m1 0h1m4 0h1m1 0h3m5 0h1m1 0h4m3 0h2m1 0h1m1 0h18m3 0h5m2 0h3m1 0h13M192 436.5h1m2 0h1m11 0h3m28 0h1m247 0h1m13 0h1m23 0h2m72 0h3m3 0h1m2 0h1m1 0h4m7 0h3m5 0h1m1 0h1m2 0h4m2 0h5m1 0h2m1 0h10m1 0h1m3 0h7m6 0h11M195 437.5h1m13 0h1m275 0h1m5 0h3m5 0h1m13 0h1m12 0h1m5 0h1m28 0h1m35 0h1m6 0h1m3 0h4m16 0h10m1 0h11m1 0h4m2 0h11m1 0h1m6 0h11M252 438.5h1m219 0h1m10 0h1m1 0h1m4 0h1m5 0h1m29 0h4m2 0h1m52 0h1m2 0h1m10 0h1m6 0h9m16 0h18m2 0h4m3 0h2m1 0h5m1 0h2m2 0h1m5 0h9M238 439.5h1m234 0h1m10 0h1m5 0h1m39 0h2m53 0h1m19 0h8m2 0h2m3 0h1m2 0h1m2 0h1m3 0h2m2 0h10m1 0h1m2 0h1m1 0h6m4 0h1m4 0h4m3 0h4m2 0h7M201 440.5h1m55 0h1m147 0h1m68 0h1m7 0h1m37 0h1m9 0h2m56 0h1m3 0h3m12 0h3m1 0h1m4 0h4m2 0h1m3 0h1m4 0h4m1 0h10m1 0h2m3 0h3m1 0h5m1 0h2m1 0h3m8 0h2m2 0h4M235 441.5h1m206 0h1m31 0h1m4 0h1m11 0h1m29 0h1m8 0h2m23 0h3m32 0h2m1 0h1m1 0h1m12 0h1m2 0h2m3 0h1m1 0h1m1 0h1m8 0h2m3 0h9m1 0h1m1 0h2m3 0h11m1 0h4m11 0h1m1 0h3M178 442.5h1m263 0h1m31 0h1m4 0h2m9 0h1m1 0h1m61 0h1m1 0h1m31 0h2m1 0h1m5 0h1m11 0h4m7 0h1m8 0h2m3 0h7m1 0h1m2 0h1m4 0h1m1 0h3m1 0h2m1 0h4m1 0h1m1 0h1m14 0h1M178 443.5h1m293 0h1m30 0h1m7 0h1m18 0h1m13 0h1m9 0h5m10 0h3m18 0h2m4 0h1m9 0h1m8 0h1m3 0h1m4 0h1m3 0h1m1 0h12m9 0h1m1 0h5m1 0h1m1 0h1m4 0h2M234 444.5h1m237 0h1m17 0h1m20 0h1m6 0h1m11 0h2m1 0h5m8 0h1m8 0h3m14 0h1m23 0h1m1 0h1m16 0h2m11 0h1m1 0h7m1 0h2m11 0h3m13 0h1M472 445.5h1m31 0h1m1 0h1m22 0h1m1 0h2m1 0h1m8 0h1m1 0h2m6 0h5m36 0h1m24 0h1m3 0h1m1 0h13m1 0h1m11 0h1m3 0h1m7 0h1m1 0h1M229 446.5h1m24 0h2m245 0h1m27 0h4m1 0h1m1 0h3m2 0h1m2 0h1m10 0h1m1 0h1m28 0h1m8 0h1m12 0h1m5 0h1m3 0h1m4 0h2m1 0h3m2 0h7m1 0h3m7 0h2m4 0h1m4 0h8M231 447.5h1m31 0h1m188 0h1m55 0h2m12 0h1m2 0h1m2 0h5m4 0h2m1 0h1m2 0h2m9 0h8m22 0h2m11 0h1m24 0h2m2 0h1m4 0h7m1 0h2m15 0h2m3 0h8M169 448.5h1m360 0h1m2 0h2m2 0h1m3 0h4m7 0h6m1 0h1m16 0h1m7 0h3m7 0h1m1 0h1m2 0h1m8 0h1m2 0h2m8 0h4m1 0h1m1 0h1m3 0h12m4 0h7m1 0h1m3 0h8M168 449.5h2m21 0h1m334 0h1m7 0h2m6 0h1m1 0h1m6 0h2m1 0h3m1 0h1m5 0h2m10 0h7m1 0h4m5 0h1m1 0h3m8 0h2m4 0h1m1 0h1m6 0h3m2 0h10m2 0h2m1 0h3m1 0h1m1 0h4m1 0h1m1 0h4m3 0h5M168 450.5h1m18 0h1m68 0h2m238 0h1m8 0h1m5 0h2m21 0h1m15 0h3m1 0h2m2 0h1m7 0h2m10 0h3m1 0h2m1 0h1m2 0h1m2 0h1m6 0h2m4 0h7m3 0h1m5 0h5m1 0h1m1 0h8m1 0h2m4 0h4m1 0h3m1 0h1m1 0h1m1 0h2m1 0h1m3 0h4M184 451.5h2m2 0h1m1 0h2m1 0h1m168 0h1m133 0h1m13 0h1m23 0h1m1 0h2m16 0h4m1 0h1m2 0h1m3 0h1m8 0h4m2 0h1m1 0h1m1 0h2m6 0h3m1 0h2m3 0h10m7 0h4m1 0h12m1 0h2m3 0h12m1 0h3m1 0h2m2 0h4m4 0h1M173 452.5h2m8 0h3m1 0h1m3 0h1m1 0h2m55 0h1m246 0h3m12 0h1m11 0h1m27 0h1m4 0h2m19 0h2m1 0h1m3 0h2m4 0h2m1 0h2m1 0h2m3 0h1m1 0h6m1 0h4m6 0h15m1 0h1m1 0h1m2 0h9m1 0h14m1 0h1m2 0h1M176 453.5h1m5 0h3m3 0h1m1 0h1m59 0h1m136 0h1m75 0h1m2 0h1m30 0h2m1 0h1m13 0h1m37 0h1m2 0h2m3 0h1m2 0h2m1 0h2m7 0h2m1 0h1m1 0h1m5 0h1m1 0h5m1 0h2m1 0h8m2 0h5m9 0h2m2 0h1m1 0h11m4 0h11m2 0h6m1 0h1m1 0h1m1 0h3M173 454.5h1m2 0h1m4 0h1m1 0h4m1 0h1m1 0h1m264 0h1m35 0h1m7 0h2m14 0h1m33 0h1m5 0h2m1 0h3m1 0h3m9 0h1m14 0h2m2 0h1m4 0h2m2 0h4m1 0h5m9 0h1m4 0h8m1 0h1m6 0h10m5 0h3m1 0h4M172 455.5h1m7 0h1m4 0h3m1 0h1m2 0h1m41 0h1m110 0h1m106 0h1m11 0h1m56 0h2m27 0h1m1 0h2m1 0h11m1 0h1m4 0h2m11 0h1m1 0h3m6 0h1m1 0h6m1 0h1m1 0h5m15 0h2m1 0h6m7 0h3m1 0h1m7 0h2m1 0h1m1 0h1m2 0h1M180 456.5h3m3 0h1m1 0h3m13 0h1m2 0h1m5 0h1m2 0h1m35 0h1m214 0h1m84 0h4m3 0h2m1 0h4m3 0h3m18 0h5m3 0h8m1 0h2m1 0h2m16 0h1m4 0h1m8 0h2m3 0h1M179 457.5h2m1 0h3m2 0h4m13 0h1m4 0h1m1 0h3m87 0h1m129 0h2m29 0h1m92 0h1m1 0h5m1 0h3m6 0h1m14 0h3m1 0h4m1 0h1m2 0h10m2 0h1m2 0h1m2 0h1m17 0h1m7 0h1m2 0h3M180 458.5h4m1 0h2m2 0h1m12 0h1m1 0h2m1 0h2m44 0h1m1 0h1m240 0h1m60 0h1m1 0h1m1 0h3m3 0h2m1 0h1m11 0h1m1 0h2m2 0h10m1 0h8m1 0h1m4 0h1m1 0h1m8 0h1m22 0h1M178 459.5h3m1 0h2m1 0h3m12 0h2m2 0h2m3 0h2m9 0h1m1 0h2m35 0h1m72 0h1m223 0h1m1 0h2m2 0h1m3 0h3m2 0h2m6 0h3m1 0h3m5 0h5m1 0h1m1 0h8m1 0h1m2 0h3m8 0h1m1 0h2m19 0h3m12 0h1M182 460.5h8m9 0h3m2 0h2m1 0h5m9 0h3m28 0h1m6 0h2m170 0h1m63 0h1m3 0h1m26 0h1m29 0h2m2 0h1m4 0h3m1 0h3m7 0h2m1 0h7m1 0h7m2 0h7m1 0h1m3 0h1m10 0h1m5 0h1m8 0h1m9 0h1m2 0h4M181 461.5h3m1 0h2m2 0h2m7 0h1m1 0h2m1 0h1m1 0h3m6 0h1m9 0h1m28 0h1m2 0h2m173 0h1m62 0h1m1 0h1m11 0h1m47 0h4m6 0h1m1 0h3m11 0h7m1 0h7m2 0h3m1 0h10m13 0h2m10 0h1m9 0h2m2 0h3M183 462.5h2m5 0h1m9 0h1m1 0h1m3 0h4m3 0h2m232 0h1m41 0h1m3 0h1m27 0h1m16 0h1m1 0h1m16 0h4m3 0h1m2 0h1m3 0h1m7 0h1m3 0h4m2 0h1m1 0h16m1 0h4m36 0h7M187 463.5h1m9 0h1m1 0h2m1 0h1m1 0h1m1 0h1m3 0h1m19 0h1m200 0h1m29 0h2m29 0h1m1 0h1m1 0h1m12 0h1m25 0h2m3 0h1m14 0h1m2 0h1m5 0h1m2 0h2m7 0h5m2 0h3m1 0h1m1 0h3m1 0h3m1 0h1m1 0h1m1 0h9m16 0h1m10 0h1m6 0h1m3 0h8M182 464.5h1m3 0h1m14 0h3m1 0h4m1 0h2m18 0h1m234 0h1m24 0h4m2 0h1m1 0h1m9 0h1m30 0h1m15 0h1m1 0h4m1 0h2m2 0h1m1 0h3m1 0h1m2 0h5m3 0h1m3 0h1m1 0h1m2 0h4m3 0h5m2 0h4m14 0h2m1 0h2m14 0h1m2 0h1m1 0h7M179 465.5h1m2 0h4m15 0h4m1 0h4m217 0h2m63 0h1m4 0h1m1 0h1m8 0h1m1 0h1m23 0h1m1 0h2m3 0h1m13 0h1m1 0h5m3 0h7m3 0h1m1 0h3m1 0h1m4 0h1m1 0h1m2 0h3m7 0h10m1 0h1m11 0h1m1 0h5m10 0h1m1 0h3m3 0h4M179 466.5h1m2 0h2m13 0h1m2 0h1m1 0h7m218 0h1m1 0h1m33 0h1m30 0h1m4 0h1m4 0h1m4 0h1m12 0h2m2 0h1m3 0h3m5 0h5m3 0h1m6 0h1m1 0h7m1 0h6m1 0h2m2 0h1m2 0h2m1 0h1m2 0h1m3 0h1m2 0h4m5 0h12m11 0h3m3 0h4m17 0h3M183 467.5h1m12 0h1m1 0h2m3 0h2m1 0h2m166 0h1m42 0h1m50 0h1m23 0h2m6 0h1m9 0h1m4 0h1m1 0h1m2 0h1m11 0h1m4 0h1m1 0h3m1 0h1m1 0h5m1 0h1m2 0h1m2 0h4m1 0h1m1 0h1m1 0h1m2 0h1m1 0h2m2 0h2m1 0h1m3 0h2m1 0h2m1 0h1m1 0h3m9 0h1m1 0h6m1 0h2m10 0h2m2 0h1m1 0h1m1 0h1m11 0h1m2 0h1m1 0h3M180 468.5h1m5 0h1m10 0h1m1 0h8m257 0h1m34 0h2m17 0h1m12 0h3m1 0h6m3 0h1m1 0h6m2 0h1m1 0h3m6 0h4m1 0h5m3 0h1m4 0h3m1 0h2m1 0h2m1 0h1m7 0h10m1 0h1m13 0h10M184 469.5h3m12 0h1m1 0h6m6 0h1m22 0h1m9 0h1m195 0h1m2 0h1m46 0h1m13 0h1m12 0h1m11 0h1m6 0h4m1 0h1m1 0h18m1 0h2m1 0h1m1 0h2m2 0h3m4 0h1m1 0h5m2 0h1m1 0h4m7 0h5m1 0h8m2 0h1m2 0h2m2 0h1m1 0h5m1 0h1M185 470.5h1m1 0h2m12 0h6m3 0h1m3 0h3m1 0h2m13 0h1m7 0h1m30 0h1m170 0h1m21 0h1m40 0h1m15 0h1m1 0h2m6 0h1m4 0h4m1 0h6m1 0h14m2 0h2m2 0h1m4 0h2m1 0h1m4 0h1m1 0h3m5 0h1m1 0h1m5 0h1m1 0h10m1 0h7m2 0h12m11 0h1M184 471.5h6m10 0h3m1 0h5m1 0h1m1 0h4m1 0h2m1 0h1m5 0h1m2 0h2m2 0h1m38 0h1m171 0h1m58 0h1m20 0h1m3 0h2m6 0h1m1 0h6m1 0h15m1 0h2m1 0h1m1 0h1m2 0h2m5 0h1m3 0h1m3 0h1m1 0h2m2 0h6m4 0h3m1 0h7m2 0h21m8 0h1M184 472.5h2m2 0h2m11 0h2m1 0h3m2 0h1m2 0h4m1 0h2m2 0h1m6 0h1m14 0h1m2 0h1m23 0h3m193 0h1m32 0h1m23 0h1m1 0h3m1 0h1m7 0h1m2 0h1m2 0h4m2 0h1m1 0h2m2 0h9m1 0h1m3 0h2m6 0h2m5 0h1m7 0h3m2 0h3m3 0h3m1 0h5m1 0h20m1 0h1m8 0h1M183 473.5h1m1 0h5m13 0h2m2 0h3m3 0h1m1 0h1m1 0h1m2 0h2m3 0h2m3 0h1m4 0h1m223 0h1m65 0h1m1 0h2m6 0h2m4 0h1m1 0h2m2 0h5m2 0h10m5 0h1m8 0h1m10 0h1m2 0h1m1 0h2m1 0h8m1 0h5m2 0h2m2 0h2m1 0h6m1 0h3m1 0h2M182 474.5h3m1 0h5m12 0h1m3 0h2m3 0h2m2 0h2m2 0h2m3 0h1m2 0h4m235 0h1m8 0h1m2 0h1m39 0h1m21 0h1m1 0h9m3 0h11m14 0h2m8 0h1m2 0h3m2 0h4m1 0h6m5 0h2m4 0h2m2 0h5m1 0h4m1 0h1M184 475.5h1m1 0h5m17 0h1m3 0h1m3 0h1m3 0h1m3 0h2m8 0h1m241 0h1m50 0h1m12 0h1m1 0h10m4 0h5m1 0h1m1 0h2m5 0h1m9 0h2m1 0h1m3 0h1m1 0h1m2 0h1m1 0h2m1 0h4m2 0h3m1 0h1m10 0h1m1 0h1m1 0h1m1 0h4m2 0h3m1 0h3m1 0h1M182 476.5h6m1 0h1m15 0h1m2 0h1m3 0h1m3 0h2m2 0h5m1 0h1m249 0h3m58 0h2m1 0h6m1 0h2m6 0h7m2 0h1m17 0h5m1 0h1m1 0h6m1 0h2m1 0h7m1 0h1m14 0h7m1 0h5m2 0h2M183 477.5h4m4 0h1m21 0h1m5 0h1m5 0h2m241 0h1m67 0h1m2 0h6m3 0h1m8 0h1m7 0h1m1 0h2m7 0h1m4 0h1m3 0h3m2 0h1m2 0h1m5 0h6m1 0h3m10 0h1m2 0h2m1 0h5m1 0h4m2 0h2M183 478.5h7m26 0h1m1 0h1m23 0h1m227 0h1m2 0h1m2 0h1m54 0h3m4 0h2m1 0h2m24 0h2m16 0h2m1 0h3m3 0h1m5 0h3m1 0h1m16 0h1m1 0h15M184 479.5h6m9 0h1m2 0h1m13 0h1m251 0h1m57 0h1m4 0h1m4 0h1m2 0h1m1 0h2m24 0h4m12 0h3m2 0h2m6 0h2m2 0h2m1 0h1m14 0h1m2 0h2m1 0h12m1 0h1M184 480.5h4m1 0h1m10 0h1m4 0h1m10 0h1m219 0h1m74 0h1m17 0h1m10 0h1m1 0h1m2 0h1m20 0h5m1 0h1m3 0h1m1 0h1m1 0h1m5 0h1m13 0h2m7 0h4m6 0h1m1 0h3m5 0h5m2 0h1M183 481.5h3m2 0h1m11 0h2m2 0h1m1 0h1m21 0h1m13 0h1m225 0h1m2 0h1m7 0h2m30 0h1m26 0h1m3 0h2m7 0h1m16 0h6m6 0h1m4 0h4m1 0h3m1 0h1m6 0h1m1 0h1m8 0h1m2 0h1m4 0h3m6 0h3m1 0h1M183 482.5h1m1 0h5m8 0h3m2 0h4m36 0h1m187 0h1m36 0h1m11 0h2m30 0h1m10 0h1m6 0h2m8 0h1m2 0h1m20 0h1m2 0h8m6 0h1m4 0h1m3 0h1m1 0h3m15 0h4m1 0h2m1 0h1m2 0h1m7 0h2m2 0h1M183 483.5h3m2 0h4m6 0h1m2 0h1m2 0h1m10 0h1m234 0h1m3 0h1m53 0h3m3 0h1m1 0h1m6 0h1m8 0h1m2 0h1m4 0h2m6 0h2m15 0h1m1 0h8m5 0h2m1 0h1m1 0h2m3 0h6m7 0h2m5 0h4m1 0h1m1 0h2m1 0h1m7 0h5M184 484.5h2m1 0h1m12 0h4m98 0h1m137 0h2m8 0h1m6 0h1m20 0h1m2 0h1m27 0h1m5 0h2m1 0h1m10 0h1m11 0h1m7 0h1m2 0h1m5 0h1m4 0h1m2 0h11m4 0h6m1 0h1m1 0h6m6 0h3m2 0h2m1 0h6m3 0h1m7 0h6M184 485.5h1m11 0h1m5 0h2m237 0h1m29 0h1m6 0h1m2 0h1m26 0h1m1 0h2m1 0h1m2 0h6m21 0h1m2 0h1m20 0h10m1 0h3m1 0h8m1 0h8m3 0h9m1 0h1m1 0h1m2 0h3m8 0h4M185 486.5h1m11 0h1m3 0h1m13 0h1m169 0h1m50 0h1m43 0h2m25 0h3m1 0h1m1 0h1m1 0h1m1 0h1m2 0h1m1 0h1m13 0h1m7 0h1m3 0h3m17 0h8m2 0h12m2 0h7m1 0h3m2 0h2m2 0h5m4 0h4m4 0h2m1 0h2M185 487.5h1m10 0h1m1 0h3m303 0h1m1 0h1m5 0h1m1 0h2m1 0h2m1 0h1m1 0h1m12 0h2m7 0h1m5 0h1m2 0h1m8 0h2m2 0h2m2 0h6m2 0h2m2 0h10m1 0h10m1 0h4m3 0h1m1 0h1m5 0h1m8 0h2M184 488.5h3m10 0h1m1 0h1m42 0h1m192 0h1m5 0h1m17 0h1m43 0h1m2 0h1m3 0h2m1 0h7m2 0h2m27 0h1m10 0h1m7 0h1m1 0h3m2 0h4m1 0h10m1 0h14m1 0h6m4 0h1m4 0h2m1 0h3M185 489.5h1m11 0h4m34 0h1m199 0h1m14 0h1m11 0h1m42 0h1m8 0h3m1 0h1m6 0h1m1 0h1m18 0h3m1 0h1m1 0h1m2 0h2m8 0h2m1 0h1m3 0h4m1 0h5m1 0h8m1 0h2m1 0h8m1 0h5m1 0h3m10 0h1m1 0h1m1 0h1M196 490.5h2m1 0h1m21 0h1m35 0h1m253 0h2m2 0h2m2 0h2m16 0h1m8 0h1m8 0h2m4 0h1m1 0h1m4 0h1m2 0h2m2 0h1m1 0h6m1 0h5m1 0h1m3 0h1m1 0h13m1 0h3m10 0h3m1 0h1M197 491.5h1m1 0h2m19 0h1m35 0h1m80 0h1m98 0h1m78 0h1m5 0h1m19 0h1m4 0h1m1 0h1m2 0h1m2 0h2m5 0h1m1 0h3m2 0h1m2 0h2m2 0h1m1 0h1m4 0h1m2 0h2m1 0h1m5 0h5m2 0h1m1 0h5m2 0h1m1 0h1m10 0h2M198 492.5h1m2 0h3m4 0h1m11 0h2m2 0h1m8 0h1m149 0h1m89 0h1m1 0h1m40 0h1m4 0h1m1 0h1m10 0h2m27 0h3m1 0h2m4 0h1m3 0h1m7 0h2m4 0h1m4 0h3m1 0h5m1 0h2m2 0h1m12 0h1m1 0h1M185 493.5h1m11 0h4m7 0h2m2 0h2m7 0h1m2 0h2m231 0h1m8 0h1m72 0h1m15 0h3m7 0h2m1 0h2m2 0h4m2 0h1m8 0h2m6 0h2m2 0h3m1 0h1m1 0h1m3 0h2m10 0h3M195 494.5h6m2 0h1m3 0h8m17 0h1m23 0h1m70 0h1m147 0h1m40 0h1m17 0h1m4 0h1m13 0h2m1 0h1m7 0h2m2 0h1m5 0h2m3 0h2m3 0h2m6 0h3m1 0h2m3 0h1m7 0h1M195 495.5h1m1 0h3m1 0h1m1 0h1m1 0h6m1 0h2m1 0h1m4 0h1m3 0h1m1 0h1m120 0h1m109 0h1m59 0h1m22 0h1m11 0h1m2 0h2m8 0h2m4 0h3m7 0h1m2 0h4m3 0h8m3 0h2M193 496.5h4m1 0h5m1 0h6m2 0h3m9 0h2m3 0h1m22 0h1m203 0h1m16 0h1m77 0h1m1 0h1m3 0h1m2 0h3m22 0h2m2 0h1m2 0h5m2 0h1m3 0h1M193 497.5h4m2 0h2m1 0h6m1 0h2m2 0h1m10 0h1m252 0h1m80 0h5m1 0h2m13 0h2m4 0h2m4 0h7m3 0h4M188 498.5h1m1 0h2m1 0h9m1 0h3m1 0h1m1 0h4m2 0h1m29 0h1m2 0h2m219 0h2m4 0h1m62 0h2m5 0h1m5 0h2m3 0h6m3 0h1m7 0h1m9 0h1m3 0h1m1 0h10m3 0h1m1 0h1M187 499.5h1m3 0h1m2 0h4m2 0h3m3 0h2m1 0h6m5 0h1m194 0h1m60 0h1m55 0h1m6 0h1m1 0h1m1 0h1m1 0h1m5 0h1m6 0h7m22 0h2m2 0h4m2 0h1m5 0h2m3 0h1M188 500.5h1m2 0h1m1 0h7m1 0h1m1 0h3m1 0h6m1 0h1m6 0h1m1 0h2m1 0h1m3 0h1m177 0h1m6 0h1m60 0h1m56 0h2m3 0h3m2 0h3m8 0h1m2 0h7m2 0h1m12 0h2m1 0h2m3 0h3m1 0h8m3 0h1m1 0h5m3 0h3M187 501.5h1m7 0h3m5 0h1m2 0h1m2 0h4m11 0h2m20 0h1m161 0h1m6 0h2m116 0h7m3 0h3m3 0h1m5 0h1m1 0h7m1 0h3m1 0h1m16 0h1m3 0h8m4 0h9m1 0h1M199 502.5h5m1 0h7m9 0h2m300 0h1m1 0h1m9 0h3m10 0h1m1 0h1m3 0h1m1 0h8m2 0h1m9 0h1m7 0h1m7 0h6m3 0h1m2 0h1m1 0h7M197 503.5h2m2 0h6m1 0h3m1 0h2m6 0h6m2 0h2m186 0h1m47 0h1m17 0h1m9 0h1m34 0h1m5 0h7m7 0h1m1 0h1m5 0h11m3 0h1m14 0h1m8 0h1m1 0h12m1 0h4M200 504.5h1m2 0h4m4 0h1m1 0h1m10 0h2m1 0h1m231 0h1m4 0h1m7 0h1m9 0h2m9 0h2m2 0h1m9 0h3m16 0h1m2 0h1m7 0h1m12 0h1m5 0h10m7 0h1m2 0h2m1 0h2m14 0h3m1 0h11M203 505.5h1m1 0h3m1 0h6m5 0h1m2 0h2m21 0h1m236 0h1m11 0h3m9 0h1m19 0h1m2 0h3m3 0h2m20 0h7m9 0h1m2 0h5m13 0h10m1 0h3M196 506.5h1m4 0h1m3 0h2m2 0h3m1 0h1m34 0h1m188 0h1m5 0h1m37 0h1m1 0h1m4 0h1m6 0h1m2 0h1m3 0h1m2 0h2m3 0h2m14 0h1m1 0h3m3 0h1m2 0h2m21 0h1m1 0h1m2 0h2m9 0h5m14 0h4m1 0h3m1 0h1m1 0h2M200 507.5h1m1 0h1m1 0h2m12 0h1m26 0h1m219 0h1m18 0h1m15 0h1m3 0h1m20 0h2m1 0h1m1 0h1m1 0h1m1 0h2m16 0h1m7 0h3m9 0h2m4 0h2m1 0h1m3 0h2m7 0h3m1 0h8M185 508.5h1m13 0h2m1 0h2m1 0h1m36 0h1m1 0h1m23 0h1m216 0h1m13 0h2m21 0h4m1 0h3m1 0h1m1 0h2m26 0h1m1 0h1m9 0h1m8 0h1m1 0h3m2 0h2m4 0h1m1 0h2m3 0h3M196 509.5h1m2 0h2m4 0h1m36 0h1m192 0h1m30 0h1m33 0h2m22 0h7m1 0h2m30 0h2m13 0h1m3 0h1m2 0h2m1 0h1m6 0h1m1 0h2m1 0h1M196 510.5h3m1 0h2m37 0h1m2 0h1m280 0h4m1 0h4m1 0h3m26 0h1m1 0h2m3 0h1m4 0h1m2 0h5m2 0h2m3 0h1m4 0h1m1 0h1m1 0h4M187 511.5h1m8 0h2m4 0h1m228 0h1m11 0h1m70 0h1m7 0h1m1 0h2m1 0h2m4 0h1m29 0h1m11 0h1m2 0h3m1 0h1m2 0h1m3 0h1m2 0h1m1 0h1m1 0h2M171 512.5h1m13 0h1m17 0h1m2 0h1m37 0h2m277 0h1m2 0h3m1 0h1m6 0h1m25 0h1m14 0h4m9 0h1m2 0h2M173 513.5h1m3 0h1m19 0h5m41 0h2m198 0h1m75 0h2m1 0h1m2 0h4m1 0h1m5 0h1m35 0h2m4 0h5m1 0h1m5 0h1m1 0h2M166 514.5h2m4 0h8m1 0h1m18 0h1m2 0h2m244 0h1m67 0h2m3 0h1m3 0h2m1 0h3m4 0h2m16 0h4m14 0h2m4 0h3m1 0h1m2 0h1m2 0h1m2 0h1m1 0h2M166 515.5h1m5 0h1m3 0h5m25 0h1m28 0h2m6 0h1m193 0h1m10 0h2m43 0h2m21 0h1m8 0h5m25 0h4m13 0h1m2 0h1m2 0h1m1 0h4m3 0h3m2 0h2M172 516.5h2m3 0h5m54 0h2m5 0h1m248 0h1m1 0h1m12 0h1m10 0h1m4 0h1m4 0h1m1 0h1m1 0h2m3 0h1m12 0h1m2 0h1m2 0h2m2 0h2m11 0h1m1 0h1m1 0h1m13 0h1M166 517.5h1m6 0h3m1 0h2m1 0h1m18 0h1m39 0h1m267 0h1m12 0h1m5 0h3m2 0h2m6 0h1m13 0h1m1 0h1m1 0h2m1 0h4m9 0h5m2 0h1m2 0h1m1 0h1M173 518.5h4m1 0h3m252 0h1m84 0h2m6 0h2m3 0h2m6 0h7m3 0h1m2 0h2m1 0h1m4 0h1m1 0h1m1 0h1m7 0h1m2 0h1m1 0h1m3 0h1m2 0h1M170 519.5h1m2 0h5m7 0h1m5 0h1m8 0h1m256 0h1m28 0h1m5 0h1m22 0h1m1 0h1m5 0h1m1 0h2m2 0h1m2 0h1m6 0h1m1 0h4m1 0h1m6 0h3m3 0h4m2 0h1m4 0h3m2 0h2m6 0h1M166 520.5h1m1 0h1m4 0h8m8 0h2m8 0h1m231 0h1m84 0h2m5 0h3m1 0h1m12 0h1m1 0h4m6 0h2m1 0h3m1 0h5m5 0h1m11 0h1m2 0h1M166 521.5h2m5 0h8m5 0h1m2 0h2m5 0h1m303 0h4m14 0h1m7 0h1m4 0h1m6 0h4m1 0h2m1 0h2m3 0h1m1 0h3m1 0h5m1 0h3m9 0h4m1 0h1m1 0h1M170 522.5h1m1 0h11m3 0h1m33 0h1m278 0h1m2 0h1m15 0h1m8 0h2m8 0h1m1 0h6m3 0h1m2 0h1m1 0h3m1 0h9m4 0h1m4 0h1m7 0h1M170 523.5h12m4 0h3m302 0h1m24 0h2m19 0h10m1 0h1m1 0h1m2 0h8m1 0h4m8 0h2m6 0h1M171 524.5h8m1 0h1m5 0h3m296 0h1m1 0h1m4 0h2m5 0h1m2 0h1m11 0h1m1 0h1m20 0h1m1 0h1m1 0h4m6 0h8m4 0h2m1 0h1m6 0h4M171 525.5h1m1 0h6m3 0h1m2 0h1m298 0h1m4 0h1m3 0h1m9 0h1m7 0h1m2 0h1m1 0h1m10 0h1m17 0h1m4 0h2m1 0h6m5 0h1m8 0h3m3 0h1M169 526.5h1m1 0h1m1 0h1m1 0h4m1 0h2m2 0h1m37 0h1m274 0h1m2 0h2m10 0h2m32 0h2m1 0h11m2 0h3m2 0h1m4 0h3M175 527.5h1m1 0h1m1 0h2m2 0h2m15 0h1m16 0h4m16 0h1m202 0h1m43 0h1m13 0h1m1 0h1m8 0h1m2 0h1m13 0h1m22 0h1m2 0h2m3 0h1m1 0h3m5 0h2m4 0h2m1 0h1M187 528.5h1m11 0h1m17 0h2m3 0h1m4 0h1m2 0h1m4 0h2m27 0h1m1 0h1m20 0h1m4 0h2m146 0h1m18 0h1m2 0h1m21 0h2m11 0h2m1 0h2m7 0h1m12 0h1m1 0h1m1 0h1m17 0h1m2 0h1m5 0h5m2 0h1m13 0h3M180 529.5h2m18 0h2m14 0h3m8 0h2m5 0h1m1 0h1m49 0h1m3 0h3m109 0h2m36 0h1m22 0h2m2 0h2m7 0h1m7 0h2m12 0h2m13 0h3m5 0h1m19 0h3m5 0h1m2 0h1m1 0h3m1 0h2M178 530.5h2m41 0h2m10 0h2m1 0h1m27 0h1m13 0h1m8 0h1m1 0h1m98 0h1m15 0h3m59 0h3m6 0h1m8 0h2m11 0h2m2 0h1m11 0h1m9 0h1m3 0h1m13 0h2m10 0h1m3 0h1M220 531.5h5m4 0h1m6 0h1m24 0h1m1 0h1m12 0h2m1 0h1m5 0h1m2 0h1m96 0h1m1 0h1m16 0h1m1 0h1m30 0h1m29 0h1m1 0h1m1 0h1m13 0h1m32 0h2m3 0h2m9 0h1m6 0h1m1 0h1m22 0h4M179 532.5h1m40 0h2m1 0h1m11 0h1m21 0h1m1 0h3m21 0h2m1 0h2m125 0h1m8 0h3m12 0h2m60 0h1m1 0h1m16 0h1m7 0h1m8 0h1m5 0h2m22 0h1m1 0h3M177 533.5h1m31 0h1m5 0h2m3 0h1m1 0h1m12 0h1m20 0h2m1 0h1m2 0h1m2 0h1m16 0h2m7 0h1m73 0h2m20 0h1m2 0h1m1 0h1m8 0h1m1 0h1m1 0h1m6 0h1m1 0h1m8 0h1m12 0h2m2 0h1m31 0h1m15 0h1m11 0h1m17 0h1m2 0h3m6 0h1m1 0h4m2 0h1m4 0h1m1 0h1m1 0h1m18 0h2m1 0h1M217 534.5h1m3 0h1m30 0h1m2 0h1m3 0h3m3 0h2m15 0h4m75 0h4m3 0h1m14 0h1m7 0h2m19 0h2m1 0h1m2 0h1m5 0h1m3 0h1m5 0h1m5 0h1m29 0h2m4 0h1m1 0h2m7 0h1m32 0h1m9 0h2m2 0h3m5 0h1m4 0h1m20 0h2M204 535.5h1m1 0h1m3 0h1m10 0h2m1 0h2m28 0h4m2 0h1m2 0h2m17 0h3m5 0h1m1 0h2m21 0h1m53 0h1m13 0h5m1 0h1m17 0h1m3 0h2m8 0h2m4 0h1m9 0h1m32 0h2m3 0h4m6 0h2m10 0h1m23 0h4m4 0h1m2 0h1m2 0h2m10 0h1m19 0h1M220 536.5h1m2 0h1m29 0h5m2 0h3m5 0h1m12 0h3m3 0h1m1 0h1m2 0h1m21 0h1m45 0h1m1 0h1m1 0h2m17 0h1m2 0h3m18 0h1m5 0h1m3 0h1m1 0h1m3 0h2m25 0h2m14 0h1m3 0h2m1 0h2m1 0h3m34 0h1m7 0h2m4 0h2m8 0h2m9 0h1m10 0h2M202 537.5h1m7 0h1m19 0h2m7 0h1m1 0h1m10 0h1m1 0h1m3 0h1m1 0h5m1 0h3m16 0h3m1 0h5m25 0h1m17 0h1m22 0h1m1 0h1m12 0h1m8 0h1m3 0h2m16 0h3m6 0h2m16 0h1m15 0h1m25 0h2m24 0h1m18 0h1m2 0h1m6 0h1m1 0h1m2 0h4m20 0h1m2 0h1M240 538.5h1m2 0h1m7 0h1m2 0h1m1 0h7m1 0h4m15 0h2m3 0h2m1 0h2m23 0h1m19 0h2m5 0h1m10 0h2m1 0h2m1 0h2m23 0h1m3 0h1m18 0h1m5 0h1m2 0h1m1 0h1m14 0h1m29 0h1m3 0h1m3 0h1m4 0h1m8 0h1m21 0h1m3 0h1m4 0h1m2 0h1m4 0h1m4 0h1m6 0h4m17 0h1m1 0h3M201 539.5h1m27 0h3m6 0h7m5 0h12m1 0h2m1 0h1m16 0h1m5 0h2m2 0h1m8 0h1m16 0h2m22 0h1m12 0h1m3 0h1m27 0h1m27 0h1m9 0h1m16 0h1m6 0h2m10 0h1m4 0h7m20 0h1m8 0h1m1 0h3m8 0h2m8 0h1m10 0h3m18 0h2M198 540.5h1m2 0h1m4 0h1m19 0h5m1 0h2m2 0h1m1 0h7m5 0h10m1 0h5m12 0h4m1 0h1m3 0h2m1 0h1m24 0h2m2 0h1m24 0h1m11 0h1m6 0h1m9 0h1m35 0h3m3 0h1m15 0h1m20 0h1m10 0h3m1 0h2m2 0h3m31 0h3m5 0h1m3 0h1m21 0h3m3 0h1M198 541.5h2m2 0h3m2 0h3m13 0h1m3 0h3m3 0h4m2 0h8m2 0h6m1 0h8m16 0h1m7 0h2m3 0h1m21 0h1m5 0h2m23 0h1m9 0h3m77 0h1m18 0h1m6 0h1m3 0h1m2 0h1m1 0h1m24 0h1m1 0h1m12 0h1m2 0h1m2 0h2m3 0h1m2 0h1m12 0h1m1 0h1m3 0h2M193 542.5h1m3 0h4m1 0h2m1 0h6m1 0h2m6 0h4m2 0h9m4 0h7m4 0h4m1 0h3m1 0h8m32 0h1m15 0h1m2 0h1m1 0h1m2 0h1m5 0h1m17 0h1m3 0h2m3 0h1m75 0h1m18 0h1m9 0h1m8 0h2m36 0h1m5 0h1m1 0h1m1 0h1m4 0h1m18 0h1m2 0h2m1 0h1M195 543.5h7m1 0h2m2 0h1m2 0h3m3 0h1m2 0h16m1 0h10m4 0h1m1 0h12m16 0h1m54 0h1m1 0h1m9 0h2m1 0h1m3 0h2m79 0h1m12 0h1m5 0h1m2 0h1m6 0h1m2 0h1m7 0h1m4 0h1m1 0h1m7 0h1m10 0h4m4 0h1m2 0h2m7 0h1m3 0h1m14 0h1m3 0h6M191 544.5h1m2 0h3m1 0h3m2 0h1m2 0h1m3 0h2m1 0h1m1 0h1m5 0h4m4 0h1m1 0h15m3 0h13m7 0h1m43 0h1m5 0h1m16 0h2m9 0h2m5 0h2m46 0h1m31 0h1m21 0h1m2 0h1m6 0h1m15 0h1m1 0h1m1 0h1m2 0h2m3 0h2m4 0h1m1 0h2m6 0h3m1 0h1m3 0h3m5 0h1m13 0h6m1 0h1M194 545.5h3m3 0h1m1 0h5m3 0h2m11 0h4m1 0h1m1 0h1m1 0h6m3 0h9m1 0h1m1 0h5m1 0h1m10 0h2m5 0h1m2 0h1m31 0h1m35 0h1m4 0h4m35 0h2m11 0h1m18 0h1m7 0h1m4 0h1m28 0h1m2 0h1m1 0h1m9 0h1m5 0h1m1 0h3m8 0h1m3 0h1m1 0h2m2 0h1m1 0h1m11 0h1m2 0h1m1 0h1m12 0h1m2 0h1m1 0h1M195 546.5h2m6 0h3m1 0h6m9 0h10m1 0h5m2 0h8m1 0h2m2 0h8m17 0h1m10 0h1m7 0h1m4 0h1m3 0h1m1 0h2m1 0h2m1 0h1m13 0h1m2 0h1m3 0h1m7 0h1m7 0h1m2 0h2m7 0h1m27 0h1m1 0h4m1 0h3m33 0h2m25 0h2m1 0h2m4 0h1m11 0h3m3 0h1m15 0h1m4 0h2m1 0h1m23 0h2m2 0h1M196 547.5h1m5 0h10m8 0h1m2 0h5m4 0h3m6 0h2m6 0h1m3 0h8m16 0h2m10 0h3m7 0h1m3 0h1m8 0h1m3 0h1m11 0h1m1 0h1m22 0h1m31 0h1m8 0h1m1 0h1m35 0h1m1 0h4m18 0h2m3 0h1m6 0h1m11 0h1m8 0h1m20 0h2m1 0h1m8 0h1m5 0h1m6 0h1m6 0h2M195 548.5h1m2 0h2m2 0h10m6 0h2m1 0h9m1 0h7m1 0h1m15 0h4m1 0h1m6 0h1m9 0h2m3 0h1m3 0h1m9 0h1m1 0h1m1 0h2m2 0h1m4 0h1m20 0h2m2 0h1m17 0h3m30 0h1m7 0h2m3 0h1m1 0h2m22 0h1m5 0h1m2 0h3m6 0h2m14 0h2m2 0h1m20 0h1m7 0h2m19 0h1m1 0h1m1 0h1m2 0h1m5 0h1m3 0h1m2 0h1m2 0h1m6 0h1M196 549.5h2m3 0h10m9 0h1m1 0h7m1 0h11m14 0h1m1 0h2m6 0h1m2 0h1m9 0h2m10 0h1m7 0h3m7 0h1m15 0h1m3 0h1m2 0h1m19 0h1m2 0h1m29 0h1m6 0h2m1 0h1m2 0h1m3 0h1m27 0h1m1 0h1m2 0h1m1 0h1m25 0h1m15 0h1m1 0h3m3 0h2m1 0h3m20 0h1m1 0h1m3 0h1m5 0h1m5 0h1m1 0h2m1 0h1m4 0h1M197 550.5h2m4 0h8m11 0h8m1 0h2m1 0h1m2 0h1m1 0h1m12 0h1m4 0h1m2 0h1m3 0h1m13 0h2m9 0h1m6 0h1m3 0h1m1 0h1m2 0h1m20 0h3m1 0h1m59 0h2m1 0h1m1 0h1m1 0h1m4 0h2m24 0h1m1 0h1m2 0h1m7 0h1m2 0h1m13 0h1m5 0h1m21 0h2m2 0h1m9 0h2m25 0h1M196 551.5h2m4 0h1m3 0h2m1 0h1m10 0h1m1 0h14m1 0h1m1 0h1m17 0h1m7 0h1m1 0h1m11 0h1m7 0h3m34 0h1m3 0h1m2 0h1m1 0h2m8 0h1m9 0h2m8 0h1m26 0h1m3 0h1m2 0h1m5 0h2m29 0h2m6 0h1m35 0h2m8 0h1m12 0h1m8 0h2m2 0h2m1 0h1m1 0h2m7 0h2m4 0h2M189 552.5h1m6 0h1m6 0h1m1 0h2m12 0h3m1 0h7m5 0h1m23 0h1m5 0h2m12 0h1m1 0h1m5 0h3m17 0h2m3 0h1m17 0h3m1 0h1m16 0h5m2 0h2m1 0h1m24 0h1m4 0h1m9 0h4m25 0h1m4 0h2m39 0h1m1 0h2m8 0h1m12 0h1m6 0h2m3 0h1m1 0h1m1 0h1m11 0h1M201 553.5h1m1 0h3m1 0h1m12 0h7m2 0h1m1 0h2m2 0h1m23 0h1m5 0h1m17 0h1m4 0h1m16 0h3m4 0h1m4 0h1m10 0h3m3 0h1m4 0h2m3 0h1m12 0h3m31 0h1m5 0h1m4 0h2m2 0h1m31 0h1m1 0h1m29 0h2m6 0h1m18 0h2m1 0h2m3 0h2m4 0h2m4 0h2m2 0h1M203 554.5h3m1 0h1m7 0h1m1 0h2m1 0h3m1 0h2m3 0h1m8 0h1m7 0h1m11 0h2m12 0h1m7 0h1m5 0h1m24 0h1m4 0h1m23 0h1m15 0h1m2 0h2m25 0h1m13 0h1m1 0h1m3 0h3m11 0h1m6 0h1m9 0h1m33 0h1m5 0h2m9 0h1m7 0h1m19 0h1m2 0h1m4 0h1M202 555.5h1m1 0h2m1 0h1m7 0h6m1 0h2m1 0h1m1 0h2m14 0h2m29 0h2m4 0h3m3 0h1m18 0h1m11 0h1m13 0h1m2 0h1m6 0h1m3 0h1m10 0h1m4 0h1m25 0h1m5 0h1m12 0h1m2 0h1m3 0h1m7 0h1m36 0h4m8 0h1m12 0h4M202 556.5h4m2 0h1m3 0h2m1 0h3m3 0h2m7 0h1m6 0h1m7 0h1m6 0h2m3 0h1m5 0h1m8 0h4m2 0h5m2 0h1m18 0h4m21 0h1m1 0h2m1 0h1m3 0h1m1 0h2m1 0h2m2 0h1m5 0h1m2 0h3m26 0h1m1 0h1m8 0h1m1 0h1m6 0h1m1 0h5m1 0h2m14 0h1m7 0h1m20 0h3m1 0h5m16 0h4M203 557.5h2m4 0h1m4 0h3m1 0h2m3 0h1m5 0h1m14 0h1m8 0h1m19 0h5m3 0h2m1 0h1m18 0h2m6 0h1m1 0h1m4 0h3m10 0h1m10 0h2m3 0h2m4 0h2m2 0h1m1 0h1m2 0h1m22 0h1m1 0h1m10 0h3m4 0h3m2 0h4m14 0h2m1 0h1m1 0h1m3 0h2m18 0h5m3 0h1m14 0h1m3 0h3m2 0h1M204 558.5h1m5 0h1m4 0h1m7 0h1m2 0h2m2 0h1m20 0h1m2 0h1m3 0h2m8 0h1m2 0h8m2 0h1m3 0h2m16 0h1m1 0h1m10 0h1m30 0h2m2 0h1m1 0h2m7 0h1m22 0h1m3 0h1m1 0h1m1 0h1m3 0h6m5 0h3m3 0h1m19 0h1m22 0h4m1 0h2m1 0h1m15 0h1m4 0h2m2 0h2M199 559.5h1m4 0h2m3 0h1m4 0h3m8 0h3m1 0h1m6 0h1m15 0h3m1 0h1m1 0h2m7 0h1m1 0h1m1 0h7m5 0h1m1 0h1m21 0h1m1 0h1m2 0h1m1 0h2m25 0h3m2 0h3m2 0h1m40 0h1m2 0h3m1 0h5m1 0h1m3 0h2m22 0h2m1 0h1m18 0h1m1 0h3m1 0h6m19 0h3M195 560.5h1m9 0h1m4 0h1m3 0h1m11 0h2m8 0h1m11 0h1m4 0h2m2 0h3m8 0h1m2 0h8m4 0h4m19 0h2m1 0h3m1 0h2m1 0h4m16 0h1m4 0h2m4 0h1m1 0h2m11 0h1m2 0h1m20 0h1m9 0h5m8 0h1m2 0h1m8 0h3m9 0h1m22 0h1m1 0h1m3 0h6m17 0h4M199 561.5h2m2 0h4m22 0h1m21 0h2m1 0h1m13 0h2m1 0h10m1 0h5m19 0h1m2 0h3m3 0h5m1 0h1m19 0h1m1 0h1m2 0h2m38 0h1m2 0h1m5 0h1m1 0h4m1 0h1m9 0h1m8 0h2m1 0h1m11 0h1m3 0h2m1 0h1m13 0h4m3 0h1m1 0h2m15 0h2m1 0h5M196 562.5h1m1 0h1m1 0h4m3 0h1m25 0h1m2 0h1m13 0h4m13 0h14m1 0h5m19 0h1m1 0h7m3 0h1m31 0h1m34 0h1m1 0h1m1 0h1m1 0h1m2 0h4m20 0h1m16 0h1m1 0h7m11 0h1m1 0h6m3 0h3m15 0h1m1 0h5M195 563.5h8m1 0h2m27 0h4m7 0h1m4 0h5m13 0h4m3 0h12m21 0h3m2 0h1m1 0h2m5 0h1m18 0h1m1 0h1m38 0h1m1 0h1m1 0h4m3 0h1m1 0h2m24 0h1m3 0h2m10 0h8m11 0h1m1 0h9m12 0h1m1 0h1m2 0h1m1 0h1m2 0h3M191 564.5h1m3 0h4m1 0h1m1 0h8m7 0h1m16 0h1m2 0h1m8 0h1m2 0h7m7 0h1m1 0h1m1 0h1m2 0h6m1 0h9m8 0h1m14 0h1m1 0h1m1 0h1m26 0h2m29 0h2m9 0h1m1 0h7m2 0h1m1 0h2m22 0h1m1 0h1m12 0h1m1 0h1m1 0h6m9 0h2m2 0h5m3 0h2m7 0h1m5 0h1m1 0h3m2 0h3M195 565.5h1m1 0h1m2 0h7m2 0h1m3 0h1m3 0h1m19 0h1m8 0h2m1 0h8m6 0h4m1 0h1m1 0h15m10 0h1m2 0h1m8 0h1m2 0h1m5 0h1m4 0h1m12 0h3m28 0h1m5 0h1m7 0h1m2 0h5m3 0h1m29 0h3m9 0h1m1 0h7m3 0h3m2 0h1m6 0h7m1 0h4m9 0h1m4 0h3m2 0h1M199 566.5h1m2 0h6m4 0h2m6 0h1m4 0h1m4 0h1m14 0h1m1 0h3m1 0h5m5 0h3m1 0h4m1 0h14m5 0h1m3 0h6m1 0h1m3 0h2m4 0h2m1 0h1m1 0h1m10 0h1m10 0h1m40 0h1m1 0h1m2 0h5m48 0h4m5 0h2m2 0h1m1 0h1m5 0h5M196 567.5h1m1 0h1m1 0h5m3 0h1m4 0h1m1 0h1m27 0h1m4 0h2m2 0h1m1 0h1m5 0h9m2 0h2m1 0h1m1 0h8m1 0h1m1 0h1m1 0h12m1 0h1m1 0h5m1 0h1m2 0h1m1 0h1m5 0h1m1 0h2m2 0h1m15 0h1m35 0h1m1 0h4m1 0h1m1 0h1m44 0h1m2 0h5m3 0h1m1 0h2m1 0h1m10 0h1M201 568.5h6m1 0h1m4 0h1m4 0h1m10 0h1m24 0h1m5 0h8m1 0h1m1 0h7m1 0h28m1 0h3m2 0h2m1 0h1m5 0h1m15 0h1m3 0h1m2 0h2m36 0h1m3 0h2m44 0h1m2 0h2m1 0h3m3 0h1M203 569.5h7m3 0h1m6 0h1m1 0h1m1 0h1m1 0h1m23 0h3m7 0h2m1 0h3m1 0h27m1 0h2m3 0h7m1 0h6m5 0h3m1 0h4m13 0h1m5 0h1m89 0h4m4 0h2M204 570.5h7m11 0h3m20 0h4m2 0h1m7 0h3m1 0h3m1 0h7m1 0h2m1 0h14m2 0h4m1 0h1m1 0h6m2 0h1m1 0h1m1 0h4m2 0h7m1 0h1m16 0h1m95 0h1m4 0h2M204 571.5h6m3 0h1m7 0h2m1 0h4m17 0h3m2 0h1m12 0h8m1 0h26m2 0h2m2 0h3m2 0h3m1 0h3m3 0h9m7 0h2m3 0h1m103 0h4M205 572.5h6m7 0h3m1 0h1m1 0h2m1 0h1m2 0h1m10 0h4m4 0h1m12 0h2m2 0h6m1 0h4m2 0h19m1 0h5m5 0h3m1 0h3m2 0h1m1 0h3m1 0h1m2 0h3m10 0h1m1 0h1M205 573.5h6m8 0h3m1 0h3m1 0h1m1 0h2m9 0h1m1 0h8m9 0h1m1 0h4m1 0h8m6 0h15m1 0h2m2 0h10m1 0h7m1 0h7m1 0h4m9 0h1M205 574.5h6m2 0h1m4 0h3m1 0h9m11 0h10m7 0h5m2 0h8m7 0h2m3 0h1m1 0h8m1 0h2m2 0h8m1 0h12m1 0h1m2 0h4m9 0h1M205 575.5h6m2 0h1m3 0h1m1 0h1m2 0h9m1 0h3m7 0h6m1 0h3m7 0h6m1 0h1m2 0h4m7 0h1m1 0h1m2 0h1m5 0h7m3 0h4m1 0h4m1 0h7m2 0h11m5 0h1M192 576.5h1m14 0h1m1 0h2m3 0h1m2 0h1m3 0h6m4 0h1m1 0h1m5 0h1m5 0h3m1 0h4m6 0h1m1 0h4m2 0h7m7 0h4m8 0h4m3 0h3m2 0h1m1 0h2m1 0h4m1 0h4m1 0h6m1 0h1m1 0h2M190 577.5h1m1 0h1m12 0h3m17 0h2m1 0h1m7 0h5m1 0h1m6 0h3m5 0h8m1 0h1m1 0h4m9 0h1m13 0h4m1 0h5m1 0h2m1 0h1m1 0h6m1 0h1m1 0h4m1 0h1M190 578.5h1m14 0h1m7 0h1m6 0h1m1 0h2m1 0h2m7 0h1m1 0h6m1 0h1m3 0h2m10 0h6m1 0h1m1 0h4m4 0h1m17 0h14m1 0h10m1 0h2m2 0h1m1 0h2M220 579.5h3m2 0h3m6 0h2m1 0h2m1 0h1m13 0h6m1 0h3m1 0h1m1 0h1m2 0h2m4 0h1m22 0h7m1 0h1m2 0h2m1 0h3m1 0h2m1 0h1m1 0h3M217 580.5h1m2 0h5m3 0h8m1 0h1m1 0h2m11 0h4m1 0h11m2 0h2m3 0h2m20 0h6m5 0h8m1 0h1m1 0h1m1 0h1M217 581.5h1m2 0h4m1 0h1m1 0h5m2 0h3m2 0h4m9 0h3m1 0h2m1 0h2m1 0h1m1 0h1m1 0h1m2 0h1m16 0h1m4 0h1m2 0h1M222 582.5h3m1 0h6m2 0h2m3 0h1m11 0h3m3 0h1m3 0h1m4 0h1m6 0h1m8 0h2m2 0h1m3 0h2M227 583.5h2m1 0h2m4 0h2m14 0h1m1 0h1m2 0h4m19 0h1m1 0h3m1 0h2M228 584.5h3m1 0h1m1 0h2m12 0h4m6 0h2M229 585.5h6m12 0h2m1 0h1m4 0h1m3 0h4M230 586.5h5m19 0h1m2 0h1m3 0h1m1 0h2m1 0h1M230 587.5h3m2 0h1m25 0h1m1 0h3M228 588.5h2m1 0h3m14 0h2m12 0h1m1 0h3M232 589.5h1m29 0h4M231 590.5h2m29 0h3m1 0h1M263 591.5h1m2 0h1M244 592.5h1m18 0h1m1 0h1M242 593.5h1m1 0h1M242 594.5h1m2 0h1M244 597.5h1" stroke="#6464ff" stroke-width="1" fill="none" shape-rendering="crispEdges"/>
<path d="M284 519.5h1M345 526.5h1M267 527.5h1M266 529.5h1M347 530.5h1M338 531.5h1M319 532.5h1m26 0h2m31 0h1m3 0h1m4 0h1M319 533.5h1m14 0h1m10 0h1m37 0h2m2 0h2M304 534.5h1m15 0h2m8 0h1m1 0h5m7 0h3m27 0h1m4 0h1m8 0h1M322 535.5h1m4 0h2m7 0h1m9 0h1m34 0h1m16 0h2M320 536.5h1m58 0h2m5 0h1M291 537.5h2m85 0h1M291 538.5h1m31 0h3m5 0h1m3 0h1m3 0h2m37 0h1m6 0h1M297 539.5h1m32 0h4m5 0h2m37 0h1m10 0h1m7 0h1m1 0h1M339 540.5h1m21 0h1m1 0h1m15 0h1m5 0h1M338 541.5h1m17 0h1m5 0h3m14 0h1M318 542.5h1m19 0h1m16 0h3m1 0h1m1 0h7m11 0h1m7 0h2M325 543.5h1m28 0h1m2 0h11m13 0h2M310 544.5h2m6 0h1m35 0h1m3 0h1m1 0h9m12 0h1M313 545.5h2m9 0h1m31 0h10m15 0h1m17 0h1M314 546.5h1m11 0h2m26 0h2m3 0h1m1 0h1m1 0h1m2 0h1m32 0h1M304 547.5h1m7 0h3m10 0h1m1 0h2m17 0h3m1 0h1m1 0h1m8 0h1m2 0h1m1 0h1m3 0h2M304 548.5h1m6 0h1m49 0h2m7 0h1m25 0h3M362 549.5h2m33 0h1M309 550.5h1m3 0h1m6 0h1m26 0h1m10 0h2m1 0h2m8 0h1M305 551.5h1m10 0h1m1 0h4m37 0h1m1 0h1m10 0h1M307 552.5h2m5 0h1m1 0h1m1 0h2m1 0h1m40 0h1m15 0h2m18 0h3M292 553.5h1m9 0h1m1 0h1m1 0h1m2 0h1m7 0h4m1 0h1m1 0h1m32 0h3M309 554.5h1m1 0h2m6 0h4m38 0h1m1 0h2m17 0h1M272 555.5h1m4 0h1m1 0h1m29 0h1m2 0h1m5 0h1m4 0h1m2 0h1m28 0h1m8 0h1m17 0h1m7 0h1M278 556.5h1m31 0h1m1 0h8m2 0h2m1 0h1m37 0h1m15 0h2m10 0h1M273 557.5h1m10 0h1m6 0h1m22 0h5m3 0h2m23 0h1m9 0h1m2 0h1m1 0h2m1 0h1m12 0h1m2 0h1M261 558.5h1m22 0h3m2 0h1m28 0h1m2 0h2m1 0h1m35 0h1m3 0h1m1 0h1m10 0h1m9 0h1M297 559.5h1m1 0h1m18 0h4m39 0h1m3 0h2m5 0h1m8 0h1m17 0h2M283 560.5h1m1 0h1m11 0h1m2 0h1m2 0h1m15 0h1m1 0h1m42 0h1m7 0h1m1 0h3m22 0h1M284 561.5h2m77 0h2M292 562.5h1m3 0h1m39 0h1m41 0h1m16 0h1M347 563.5h1m29 0h1M282 564.5h1m12 0h2m35 0h1m2 0h1m3 0h1m1 0h1m54 0h2M282 565.5h1m5 0h4m1 0h2m39 0h2m2 0h2m56 0h1M282 566.5h1m4 0h1m1 0h2m1 0h2m4 0h1m35 0h1m1 0h3m1 0h5m51 0h1m1 0h1M278 567.5h1m9 0h4m5 0h1m2 0h1m40 0h3m52 0h1M284 568.5h1m1 0h1m1 0h4m6 0h2m28 0h1m12 0h1M285 569.5h1m2 0h1m1 0h5m2 0h3m26 0h1m1 0h2m4 0h1m5 0h1M286 570.5h1m2 0h1m1 0h2m4 0h2m25 0h1m2 0h1m12 0h1m3 0h1M270 571.5h1m26 0h2m24 0h1m2 0h2m5 0h1m4 0h2m3 0h1M294 572.5h3m1 0h1m4 0h1m2 0h1m6 0h1m11 0h1m1 0h1m1 0h1m4 0h2m3 0h4M267 573.5h1m1 0h1m26 0h2m7 0h1m1 0h3m2 0h1m14 0h1m4 0h4M277 574.5h1m16 0h3m1 0h1m1 0h1m4 0h3m1 0h2m15 0h2m2 0h3m1 0h2m2 0h1M274 575.5h1m1 0h1m6 0h1m10 0h1m2 0h1m1 0h2m4 0h4m2 0h2m12 0h1M276 576.5h1m21 0h1m2 0h1m3 0h3m3 0h1m1 0h2m1 0h2M270 577.5h1m1 0h1m11 0h1m16 0h4m8 0h2m8 0h1M280 578.5h1m5 0h1m13 0h2m5 0h1m4 0h4m2 0h2m2 0h1M276 579.5h1m3 0h1m21 0h1m6 0h1m1 0h1m1 0h2m2 0h2m3 0h3M276 580.5h1m25 0h3m1 0h1m2 0h7m1 0h1m1 0h1m1 0h1M274 581.5h3m1 0h1m1 0h1m2 0h2m8 0h2M276 582.5h1m1 0h3m2 0h4m2 0h3M279 583.5h2m3 0h3M277 584.5h1" stroke="#99e61a" stroke-width="1" fill="none" shape-rendering="crispEdges"/>
<path d="M724 325.5h1M723 326.5h1M709 330.5h1M669 331.5h1M670 332.5h1M671 335.5h1M686 336.5h4M650 337.5h1m24 0h1m7 0h1m5 0h1M682 338.5h1m36 0h1M695 340.5h1M654 342.5h1m75 0h1M712 345.5h1M661 346.5h1m29 0h1m6 0h2m4 0h1M698 347.5h1m4 0h1M659 348.5h1m1 0h1m38 0h1m9 0h2M668 349.5h1m31 0h3m2 0h1M700 350.5h4M658 351.5h1m6 0h1m1 0h1m30 0h3M677 352.5h1m24 0h1M667 353.5h2m37 0h2M656 354.5h1m20 0h1m28 0h1m2 0h1m1 0h1M741 355.5h1M709 356.5h1m11 0h1M655 357.5h1m48 0h2m15 0h1M669 358.5h1m23 0h1m4 0h1m5 0h2m15 0h1m12 0h1M663 359.5h1m32 0h1m1 0h1m4 0h2m1 0h1m1 0h1M647 360.5h1m6 0h1m7 0h2m6 0h2m6 0h1m19 0h1m5 0h1m16 0h2m5 0h1M661 361.5h1m1 0h1m4 0h2m29 0h1m3 0h1m17 0h1M661 362.5h4m2 0h1m1 0h1m4 0h1m23 0h2M681 363.5h1m2 0h1m11 0h1m3 0h1m36 0h1M647 364.5h1m24 0h2m3 0h1m1 0h2m16 0h1m1 0h1M648 365.5h1m23 0h1m2 0h2m2 0h2m5 0h1m38 0h1M650 366.5h2m2 0h1m17 0h1m5 0h1m23 0h1m22 0h1M649 367.5h1m2 0h1m1 0h1m20 0h1m23 0h1m2 0h1m2 0h1M649 368.5h1m3 0h1m18 0h1m4 0h2m21 0h1m1 0h1m2 0h1m18 0h1M649 369.5h2m2 0h2m17 0h1m28 0h1m1 0h2m6 0h1m15 0h1M651 370.5h1m1 0h2m15 0h2m1 0h2m26 0h1m1 0h2m6 0h1M653 371.5h1m15 0h4m25 0h1m3 0h2M650 372.5h1m11 0h1m8 0h3m1 0h2m21 0h1m1 0h2m4 0h1M648 373.5h3m18 0h7m21 0h1m2 0h2m3 0h1M647 374.5h2m12 0h1m3 0h1m5 0h2m24 0h1M647 375.5h1m14 0h1m1 0h1m5 0h4m1 0h1m14 0h1m5 0h1M659 376.5h2m2 0h1m2 0h1m1 0h1m3 0h1m19 0h1M648 377.5h2m1 0h1m7 0h2m1 0h5m3 0h1m21 0h2M648 378.5h3m6 0h5m2 0h1m17 0h1m6 0h1m3 0h1M649 379.5h2m7 0h1m1 0h1m22 0h2m14 0h2M649 380.5h1m8 0h1m4 0h1m4 0h1M649 381.5h3m48 0h1m2 0h1M650 382.5h1m38 0h3m8 0h1M688 383.5h2m7 0h1m1 0h1M683 384.5h1m5 0h2m1 0h1m5 0h2M677 385.5h1m1 0h1m3 0h4m3 0h1m1 0h1m3 0h1m2 0h1m1 0h1M671 386.5h1m7 0h1m5 0h2m2 0h2m7 0h1M677 387.5h1m7 0h1m3 0h2m3 0h1M181 388.5h1m3 0h2m489 0h4m4 0h1m4 0h1m7 0h1m11 0h1M676 389.5h1m2 0h2m4 0h1m11 0h1m11 0h1M164 390.5h1m1 0h1m18 0h1m485 0h2m1 0h1m5 0h1m16 0h2m10 0h1M160 391.5h1m4 0h2m492 0h1m4 0h1m5 0h1m1 0h1m21 0h1m1 0h2m12 0h2M159 392.5h1m3 0h1m1 0h2m17 0h1m466 0h1m14 0h1m1 0h2m4 0h1m1 0h1m19 0h2m3 0h1M157 393.5h1m1 0h1m1 0h3m1 0h7m2 0h1m2 0h1m5 0h1m1 0h2m465 0h2m1 0h2m2 0h1m4 0h1m1 0h2m3 0h1m2 0h2m20 0h1m1 0h1M158 394.5h3m2 0h2m1 0h1m3 0h2m2 0h1m1 0h1m474 0h4m1 0h2m2 0h1m1 0h2m3 0h1m1 0h1m2 0h2m20 0h1m4 0h1M162 395.5h1m8 0h1m4 0h2m6 0h2m455 0h3m8 0h1m4 0h1m5 0h3m2 0h4m1 0h1m2 0h1m16 0h1m3 0h1m6 0h1M157 396.5h5m8 0h2m1 0h1m464 0h2m1 0h1m1 0h1m9 0h1m2 0h2m4 0h1m2 0h5m2 0h1m2 0h1m17 0h2m1 0h4m3 0h2M156 397.5h1m1 0h4m26 0h1m447 0h1m1 0h1m3 0h2m11 0h1m1 0h3m8 0h1m6 0h1m21 0h2m1 0h3M155 398.5h2m1 0h6m15 0h1m8 0h1m449 0h1m12 0h1m2 0h5m1 0h1m1 0h1m2 0h2m2 0h1m3 0h1m23 0h1m6 0h1M156 399.5h1m2 0h1m1 0h4m3 0h1m10 0h1m451 0h1m1 0h3m3 0h1m1 0h1m1 0h2m3 0h3m1 0h3m1 0h5m7 0h1m3 0h3m33 0h3M156 400.5h2m6 0h2m460 0h1m2 0h2m2 0h1m1 0h1m3 0h3m3 0h2m2 0h1m1 0h1m3 0h1m2 0h3m43 0h1m4 0h2M159 401.5h2m5 0h1m463 0h1m1 0h1m1 0h2m5 0h2m1 0h4m3 0h1m2 0h1m3 0h1m1 0h1m1 0h1m1 0h1M158 402.5h1m19 0h1m451 0h2m4 0h1m3 0h1m1 0h1m8 0h1m5 0h1m6 0h1M178 403.5h1m1 0h1m443 0h1m24 0h1m1 0h1m34 0h3M180 404.5h2m448 0h3m3 0h1m10 0h1m13 0h1m22 0h1m1 0h2M179 405.5h3m449 0h2m3 0h1m47 0h1m1 0h4m1 0h1M633 406.5h1m5 0h2m45 0h1m5 0h1M633 407.5h1m1 0h1m4 0h1m7 0h2m16 0h2m16 0h2m3 0h2m1 0h1M183 408.5h1m451 0h1m30 0h1m23 0h1m7 0h1M635 409.5h2m25 0h1m36 0h1M159 410.5h1m4 0h1m5 0h2m488 0h1m2 0h1m11 0h1m17 0h1m2 0h1M154 411.5h1m14 0h1m2 0h2m1 0h1m2 0h2m5 0h2m472 0h1m2 0h1m4 0h1m1 0h1m6 0h1m16 0h1m1 0h1m3 0h1M151 412.5h1m19 0h1m1 0h8m5 0h1m464 0h1m11 0h1m2 0h1m1 0h1m10 0h1m11 0h1m10 0h1M155 413.5h2m4 0h1m7 0h1m1 0h1m2 0h1m2 0h2m447 0h1m25 0h3m8 0h1m2 0h1m28 0h1M154 414.5h2m1 0h1m2 0h2m1 0h1m4 0h1m5 0h1m4 0h2m471 0h2m5 0h1m4 0h3m14 0h1m18 0h1M146 415.5h2m11 0h1m2 0h1m5 0h2m5 0h1m3 0h1m473 0h2m5 0h2m6 0h1m9 0h1m3 0h1m1 0h1m3 0h2M154 416.5h1m3 0h1m6 0h2m2 0h2m9 0h1m2 0h1m1 0h1m478 0h1m6 0h1M149 417.5h1m1 0h1m1 0h1m14 0h1m6 0h1m3 0h1m1 0h3m468 0h1m4 0h1m5 0h2m24 0h1m2 0h1M177 418.5h1m3 0h1m474 0h2m3 0h1m1 0h1M151 419.5h1m2 0h1m21 0h1m1 0h1m477 0h1m5 0h2m14 0h1M155 420.5h1m22 0h1m478 0h2m1 0h1m2 0h1M160 421.5h1m19 0h1m445 0h1m35 0h2m15 0h1m3 0h1m13 0h1M152 422.5h1m3 0h1m2 0h1m3 0h1m12 0h1m1 0h2m445 0h1m38 0h1m14 0h1m3 0h1M160 423.5h1m2 0h2m5 0h1m4 0h1m1 0h2m470 0h1m8 0h1M157 424.5h1m20 0h5m444 0h1m25 0h1m5 0h1m30 0h2M163 425.5h1m15 0h2m1 0h1m1 0h1m469 0h1m1 0h1M164 426.5h1m3 0h1m2 0h1m4 0h1m2 0h1m6 0h1m440 0h1m15 0h1m8 0h1m8 0h1m1 0h1m26 0h1M167 427.5h2m3 0h1m1 0h1m2 0h1m3 0h1m461 0h1m1 0h1m4 0h1m2 0h3m4 0h1m2 0h2m19 0h1M173 428.5h1m476 0h1m2 0h2m4 0h1m22 0h2m2 0h1m1 0h1M161 429.5h2m11 0h1m6 0h1m473 0h1m2 0h3m21 0h3m1 0h1m1 0h2M161 430.5h1m13 0h1m3 0h2m444 0h3m19 0h2m9 0h1m19 0h1m9 0h2m2 0h1M161 431.5h1m9 0h1m476 0h2m5 0h1m3 0h1m17 0h1m3 0h2m2 0h2m1 0h2m1 0h1M621 432.5h1m27 0h1m1 0h2m24 0h2m2 0h2m5 0h1M168 433.5h1m11 0h1m468 0h1m1 0h2m2 0h1m25 0h1M173 434.5h1M168 435.5h1m3 0h1m26 0h1m24 0h1m424 0h1m6 0h2M160 436.5h2m6 0h1m26 0h1m4 0h1m1 0h1m5 0h1m441 0h1m22 0h1m8 0h1M160 437.5h1m10 0h2m24 0h5m5 0h1m1 0h1m23 0h1M170 438.5h2m5 0h2m2 0h1m10 0h1m6 0h2m2 0h1m4 0h1M170 439.5h4m3 0h2m1 0h1m1 0h1m13 0h1m1 0h1m3 0h1m1 0h1M172 440.5h2m4 0h2m2 0h1m1 0h1m12 0h2m2 0h2m1 0h1m4 0h1m19 0h2m6 0h1M162 441.5h1m8 0h1m6 0h1m1 0h1m1 0h2m15 0h2m2 0h1m1 0h1m1 0h1m5 0h1m17 0h2m4 0h1M167 442.5h1m4 0h1m10 0h1m9 0h1m1 0h1m2 0h1m30 0h1m1 0h1M167 443.5h2m14 0h1m11 0h3m2 0h1m1 0h1m31 0h1m434 0h1m4 0h1M164 444.5h1m28 0h1m2 0h1m34 0h1M165 445.5h1m3 0h1m25 0h1m16 0h1m17 0h1m3 0h1m430 0h1m1 0h1m3 0h1M164 446.5h1m35 0h1m24 0h1m429 0h1m9 0h1m7 0h1M174 447.5h1m5 0h1m13 0h1m1 0h1m2 0h1m26 0h1m425 0h1m21 0h1M174 448.5h1m12 0h1m10 0h1m11 0h1m3 0h1m434 0h1m1 0h1M172 449.5h1m10 0h1m14 0h2m42 0h1M166 450.5h1m7 0h1m7 0h1m2 0h1m5 0h1m9 0h1m7 0h1m5 0h1m437 0h1M167 451.5h1m1 0h1m13 0h1m12 0h1m1 0h1m1 0h1m9 0h1m1 0h1m3 0h1m1 0h1m435 0h1M168 452.5h1m12 0h1m5 0h1m12 0h1m11 0h1m1 0h1m12 0h1m17 0h1m407 0h1m1 0h1M169 453.5h1m1 0h3m2 0h1m5 0h1m4 0h1m3 0h2m2 0h1m2 0h1m10 0h2m1 0h4m8 0h1m426 0h1m1 0h3M171 454.5h2m2 0h1m2 0h2m5 0h1m8 0h1m4 0h1m8 0h2m4 0h1m8 0h1m428 0h1M177 455.5h1m30 0h1m5 0h4m6 0h1M174 456.5h1m1 0h1m1 0h1m29 0h4m1 0h1m1 0h2m1 0h1m4 0h1m11 0h1m414 0h1m5 0h1M176 457.5h4m1 0h1m15 0h1m5 0h1m4 0h4m8 0h1m7 0h1m6 0h1m414 0h1M178 458.5h2m2 0h1m1 0h1m24 0h3m1 0h1m3 0h1M175 459.5h1m7 0h1m25 0h1m2 0h3m4 0h2m9 0h1M175 460.5h1m4 0h1m9 0h1m2 0h1m6 0h1m7 0h3m1 0h5m2 0h1M176 461.5h2m2 0h3m27 0h1m3 0h1m7 0h1m2 0h1m1 0h1M180 462.5h1m1 0h2m6 0h1m8 0h1m1 0h1m9 0h2m3 0h1m10 0h1m26 0h1M177 463.5h1m2 0h4m4 0h1m8 0h1m3 0h2m3 0h1m4 0h2m1 0h3m6 0h1M179 464.5h1m7 0h3m2 0h1m1 0h1m1 0h1m2 0h4m4 0h1m2 0h1m1 0h2m5 0h2m2 0h2m24 0h1m1 0h2M179 465.5h1m2 0h1m2 0h5m5 0h8m2 0h3m3 0h1m12 0h1m23 0h5M181 466.5h3m2 0h2m1 0h1m4 0h11m7 0h1m15 0h1m19 0h1M182 467.5h2m6 0h2m1 0h12m3 0h1m3 0h4m27 0h2m2 0h2m6 0h1M183 468.5h1m6 0h13m5 0h1m6 0h1m31 0h1m6 0h2M190 469.5h14m1 0h1m2 0h1m3 0h1m30 0h1m3 0h1m6 0h1M187 470.5h4m1 0h5m1 0h4m1 0h1m1 0h1m5 0h2m4 0h2m10 0h1m12 0h2m4 0h1m1 0h2m1 0h2M186 471.5h19m2 0h1m14 0h1m25 0h1m4 0h1m2 0h1M181 472.5h1m5 0h5m1 0h2m4 0h5m4 0h1m9 0h1m24 0h2m6 0h1m2 0h1M187 473.5h7m1 0h4m1 0h4m4 0h2m3 0h1m4 0h2m14 0h1m2 0h1m5 0h1M188 474.5h1m1 0h7m4 0h3m5 0h1m25 0h1M194 475.5h3m4 0h1m2 0h1m2 0h1m14 0h1m5 0h1m2 0h1m4 0h1m1 0h2m16 0h1M185 476.5h1m7 0h4m20 0h2m2 0h1m9 0h1m4 0h4m2 0h1m8 0h1M184 477.5h2m8 0h4m10 0h1m2 0h2m3 0h2m6 0h1m10 0h2m1 0h1m12 0h1m2 0h1M185 478.5h2m7 0h1m1 0h1m1 0h1m9 0h1m2 0h2m13 0h1m9 0h2m1 0h1m10 0h2m1 0h2M185 479.5h1m10 0h1m10 0h2m1 0h1m1 0h2m10 0h1m7 0h1m13 0h1M185 480.5h1m10 0h1m8 0h5m3 0h1m8 0h1m2 0h1m2 0h1m2 0h1m3 0h1m14 0h1m1 0h1M192 481.5h1m11 0h6m1 0h3m7 0h1m1 0h3m7 0h2m4 0h1M192 482.5h2m1 0h1m8 0h1m1 0h3m4 0h2m2 0h2m15 0h1m3 0h1M193 483.5h2m1 0h1m7 0h3m1 0h3m1 0h1m1 0h1m1 0h1m18 0h1M189 484.5h6m1 0h1m8 0h7m1 0h5M189 485.5h8m11 0h2m1 0h2m1 0h5m7 0h1M188 486.5h1m1 0h5m11 0h15m2 0h1m2 0h1m6 0h1M188 487.5h8m9 0h1m1 0h13m1 0h1m1 0h4m1 0h1m3 0h2M186 488.5h1m1 0h3m1 0h4m1 0h1m8 0h16m6 0h1m4 0h1M185 489.5h1m1 0h4m1 0h6m2 0h3m2 0h17m2 0h1m1 0h1M184 490.5h4m1 0h1m2 0h10m2 0h15m4 0h1m7 0h2M185 491.5h13m2 0h12m3 0h4m12 0h1M185 492.5h4m2 0h4m1 0h4m1 0h9m21 0h1M189 493.5h1m2 0h7m2 0h4m1 0h3m4 0h1m4 0h1M187 494.5h1m2 0h8m3 0h4m1 0h1m1 0h1m5 0h1m8 0h1M186 495.5h1m1 0h2m3 0h7m1 0h2m4 0h1m14 0h2M187 496.5h7m2 0h5m2 0h1m1 0h1m2 0h1m13 0h1m3 0h1M186 497.5h17m1 0h1m7 0h2M185 498.5h1m1 0h3m1 0h13m1 0h1m10 0h1m5 0h1M185 499.5h2m1 0h5m1 0h12M185 500.5h21m2 0h1M185 501.5h15m4 0h1m6 0h1m2 0h1m7 0h1m3 0h1m3 0h1m5 0h1M185 502.5h9m1 0h2m1 0h2m3 0h1m3 0h2m3 0h1m11 0h1m5 0h1m2 0h3m1 0h1m1 0h1M184 503.5h10m3 0h3m8 0h1m7 0h3m1 0h1m3 0h5m10 0h2m1 0h2M184 504.5h8m1 0h2m2 0h5m8 0h1m4 0h1m1 0h3m5 0h3m4 0h1m23 0h1M183 505.5h2m1 0h15m8 0h1m4 0h3m1 0h1m1 0h1m5 0h1m13 0h1M183 506.5h1m1 0h4m1 0h2m6 0h4m6 0h2m1 0h1m1 0h2m2 0h4m3 0h1m1 0h1m10 0h4m1 0h2M185 507.5h5m1 0h1m2 0h1m2 0h6m2 0h2m1 0h7m2 0h4m4 0h1m13 0h2M185 508.5h3m3 0h1m5 0h4m1 0h2m1 0h5m1 0h11m21 0h1m7 0h1M185 509.5h3m2 0h3m2 0h4m1 0h2m1 0h9m1 0h10M187 510.5h1m7 0h4m1 0h2m1 0h9m2 0h10m2 0h1m16 0h1M188 511.5h1m7 0h4m1 0h2m2 0h20m2 0h1m1 0h1m15 0h1M172 512.5h1m3 0h1m5 0h1m1 0h2m6 0h1m2 0h5m2 0h27M175 513.5h1m1 0h2m3 0h1m5 0h1m3 0h9m3 0h26m2 0h1m26 0h1M166 514.5h1m2 0h1m22 0h34m1 0h2m1 0h1m1 0h1m19 0h1m3 0h1M166 515.5h1m3 0h2m8 0h1m1 0h1m10 0h6m1 0h10m1 0h2m1 0h7m1 0h8m1 0h2m17 0h1m5 0h1M172 516.5h3m3 0h1m1 0h1m1 0h2m8 0h17m1 0h2m1 0h5m3 0h1m1 0h8m19 0h1m5 0h2M168 517.5h1m4 0h2m4 0h1m7 0h1m1 0h3m1 0h4m1 0h5m1 0h4m6 0h1m2 0h1m4 0h9m1 0h1m16 0h1m8 0h1m1 0h1m18 0h1M166 518.5h1m5 0h2m13 0h20m4 0h1m6 0h1m2 0h10m1 0h2m14 0h3m16 0h1m12 0h1M173 519.5h1m6 0h1m8 0h2m2 0h6m1 0h3m2 0h3m3 0h3m1 0h3m1 0h2m3 0h7m2 0h1m15 0h1m17 0h1M172 520.5h1m3 0h1m11 0h3m3 0h10m1 0h5m1 0h3m2 0h3m4 0h9m1 0h1m15 0h1m3 0h1M175 521.5h1m12 0h1m1 0h1m2 0h6m3 0h2m1 0h2m1 0h2m2 0h5m1 0h2m4 0h8m7 0h1m6 0h1m2 0h1m3 0h1M167 522.5h2m13 0h2m7 0h2m1 0h3m1 0h1m3 0h6m2 0h1m1 0h1m1 0h7m3 0h5m16 0h1M167 523.5h3m11 0h1m2 0h2m1 0h1m6 0h5m4 0h1m1 0h5m1 0h8m1 0h1m3 0h4m3 0h1m9 0h1m11 0h1M169 524.5h1m2 0h1m17 0h1m2 0h2m1 0h3m1 0h2m1 0h2m1 0h3m1 0h2m2 0h7m1 0h8m11 0h1m2 0h1m2 0h2M169 525.5h3m1 0h2m2 0h2m5 0h3m6 0h8m1 0h9m5 0h17m13 0h1m21 0h2M169 526.5h1m1 0h1m3 0h1m2 0h1m8 0h2m4 0h12m1 0h8m2 0h19m11 0h1M172 527.5h1m20 0h10m3 0h6m1 0h1m3 0h7m2 0h2m1 0h4m35 0h1m8 0h1M175 528.5h1m16 0h11m1 0h1m1 0h2m1 0h3m1 0h1m5 0h5m2 0h2m1 0h1m1 0h1m2 0h1m49 0h1m7 0h1M181 529.5h1m7 0h19m2 0h2m1 0h1m2 0h2m1 0h5m7 0h1m55 0h1M173 530.5h1m12 0h28m3 0h1m1 0h4m43 0h1M186 531.5h8m1 0h21m1 0h6M181 532.5h3m1 0h10m1 0h20m1 0h6m5 0h1m3 0h1m7 0h2m16 0h2m9 0h2m4 0h1m21 0h1M179 533.5h36m2 0h7m16 0h1m1 0h2m14 0h1m10 0h1M181 534.5h26m2 0h2m1 0h3m3 0h7m1 0h2m4 0h1m10 0h2m12 0h1m3 0h1M180 535.5h10m1 0h15m1 0h2m1 0h1m1 0h2m3 0h2m1 0h6m5 0h1m9 0h1m5 0h1m21 0h1m1 0h1M180 536.5h1m2 0h8m1 0h10m1 0h1m13 0h2m1 0h4m2 0h2m3 0h3m4 0h5m4 0h1m23 0h1M179 537.5h1m2 0h20m2 0h2m17 0h1m8 0h1m1 0h1m3 0h2m54 0h1M179 538.5h2m1 0h1m1 0h7m1 0h10m2 0h1m2 0h1m1 0h1m8 0h3m1 0h1m2 0h1m7 0h3m3 0h1m23 0h1M180 539.5h3m1 0h18m3 0h1m5 0h1m6 0h2m8 0h9m4 0h1m20 0h1m35 0h1M180 540.5h4m1 0h13m8 0h4m3 0h1m1 0h1m2 0h3m8 0h8m3 0h1m1 0h1m16 0h1m3 0h1m33 0h2M182 541.5h16m1 0h1m1 0h2m4 0h2m1 0h4m1 0h1m2 0h1m9 0h1m3 0h8m50 0h1m7 0h2m122 0h1M182 542.5h6m1 0h1m1 0h11m1 0h7m1 0h3m3 0h1m1 0h2m8 0h1m2 0h8m49 0h1M183 543.5h1m2 0h16m1 0h11m16 0h1m2 0h4m2 0h2m2 0h2m13 0h1M184 544.5h6m1 0h9m1 0h3m1 0h7m1 0h1m2 0h1m1 0h1m1 0h1m12 0h6m2 0h1m7 0h1m10 0h2m14 0h1M184 545.5h11m1 0h6m1 0h2m1 0h4m1 0h1m1 0h2m2 0h2m5 0h1m3 0h1m4 0h12m15 0h2m38 0h1M188 546.5h2m2 0h23m1 0h4m3 0h2m8 0h8m1 0h1m2 0h1m3 0h1m5 0h1m6 0h1M189 547.5h1m1 0h12m1 0h16m5 0h1m8 0h3m1 0h2m1 0h2m10 0h4m1 0h4M191 548.5h9m1 0h1m1 0h18m2 0h1m2 0h1m4 0h1m1 0h1m1 0h3m1 0h2m7 0h1m4 0h1m5 0h2m27 0h1M189 549.5h2m2 0h8m3 0h17m3 0h2m6 0h1m1 0h5m14 0h1m4 0h1M189 550.5h1m4 0h7m2 0h17m1 0h1m2 0h1m1 0h1m9 0h2m2 0h1m11 0h1M188 551.5h1m1 0h2m2 0h5m1 0h20m13 0h1m4 0h1m3 0h1m4 0h1m13 0h1m1 0h1M189 552.5h9m1 0h1m1 0h21m14 0h1m2 0h1m15 0h3m1 0h1m13 0h1M190 553.5h4m1 0h5m1 0h1m1 0h16m4 0h3m3 0h1m25 0h2m1 0h1m12 0h1m24 0h1M190 554.5h3m1 0h5m5 0h16m2 0h5m3 0h2m15 0h1m6 0h1m3 0h1m1 0h1m3 0h1m1 0h1m30 0h1m2 0h1M190 555.5h8m3 0h1m1 0h1m1 0h15m3 0h5m2 0h1m13 0h1m3 0h1m5 0h3m1 0h1m189 0h2m1 0h2M191 556.5h7m7 0h10m2 0h3m3 0h3m4 0h1m17 0h2m8 0h1m4 0h1m3 0h3m172 0h1m1 0h1m1 0h5m1 0h1M191 557.5h8m7 0h7m2 0h1m2 0h1m5 0h1m1 0h4m12 0h1m5 0h1m4 0h2m2 0h1m1 0h1m3 0h1m5 0h2m1 0h2m3 0h1m29 0h1m115 0h1m21 0h3m1 0h2m1 0h1M192 558.5h7m6 0h5m2 0h1m1 0h1m1 0h4m7 0h1m19 0h3m1 0h2m1 0h1m2 0h2m1 0h1m3 0h2m1 0h4m1 0h2m2 0h2m2 0h1m20 0h1m4 0h2m134 0h2m1 0h4m1 0h2M193 559.5h8m5 0h1m1 0h1m2 0h2m1 0h2m1 0h3m7 0h2m1 0h1m16 0h4m1 0h1m1 0h1m1 0h6m2 0h2m2 0h4m1 0h1m1 0h1m3 0h1m11 0h1m152 0h5m8 0h1m1 0h1M191 560.5h1m1 0h3m1 0h1m1 0h2m3 0h1m3 0h1m3 0h1m3 0h1m3 0h1m7 0h1m20 0h4m4 0h3m1 0h1m3 0h1m1 0h5m6 0h2m1 0h1m11 0h1m148 0h1m1 0h4m8 0h2M192 561.5h3m1 0h1m1 0h4m8 0h2m2 0h1m3 0h1m1 0h1m12 0h1m4 0h1m9 0h4m1 0h2m1 0h3m1 0h1m1 0h1m1 0h1m1 0h5m6 0h5m11 0h1m152 0h1m2 0h1m6 0h4M189 562.5h3m19 0h1m2 0h1m4 0h1m5 0h1m1 0h3m2 0h1m4 0h1m3 0h1m1 0h1m2 0h1m1 0h2m1 0h1m4 0h3m6 0h1m2 0h3m5 0h3m1 0h2m1 0h2m149 0h1m7 0h2m2 0h4m4 0h8m2 0h1M189 563.5h6m9 0h3m6 0h1m2 0h1m4 0h1m2 0h3m1 0h2m1 0h3m5 0h1m1 0h1m5 0h2m1 0h1m3 0h6m8 0h3m7 0h1m2 0h2m1 0h2m5 0h2m134 0h1m5 0h1m10 0h2m1 0h3m3 0h10m4 0h1m1 0h1M187 564.5h2m15 0h1m1 0h1m3 0h1m1 0h4m2 0h2m1 0h1m1 0h12m2 0h6m11 0h5m9 0h3m11 0h3m142 0h1m1 0h1m2 0h3m1 0h1m1 0h1m4 0h1m3 0h4m1 0h10m3 0h1m1 0h4M187 565.5h2m2 0h3m11 0h1m3 0h2m5 0h1m1 0h3m3 0h19m13 0h3m24 0h1m4 0h1m2 0h1m138 0h1m2 0h2m1 0h1m1 0h3m2 0h3m2 0h1m4 0h4m1 0h8M186 566.5h1m2 0h1m1 0h3m13 0h2m1 0h1m5 0h1m6 0h19m4 0h1m6 0h1m2 0h2m2 0h1m14 0h3m1 0h1m2 0h4m1 0h1m141 0h2m2 0h1m1 0h2m2 0h8m1 0h3m2 0h1m2 0h2m1 0h4M186 567.5h1m5 0h1m12 0h7m7 0h1m2 0h20m4 0h1m1 0h1m12 0h1m8 0h1m4 0h3m5 0h2m144 0h1m1 0h1m1 0h2m2 0h12m4 0h1m1 0h7M190 568.5h1m1 0h2m12 0h2m1 0h1m13 0h19m1 0h1m4 0h2m5 0h1m3 0h1m1 0h2m1 0h1m4 0h1m3 0h7m2 0h2m2 0h1m147 0h1m5 0h8m2 0h1m1 0h7m1 0h1M192 569.5h1m13 0h3m3 0h2m8 0h21m2 0h1m2 0h3m8 0h1m3 0h1m1 0h1m6 0h1m3 0h1m1 0h2m3 0h1m155 0h17m1 0h1M205 570.5h1m3 0h1m2 0h1m1 0h1m1 0h1m2 0h1m2 0h21m2 0h7m1 0h1m3 0h1m5 0h1m7 0h3m1 0h2m1 0h3m1 0h1m157 0h6m4 0h1m2 0h2m2 0h1m1 0h1M208 571.5h2m3 0h1m1 0h1m5 0h1m1 0h4m1 0h1m1 0h14m1 0h7m1 0h1m1 0h1m1 0h4m1 0h3m4 0h1m1 0h1m1 0h1m4 0h3m163 0h3m1 0h7m3 0h1M205 572.5h1m4 0h3m8 0h5m5 0h1m1 0h17m2 0h1m3 0h13m6 0h1m7 0h1m164 0h5m2 0h2M205 573.5h1m3 0h3m2 0h3m4 0h3m10 0h3m1 0h12m6 0h1m1 0h9m1 0h2m7 0h1M205 574.5h1m2 0h2m3 0h5m16 0h1m1 0h2m1 0h1m1 0h9m8 0h11m1 0h1m1 0h1M207 575.5h1m1 0h1m1 0h1m4 0h2m1 0h1m5 0h2m4 0h1m3 0h2m1 0h14m7 0h11m2 0h1M209 576.5h3m6 0h1m2 0h1m8 0h3m1 0h1m1 0h7m1 0h9m7 0h10m1 0h3M208 577.5h1m9 0h1m3 0h1m4 0h1m1 0h1m4 0h3m2 0h14m5 0h7m1 0h7M190 578.5h1m1 0h1m12 0h2m1 0h1m1 0h1m6 0h1m7 0h1m4 0h1m1 0h7m1 0h13m5 0h1m6 0h1m4 0h5M191 579.5h1m15 0h1m1 0h2m13 0h3m1 0h10m1 0h14m5 0h1m9 0h7M192 580.5h1m18 0h2m2 0h2m4 0h1m2 0h2m2 0h4m1 0h6m1 0h4m1 0h1m1 0h5m17 0h5M217 581.5h2m5 0h1m1 0h5m3 0h11m1 0h6m1 0h2m15 0h4M223 582.5h1m1 0h3m1 0h1m1 0h1m2 0h3m1 0h4m2 0h1m1 0h6m1 0h1m14 0h1m1 0h4m1 0h2M225 583.5h2m1 0h1m4 0h2m6 0h1m1 0h12m15 0h5m2 0h1M227 584.5h1m1 0h4m1 0h2m8 0h2m3 0h7m13 0h7m1 0h1M228 585.5h5m1 0h3m4 0h6m1 0h8m15 0h5M228 586.5h4m1 0h1m9 0h12m1 0h2m12 0h1m1 0h3M227 587.5h5m9 0h4m1 0h2m1 0h6m15 0h3M229 588.5h1m1 0h1m15 0h2m2 0h3m10 0h1m3 0h1m2 0h1M227 589.5h1m2 0h1m17 0h4m18 0h1M228 590.5h2m1 0h1m11 0h1m4 0h1m2 0h3M227 591.5h1m2 0h1m1 0h1m10 0h1m1 0h2m3 0h1m1 0h1m4 0h2M230 592.5h7m5 0h1M231 593.5h1m3 0h1m10 0h1m11 0h2M245 594.5h4m9 0h1m2 0h1M255 598.5h1" stroke="#33cc00" stroke-width="1" fill="none" shape-rendering="crispEdges"/>
<path d="M327 536.5h1M328 537.5h1m62 0h1M328 538.5h6M326 539.5h1m4 0h2M324 540.5h1M329 541.5h1m13 0h2M342 542.5h1m61 0h1M396 544.5h1M345 546.5h1M407 551.5h1M391 553.5h1M392 555.5h1M352 556.5h1m5 0h1m34 0h1M353 557.5h2m1 0h1m2 0h1m2 0h2m28 0h3m39 0h1M350 558.5h1m5 0h1m1 0h6m1 0h2m1 0h1m22 0h3M353 559.5h1m1 0h2m2 0h3m1 0h1m1 0h3m24 0h2M351 560.5h1m1 0h1m2 0h2m1 0h1m2 0h2m2 0h1m1 0h4m5 0h1m2 0h1m1 0h1M351 561.5h4m2 0h1m6 0h1m1 0h2m2 0h2m3 0h1m1 0h1m1 0h4m1 0h1m19 0h1m3 0h1M350 562.5h1m1 0h3m9 0h1m2 0h2m1 0h3m2 0h3m1 0h6m12 0h1m3 0h1m2 0h1m1 0h1m2 0h1M349 563.5h8m9 0h7m2 0h1m1 0h1m1 0h6m13 0h2m1 0h4m2 0h2M310 564.5h1m36 0h2m1 0h1m1 0h5m9 0h3m1 0h13m3 0h1m18 0h1m15 0h1M344 565.5h1m3 0h1m1 0h3m1 0h1m1 0h2m9 0h3m1 0h2m1 0h9m2 0h1m9 0h1m1 0h1M312 566.5h1m30 0h1m1 0h3m1 0h9m11 0h5m1 0h1m2 0h2m1 0h3m10 0h1m8 0h1M346 567.5h1m2 0h2m25 0h1m1 0h1m1 0h1m1 0h4m7 0h3m1 0h1M379 568.5h3m1 0h1m9 0h4M346 569.5h2M345 570.5h1" stroke="#686868" stroke-width="1" fill="none" shape-rendering="crispEdges"/>
<path d="M273 397h8v3h-8zM268 432h4v4h-4zM313 428h2v1h-2zM330 415h2v1h-2zM342 411h2v1h-2zM387 395h2v1h-2zM281 427h2v2h-2zM423 396h3v5h-3zM388 395h3v1h-3zM407 411h2v1h-2zM368 501h2v1h-2zM300 418h2v1h-2zM226 436h3v2h-3zM468 520h2v2h-2zM480 503h1v2h-1zM512 500h2v1h-2z" fill="#fff" shape-rendering="crispEdges"/>
<path d="M585 229.5h1M621 272.5h1M498 357.5h1M510 362.5h1" stroke="#ff2b0a" stroke-width="1" fill="none" shape-rendering="crispEdges"/>
<path d="M587 228.5h1M592 233.5h1M589 236.5h1M591 238.5h1M593 240.5h1M586 245.5h1M531 264.5h1M475 352.5h1M467 356.5h1M455 365.5h1M447 378.5h1M487 360.5h1M492 356.5h1M501 353.5h1M500 363.5h1M491 367.5h1M485 363.5h1M504 370.5h1M505 357.5h1M513 366.5h1" stroke="#ffb329" stroke-width="1" fill="none" shape-rendering="crispEdges"/>
<path d="M587 256.5h1M529 229.5h1M529 235.5h1M582 265.5h1M606 275.5h1M612 285.5h1M450 323.5h1M478 323.5h1" stroke="#ffff33" stroke-width="1" fill="none" shape-rendering="crispEdges"/>
<polyline points="261.3,334.4 268,338 275.8,343.1 284.4,347.4 292,346.5 298.9,344.6" fill="none" stroke="#99e61a" stroke-width="1.8" stroke-dasharray="3 1"/>
<polyline points="298.9,344.6 305,339 310.4,334.4 319.1,331.6 327.8,335.9 333,343 336.4,348.9 345.1,354.7 348,366.2" fill="none" stroke="#6464ff" stroke-width="1.6" stroke-dasharray="3 1"/>
<polyline points="348,366.2 356.7,373.4" fill="none" stroke="#6464ff" stroke-width="1.2" stroke-dasharray="1 3"/>
<polyline points="369.5,387 374,383 379.8,377.8 386,372 391.3,369.1" fill="none" stroke="#6464ff" stroke-width="1.8" stroke-dasharray="3 1"/>
<polyline points="490,458.3 485,478.3 495,495 496.7,518.3" fill="none" stroke="#33cc00" stroke-width="1.2" stroke-dasharray="2 2"/>
<polyline points="164.4,443.3 166.7,438.9 173.3,432.2 182.2,431 188.9,418.9 193.3,416.7 197.8,418.9 208.9,427.8 211.1,434.4 211.1,443.3 214.4,454.4 213.3,458.9 216.7,474.4 225.6,477.8 230,482.8 233.7,486.5 232.4,493.8 234.9,503.6 237.3,508.5 239.8,501.1 244.7,498.7 254.4,497.5 261.8,490.1 266.7,492.6 259.3,498.7 261.8,508.5 269.1,515.8 276.5,520.7 286.2,519.5 289.9,513.3 291.1,509.7 300.9,508.5 305.8,501.1 313.1,496.2 322.9,491.3 332.7,492.6 337.6,488.9 342.5,485.2 343.7,476.7 347.4,471.8 351,464.4 364.5,469.3 366.9,474.2 384,479.1 391.4,471.8 398.7,468.1 408.5,468.1 415.8,471.8 423.2,470.6 430.5,471.8" fill="none" stroke="#000" stroke-width="1.1" stroke-linejoin="round"/>
<polyline points="430.5,471.8 431.7,480.3 425.6,486.5 415.8,490.1 408.5,496.2 393.8,498.7 391.4,503.6 393.8,510.9 396.3,513.3 388.9,513.3 381.6,515.8 376.7,523.1 376.7,530.5 370.6,537.8 371.8,540.2 381.6,539 391.4,539 401.1,541.5 404.8,545.1 406,552.5 403.6,557.4 408.5,564.3" fill="none" stroke="#000" stroke-width="1.1" stroke-linejoin="round"/>
<polyline points="430.5,471.8 436.5,469.9 443.8,468.7 445,461.4 448.7,456.5 456,454 470.7,449.1 480.5,447.9 482.9,441.8 485.4,432 484.2,423.5" fill="none" stroke="#000" stroke-width="1.1" stroke-linejoin="round"/>
<polyline points="484.2,423.5 475.6,421 468.3,414.9 460.9,405.1 451.1,395.4 441.4,390.5 437.7,384.4 441.4,375.8 448.7,363.6 454.8,346.5 459.7,326.9 465.8,312.2 468,304" fill="none" stroke="#000" stroke-width="1.1" stroke-linejoin="round"/>
<polyline points="484.2,423.5 486.7,422.4 498.9,423.7 516,422.4 528.3,423.7 543,424.9 548.8,421.5 557.7,415.6 563.9,405.8" fill="none" stroke="#000" stroke-width="1.1" stroke-linejoin="round"/>
<polyline points="368.2,236.1 372.3,249.8 376.4,237.5 384.6,231.3 396.3,232 391.5,234.7 392.2,249.8 401,253.9 403.8,258 401,262.1 417.5,267.6 423,271.7 418.9,282.6 424.4,288.1 427.1,301.8 439.4,303.1 438.1,311.4 444.8,318.2 448.9,315.4 450.3,304.5 451.6,299 455.7,301.8 465.4,301.8 468,304" fill="none" stroke="#000" stroke-width="1.1" stroke-linejoin="round"/>
<polyline points="468,304 480.9,300.1 495.3,298.7 506.9,301.6 512.7,292.9 521.3,288.6 525,278.1 530.6,273.9 537.5,271.1 544.4,268.3 551.4,269.7 558.3,268.3 563.9,265.6 569.4,262.8 573.6,262.8" fill="none" stroke="#000" stroke-width="1.1" stroke-linejoin="round"/>
<polyline points="524.2,174.4 527.1,180.2 544.4,177.3 551.4,185 557,190.6 562.5,192.6 570.8,189.2 577.8,188.5 584.7,189.9 593,192 595.8,194.7 594.4,197.5 598.6,200.3 597.2,203 593,204.4 588.9,207.2 590.3,212.8 588.9,218.3 586.1,222.5 580.6,225.3 572.2,223.9 566.7,226.7 565.3,232.2 561.1,236.4 559.7,242 557,246.1 555.6,253.1 559.7,255.8 563.9,257.2 570.8,260 573.6,262.8" fill="none" stroke="#000" stroke-width="1.1" stroke-linejoin="round"/>
<polyline points="595.8,194.7 600,198.9 605.6,200.3 611.1,197.5 615.3,194.7 619.4,196.1 622.2,193.3 625,189.2 629.2,187.8 633.3,190.6 634.7,197.5 636.1,203" fill="none" stroke="#000" stroke-width="1.1" stroke-linejoin="round"/>
<polyline points="636.1,203 641.7,205.8 650,206.5 658.3,204.4 666.7,204.4 672.2,201.7 673.6,194.7 676.4,193.3 680.6,187.8 681.9,184.3 690.3,183.6 694.4,185.7 698.6,182.2 701.4,178.1 702.8,171.1 705.6,167.6 711.1,170.4 715.3,172.5 722.2,170.4 725,166.9 723.6,164.2 722.2,161.4 719.4,160 716.8,157.9 716.8,151.3 722.5,150.3 732,149.4 743.3,148.4 752.8,147.5" fill="none" stroke="#000" stroke-width="1.1" stroke-linejoin="round"/>
<polyline points="616.7,196.1 616.7,205.8 618,215.6 622.2,218.3 626.4,215.6 627.8,211.4 633.3,211.4" fill="none" stroke="#000" stroke-width="1.1" stroke-linejoin="round"/>
<polyline points="601.4,266.5 602.8,262.8 605.6,258.6 611.1,253.1 616.7,250.3 622.2,247.5 625,246.1 622.2,243.3 618,243.3 613.9,239.2 611.1,236.4 611.1,232.2 615.3,230.8 622.2,230.8 625,228.1 627.8,225.3 630.6,221.1 630.6,216.9 633.3,212.8 634.7,210 636.1,203" fill="none" stroke="#000" stroke-width="1.1" stroke-linejoin="round"/>
<polyline points="573.6,262.8 580.6,262.8 586.1,260 590.3,262.8 594.4,266.9 602.8,269.7 611.1,272.5 619.4,272.5 625,273.9 630.6,275.3 636.1,278.1 643.1,282.2 650,285 655.6,290.6 661.1,293.3" fill="none" stroke="#000" stroke-width="1.1" stroke-linejoin="round"/>
<polyline points="661.1,293.3 659.7,298.9 658.3,312.8 656.9,322.5 647.2,329.4 640.3,333.6 633.3,337.8 627.8,340.6 625,344.7" fill="none" stroke="#000" stroke-width="1.1" stroke-linejoin="round"/>
<polyline points="661.1,293.3 666.7,287.8 675,287.8 688.4,284.8 707.4,284.8 716.9,284.4 722.8,281.5" fill="none" stroke="#000" stroke-width="1.1" stroke-linejoin="round"/>
<polyline points="633.3,397.5 637.3,406.8 641.7,415.6 637.8,421.7 645.6,423.6 657.2,425.6 665,427.5 674.7,431.4 678.6,435.3 680.6,443" fill="none" stroke="#000" stroke-width="1.1" stroke-linejoin="round"/>
<polygon points="255,180 262.2,183.3 266.7,185.6 272.2,191 275.6,198.9 282.2,207.8 283.3,212.2 286.7,221 290,230 290.7,237.8 285.6,245.6 281.1,251 281.1,258.9 283.3,267.8 292.2,264.4 304.4,266.7 315.6,265.6 327.8,266.7 330,258.9 340,257.8 346.7,247.8 355.6,241 364.4,236.7 368.9,227.8 373.3,212.2 380,203.3 391.1,201.1 400,201.1 411.6,209.1 423.1,214.9 434.7,219.2 446.2,222.1 457.8,222.1 469.3,220.7 480.9,219.2 489.6,212 492.4,203.3 494.4,200.1 498.8,187.1 500.2,178.4 508.9,177 523.3,174.1 532,166.9 537.8,161.1 542.1,152.4 545,140.9 547.9,132.2 558,126.4 569.6,120.7 575.3,114.9 584,109.1 589.8,100.4 597,91.8 610,87.4 624.4,83.1 630.2,77.3 631.7,73 641.8,71.6 659.1,70.1 670.7,72.1 682.2,76.8 699.6,77.9 716.9,77.9 727,79.6 731.3,91.8 734.2,106.2 738.6,123.6 743.3,131.4 745.2,138.9 750.9,144.6 752.8,150.3 753.8,157.9 756.6,161.7 757.6,173 758.5,186.3 758.5,203.3 756.6,214.7 754.7,226.1 752.8,229.9 749,229.9 743.3,226.1 735.8,222.3 730.1,219.5 724.4,222.3 718.7,229.9 713,239.3 707.4,248.8 705.5,256.4 707.4,265.9 711.1,267.8 714.9,273.4 720.6,279.1 726.3,282.9 735.8,284.8 754.7,284.8 755.7,271.5 757.6,264.9 766.1,265.9 777.4,266.8 792.6,266.8 793.5,271.5 790.7,281 787.9,290.5 784.7,293.3 781.9,303.1 780.6,312.8 779.2,322.5 775,329.4 773.6,336.4 766.7,340.6 759.7,347.5 755.6,350.3 748.6,353.1 741.7,360 733.3,368.3 726.4,375.3 719.4,383.6 716,390.6 715.3,394.7 711.1,398.9 707,404.4 704.2,410 700,417.8 692.2,431.4 680.6,443 665,456.7 651.4,466.4 641.7,474.2 633.9,483.9 622.2,495.6 608.6,505.3 597,513 585.3,520.8 569.7,534.4 555.2,542.2 547.8,545.9 535.6,552 525.8,554.5 516,555.7 506.3,553.3 496.5,554.5 491.6,558.1 492.8,563 489.1,566.7 476.9,565.5 462.2,566.7 457.4,572.8 447.6,572.8 440.2,570.4 425.6,566.7 410.9,565.5 396.2,569.1 379.1,568 364.4,565.5 350,567.8 345.6,570 336.7,576.7 327.8,578.9 318.9,581.1 305.6,580 296.7,581.1 287.8,583.3 279.7,583.7 275.7,585.7 271.7,588.3 268.3,591 265,593.7 259.7,595.7 258.3,597.7 254.3,600.3 250.3,598.3 247,597 242.3,597.7 238.3,596.3 235,593 231,593.7 227.7,591 227.7,587 225,583 222.1,582.5 217.5,581.8 210.6,580.6 205.9,580.6 205.9,573.7 203.6,569.1 199,567.9 192,569.1 190.3,571.4 192,576 192,580.6 188.6,577.2 186.3,572.5 185.7,566.8 188.6,563.3 192,559.8 189.7,552.9 186.3,547.1 181.6,541.3 177,535.5 172.4,528.6 168.9,525.1 166.6,520.5 166,515.8 167.7,512.4 171.2,511.2 174.7,513.5 180.5,510.6 183.9,506.6 185.7,501.9 185.1,495 184.4,490 183.3,478.9 180,467.8 174.4,458.9 165.6,450 160,438.9 152.2,423.3 144.4,414.4 138.9,401 133.3,387.8 126.7,370 122.2,360 113.3,346.7 107.8,340 113.3,335.6 120,332.2 121.1,325.6 124.4,320 128.9,316.7 135.6,316.7 140,322.2 146.7,326.7 144.4,333.3 146.7,337.8 148.9,344.4 157.8,345.6 171.1,348.9 177.8,352.2 197.8,350 211.1,351.1 217.8,354.4 223.3,352.2 224.4,346.7 233.3,345.6 235.6,338.9 242.2,334.4 255.3,333" fill="none" stroke="#000" stroke-width="2.2" stroke-linejoin="round"/>
<polygon points="618,338.5 625,344.7 630.6,351.7 638.9,357.2 645.8,361.4 648.6,368.3 648.6,372.5 644.4,376.7 641.7,382.2 638.9,385 637.5,390.6 637.5,394.7 633.3,397.5 625,400.3 615.3,403.1 606.9,404.4 602.8,407.2 600,410 596,418.6 593.1,424.5 584.2,424.5 572.4,418.6 565.1,409.7 563.9,405.8 562.5,401.7 558.3,394.7 554.2,386.4 550,383.6 554.2,380.8 561.1,378.1 563.9,373.9 569.4,365.6 576.4,358.6 579.2,353.1 591.7,348.9 595.8,343.3 605.6,340.6" fill="#fff" stroke="#000" stroke-width="2.2" stroke-linejoin="round"/>
</svg>
<h1>South Africa</h1>
<div class="info" style="top:658px;font-weight:bold;letter-spacing:0.13px">Agricultural Stress Index (ASI)</div>
<div class="info" style="top:688px">% of cropland area affected by severe drought</div>
<div class="info" style="top:718px">per GAUL 2 region</div>
<div class="info" style="top:748px"><span style="display:inline-block;width:54.7px">from</span>: start of SEASON 1</div>
<div class="info" style="top:778px"><span style="display:inline-block;width:45px">to</span>: dekad 3 September 2025</div>
<div class="info" style="top:838px">METOP-AVHRR</div>
<div class="info" style="top:868px">WGS84, Geographic Lat/Lon</div>

<div class="leg-title">ASI (%)</div>
<div class="sw" style="top:671px;background:#33cc00"></div>
<div class="sw" style="top:688px;background:#99e61a"></div>
<div class="sw" style="top:705px;background:#ffff33"></div>
<div class="sw" style="top:722px;background:#ffb329"></div>
<div class="sw" style="top:739px;background:#ff751a"></div>
<div class="sw" style="top:756px;background:#ff2b0a"></div>
<div class="sw" style="top:773px;background:#c00000"></div>
<div class="sw" style="top:801px;background:#6464ff"></div>
<div class="sw" style="top:818px;background:#000"></div>
<div class="sw" style="top:835px;background:#686868"></div>
<div class="sw" style="top:852px;background:#cccccc"></div>
<div class="lb" style="top:675px">&lt; 10</div>
<div class="lb" style="top:692px">10 - 25</div>
<div class="lb" style="top:709px">25 - 40</div>
<div class="lb" style="top:726px">40 - 55</div>
<div class="lb" style="top:743px">55 - 70</div>
<div class="lb" style="top:760px">70 - 85</div>
<div class="lb" style="top:777px">&gt;= 85</div>
<div class="lb lw" style="top:805px">off season</div>
<div class="lb lw" style="top:822px">no data</div>
<div class="lb lw" style="top:839px">no seasons</div>
<div class="lb lw" style="top:856px">no cropland</div>

<svg class="map" width="900" height="950" viewBox="0 0 900 950" style="pointer-events:none">
 <g transform="translate(701.1,758.9)">
  <circle r="27" fill="#fff" stroke="#1a1a1a" stroke-width="2.5"/>
  <g font-family="Liberation Sans" font-weight="bold" font-size="16.3" fill="#1a1a1a" text-anchor="middle">
   <text transform="translate(-17.8,2.2) scale(0.9,1)">F</text>
   <text transform="translate(-0.1,-10.9) scale(0.84,1)">A</text>
   <text transform="translate(17.8,2.2) scale(0.84,1)">O</text>
  </g>
  <path fill="#1a1a1a" d="M-4.3,-4.3 Q0,-2.4 4.3,-4.3 L5.8,0 L7.0,4.6 Q7.8,8.5 6.4,12.2 Q4,16.3 0,16.4 Q-4,16.3 -6.4,12.2 Q-7.8,8.5 -7.0,4.6 L-5.8,0 Z"/>
  <g fill="none" stroke="#fff" stroke-width="0.85">
   <path d="M-5.6,-6 L-5.1,-2.2 Q0,8.6 5.1,-2.2 L5.6,-6"/>
   <path d="M-7.4,-1 L-7,3.6 Q0,16.8 7,3.6 L7.4,-1"/>
  </g>
  <g fill="none" stroke="#1a1a1a" stroke-width="1.2" stroke-linecap="butt">
   <path d="M-10.8,-20.6 L-4.2,-4.3 M10.8,-20.6 L4.2,-4.3"/>
   <path d="M-13.7,-20.6 L-5.8,0 M13.7,-20.6 L5.8,0"/>
   <path d="M-16.6,-20.3 L-7.0,4.6 M16.6,-20.3 L7.0,4.6"/>
  </g>
  <path d="M0.1,-10.6 C1.3,-8.7 2.3,-7.2 2.3,-6.1 C2.3,-5 1.3,-4.6 0.1,-4.6 C-1.1,-4.6 -2.1,-5 -2.1,-6.1 C-2.1,-7.2 -1.1,-8.7 0.1,-10.6Z" fill="#1a1a1a"/>
  <line x1="0" y1="15" x2="0" y2="26" stroke="#1a1a1a" stroke-width="1.4"/>
  <defs>
   <path id="arcL" d="M-22.55,8.21 A24,24 0 0 0 -6.21,23.18"/>
   <path id="arcR" d="M4.99,23.48 A24,24 0 0 0 23.18,6.21"/>
  </defs>
  <text font-family="Liberation Sans" font-size="6.6" font-weight="bold" fill="#1a1a1a" letter-spacing="1.6"><textPath href="#arcL">FIAT</textPath></text>
  <text font-family="Liberation Sans" font-size="6.6" font-weight="bold" fill="#1a1a1a" letter-spacing="0.9"><textPath href="#arcR">PANIS</textPath></text>
 </g>
 <line x1="672.9" y1="802.4" x2="888" y2="802.4" stroke="#1a1a1a" stroke-width="2"/>
</svg>
<div class="fao" style="top:735.4px">Food and Agriculture</div>
<div class="fao" style="top:753.3px;transform:scaleX(0.94)">Organization of the</div>
<div class="fao" style="top:771.2px">United Nations</div>
<div class="giews" style="top:814.1px">Global Information and Early</div>
<div class="giews" style="top:832.6px;transform:scaleX(0.93)">Warning System – GIEWS</div>

<div class="disc" style="top:911.8px">Disclaimer: The boundaries and names shown and the designations used on this map do not imply the expression of any opinion whatsoever on the part of FAO</div>
<div class="disc" style="top:926.1px">concerning the legal status of any country, territory, area or of its authorities, or concerning the delimitation of its frontiers and boundaries.</div>
<div class="frame"></div>
</body></html>
